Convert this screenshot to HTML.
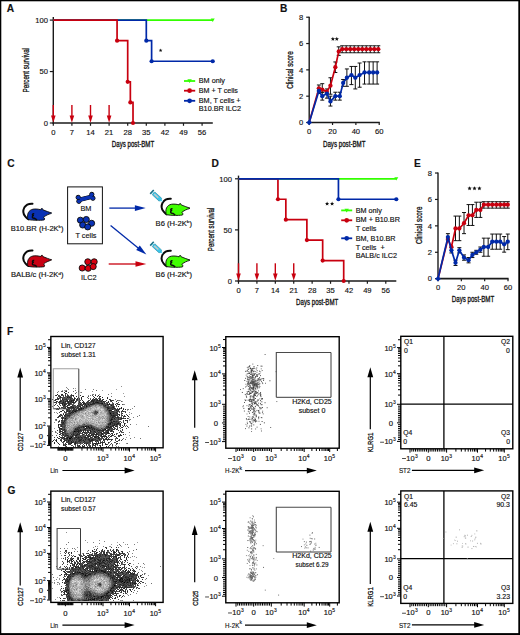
<!DOCTYPE html>
<html><head><meta charset="utf-8"><style>
html,body{margin:0;padding:0;background:#fff;}
svg{display:block;}
text{font-family:"Liberation Sans",sans-serif;fill:#111;stroke:#111;stroke-width:0.15px;}
text.c{stroke-width:0.3px;}
</style></head><body>
<svg width="520" height="635" viewBox="0 0 520 635">
<rect x="0" y="0" width="520" height="635" fill="#000"/>
<rect x="1.3" y="1.3" width="517" height="631.8" fill="#fff"/>
<text x="6.8" y="11.9" font-size="10.2" font-weight="bold" fill="#000">A</text>
<text x="279.9" y="12.1" font-size="10.2" font-weight="bold" fill="#000">B</text>
<text x="7.2" y="167.3" font-size="10.2" font-weight="bold" fill="#000">C</text>
<text x="211.4" y="167.3" font-size="10.2" font-weight="bold" fill="#000">D</text>
<text x="413.9" y="167.1" font-size="10.2" font-weight="bold" fill="#000">E</text>
<text x="7" y="334.6" font-size="10.2" font-weight="bold" fill="#000">F</text>
<text x="7.5" y="493.6" font-size="10.2" font-weight="bold" fill="#000">G</text>
<line x1="53.3" y1="16.9" x2="53.3" y2="123.8" stroke="#1a1a1a" stroke-width="1.4"/>
<line x1="52.6" y1="123" x2="212.8" y2="123" stroke="#1a1a1a" stroke-width="1.7"/>
<line x1="49.8" y1="20.1" x2="53.3" y2="20.1" stroke="#1a1a1a" stroke-width="1.2"/>
<text x="48" y="22.85" font-size="7.6" text-anchor="end">100</text>
<line x1="49.8" y1="71.55" x2="53.3" y2="71.55" stroke="#1a1a1a" stroke-width="1.2"/>
<text x="48" y="74.3" font-size="7.6" text-anchor="end">50</text>
<line x1="49.8" y1="123" x2="53.3" y2="123" stroke="#1a1a1a" stroke-width="1.2"/>
<text x="48" y="125.75" font-size="7.6" text-anchor="end">0</text>
<line x1="53.3" y1="123" x2="53.3" y2="125.8" stroke="#1a1a1a" stroke-width="1.2"/>
<text x="53.3" y="134.9" font-size="7.6" text-anchor="middle">0</text>
<line x1="71.9" y1="123" x2="71.9" y2="125.8" stroke="#1a1a1a" stroke-width="1.2"/>
<text x="71.9" y="134.9" font-size="7.6" text-anchor="middle">7</text>
<line x1="90.5" y1="123" x2="90.5" y2="125.8" stroke="#1a1a1a" stroke-width="1.2"/>
<text x="90.5" y="134.9" font-size="7.6" text-anchor="middle">14</text>
<line x1="109.1" y1="123" x2="109.1" y2="125.8" stroke="#1a1a1a" stroke-width="1.2"/>
<text x="109.1" y="134.9" font-size="7.6" text-anchor="middle">21</text>
<line x1="127.7" y1="123" x2="127.7" y2="125.8" stroke="#1a1a1a" stroke-width="1.2"/>
<text x="127.7" y="134.9" font-size="7.6" text-anchor="middle">28</text>
<line x1="146.3" y1="123" x2="146.3" y2="125.8" stroke="#1a1a1a" stroke-width="1.2"/>
<text x="146.3" y="134.9" font-size="7.6" text-anchor="middle">35</text>
<line x1="164.89" y1="123" x2="164.89" y2="125.8" stroke="#1a1a1a" stroke-width="1.2"/>
<text x="164.89" y="134.9" font-size="7.6" text-anchor="middle">42</text>
<line x1="183.49" y1="123" x2="183.49" y2="125.8" stroke="#1a1a1a" stroke-width="1.2"/>
<text x="183.49" y="134.9" font-size="7.6" text-anchor="middle">49</text>
<line x1="202.09" y1="123" x2="202.09" y2="125.8" stroke="#1a1a1a" stroke-width="1.2"/>
<text x="202.09" y="134.9" font-size="7.6" text-anchor="middle">56</text>
<text x="28.61" y="70.2" font-size="8.4" text-anchor="middle" textLength="44.4" lengthAdjust="spacingAndGlyphs" transform="rotate(-90 28.61 70.2)" class="c">Percent survival</text>
<text x="133" y="147.14" font-size="8.2" text-anchor="middle" textLength="42.3" lengthAdjust="spacingAndGlyphs" class="c">Days post-BMT</text>
<path d="M53.3 20.1 L212.72 20.1" fill="none" stroke="#33ff00" stroke-width="1.7" stroke-linejoin="miter"/>
<path d="M210.72 18.5 L214.72 18.5 L212.72 21.9 Z" fill="#33ff00"/>
<path d="M53.3 20.1 L146.3 20.1 L146.3 40.68 L151.61 40.68 L151.61 61.26 L212.72 61.26" fill="none" stroke="#0029a8" stroke-width="1.7" stroke-linejoin="miter"/>
<circle cx="146.3" cy="40.68" r="2.1" fill="#0029a8"/>
<circle cx="151.61" cy="61.26" r="2.1" fill="#0029a8"/>
<circle cx="212.72" cy="61.26" r="2.1" fill="#0029a8"/>
<path d="M53.3 20.1 L117.07 20.1 L117.07 40.68 L127.7 40.68 L127.7 81.84 L130.35 81.84 L130.35 102.42 L133.01 102.42 L133.01 123" fill="none" stroke="#c8000f" stroke-width="1.7" stroke-linejoin="miter"/>
<circle cx="117.07" cy="40.68" r="2.1" fill="#c8000f"/>
<circle cx="127.7" cy="81.84" r="2.1" fill="#c8000f"/>
<circle cx="130.35" cy="102.42" r="2.1" fill="#c8000f"/>
<circle cx="133.01" cy="123" r="2.1" fill="#c8000f"/>
<line x1="53.3" y1="105" x2="53.3" y2="116.3" stroke="#c8000f" stroke-width="1.4"/>
<path d="M51 115.6 L55.6 115.6 L53.3 122.8 Z" fill="#c8000f"/>
<line x1="71.9" y1="105" x2="71.9" y2="116.3" stroke="#c8000f" stroke-width="1.4"/>
<path d="M69.6 115.6 L74.2 115.6 L71.9 122.8 Z" fill="#c8000f"/>
<line x1="90.5" y1="105" x2="90.5" y2="116.3" stroke="#c8000f" stroke-width="1.4"/>
<path d="M88.2 115.6 L92.8 115.6 L90.5 122.8 Z" fill="#c8000f"/>
<line x1="109.1" y1="105" x2="109.1" y2="116.3" stroke="#c8000f" stroke-width="1.4"/>
<path d="M106.8 115.6 L111.4 115.6 L109.1 122.8 Z" fill="#c8000f"/>
<path d="M160.6 48.5 L161.1 49.71 L162.41 49.81 L161.41 50.66 L161.72 51.94 L160.6 51.26 L159.48 51.94 L159.79 50.66 L158.79 49.81 L160.1 49.71Z" fill="#111"/>
<line x1="184" y1="81" x2="195.2" y2="81" stroke="#33ff00" stroke-width="1.8"/>
<path d="M187.4 79.24 L191.8 79.24 L189.6 82.98 Z" fill="#33ff00"/>
<line x1="184" y1="90.7" x2="195.2" y2="90.7" stroke="#c8000f" stroke-width="1.8"/>
<circle cx="189.6" cy="90.7" r="2.35" fill="#c8000f"/>
<line x1="184" y1="100.8" x2="195.2" y2="100.8" stroke="#0029a8" stroke-width="1.8"/>
<circle cx="189.6" cy="100.8" r="2.35" fill="#0029a8"/>
<text x="198.8" y="83.4" font-size="6.7" textLength="26.14" lengthAdjust="spacingAndGlyphs">BM only</text>
<text x="198.8" y="93.1" font-size="6.7" textLength="39.1" lengthAdjust="spacingAndGlyphs">BM + T cells</text>
<text x="198.8" y="103.3" font-size="6.7" textLength="41.75" lengthAdjust="spacingAndGlyphs">BM, T cells +</text>
<text x="198.8" y="111.3" font-size="6.7" textLength="42.23" lengthAdjust="spacingAndGlyphs">B10.BR ILC2</text>
<!--PANEL_B-->
<line x1="309.2" y1="16.72" x2="309.2" y2="123.2" stroke="#1a1a1a" stroke-width="1.4"/>
<line x1="308.5" y1="122.5" x2="379.82" y2="122.5" stroke="#1a1a1a" stroke-width="1.7"/>
<line x1="306.2" y1="122.5" x2="309.2" y2="122.5" stroke="#1a1a1a" stroke-width="1.2"/>
<text x="303.3" y="125.25" font-size="7.6" text-anchor="end">0</text>
<line x1="306.2" y1="96.18" x2="309.2" y2="96.18" stroke="#1a1a1a" stroke-width="1.2"/>
<text x="303.3" y="98.93" font-size="7.6" text-anchor="end">2</text>
<line x1="306.2" y1="69.86" x2="309.2" y2="69.86" stroke="#1a1a1a" stroke-width="1.2"/>
<text x="303.3" y="72.61" font-size="7.6" text-anchor="end">4</text>
<line x1="306.2" y1="43.54" x2="309.2" y2="43.54" stroke="#1a1a1a" stroke-width="1.2"/>
<text x="303.3" y="46.29" font-size="7.6" text-anchor="end">6</text>
<line x1="306.2" y1="17.22" x2="309.2" y2="17.22" stroke="#1a1a1a" stroke-width="1.2"/>
<text x="303.3" y="19.97" font-size="7.6" text-anchor="end">8</text>
<line x1="309.2" y1="122.5" x2="309.2" y2="125" stroke="#1a1a1a" stroke-width="1.2"/>
<text x="309.2" y="134.3" font-size="7.6" text-anchor="middle">0</text>
<line x1="332.54" y1="122.5" x2="332.54" y2="125" stroke="#1a1a1a" stroke-width="1.2"/>
<text x="332.54" y="134.3" font-size="7.6" text-anchor="middle">20</text>
<line x1="355.88" y1="122.5" x2="355.88" y2="125" stroke="#1a1a1a" stroke-width="1.2"/>
<text x="355.88" y="134.3" font-size="7.6" text-anchor="middle">40</text>
<line x1="379.22" y1="122.5" x2="379.22" y2="125" stroke="#1a1a1a" stroke-width="1.2"/>
<text x="379.22" y="134.3" font-size="7.6" text-anchor="middle">60</text>
<text x="293.21" y="70.1" font-size="8.4" text-anchor="middle" textLength="37.5" lengthAdjust="spacingAndGlyphs" transform="rotate(-90 293.21 70.1)" class="c">Clinical score</text>
<text x="344.21" y="146.64" font-size="8.2" text-anchor="middle" textLength="42.5" lengthAdjust="spacingAndGlyphs" class="c">Days post-BMT</text>
<path d="M332.9 36.75 L333.5 38.18 L335.04 38.3 L333.86 39.31 L334.22 40.82 L332.9 40.01 L331.58 40.82 L331.94 39.31 L330.76 38.3 L332.3 38.18Z" fill="#111"/>
<path d="M336.8 36.75 L337.4 38.18 L338.94 38.3 L337.76 39.31 L338.12 40.82 L336.8 40.01 L335.48 40.82 L335.84 39.31 L334.66 38.3 L336.2 38.18Z" fill="#111"/>
<path d="M318.89 90.92V84.99M316.89 90.92h4M316.89 84.99h4M322.27 92.23V83.68M320.27 92.23h4M320.27 83.68h4M330.44 94.21V77.76M328.44 94.21h4M328.44 77.76h4M335.34 72.49V61.96M333.34 72.49h4M333.34 61.96h4M338.73 55.38V46.83M336.73 55.38h4M336.73 46.83h4M342.2 52.75V45.78M340.2 52.75h4M340.2 45.78h4M346.21 52.75V45.78M344.21 52.75h4M344.21 45.78h4M350.22 52.75V45.78M348.22 52.75h4M348.22 45.78h4M354.23 52.75V45.78M352.23 52.75h4M352.23 45.78h4M358.24 52.75V45.78M356.24 52.75h4M356.24 45.78h4M362.25 52.75V45.78M360.25 52.75h4M360.25 45.78h4M366.26 52.75V45.78M364.26 52.75h4M364.26 45.78h4M370.27 52.75V45.78M368.27 52.75h4M368.27 45.78h4M374.28 52.75V45.78M372.28 52.75h4M372.28 45.78h4M378.29 52.75V45.78M376.29 52.75h4M376.29 45.78h4M318.89 93.55V88.28M316.89 93.55h4M316.89 88.28h4M322.27 100.13V92.23M320.27 100.13h4M320.27 92.23h4M326.94 98.15V88.94M324.94 98.15h4M324.94 88.94h4M330.44 106.05V96.18M328.44 106.05h4M328.44 96.18h4M335.34 100.13V92.23M333.34 100.13h4M333.34 92.23h4M339.78 100.13V92.23M337.78 100.13h4M337.78 92.23h4M343.16 86.31V79.47M341.16 86.31h4M341.16 79.47h4M346.89 86.31V68.94M344.89 86.31h4M344.89 68.94h4M351.45 84.6V66.44M349.45 84.6h4M349.45 66.44h4M355.3 88.94V66.44M353.3 88.94h4M353.3 66.44h4M359.61 87.23V63.02M357.61 87.23h4M357.61 63.02h4M364.52 84.07V61.83M362.52 84.07h4M362.52 61.83h4M369.18 84.07V61.83M367.18 84.07h4M367.18 61.83h4M373.15 84.07V61.83M371.15 84.07h4M371.15 61.83h4M377.12 84.07V61.83M375.12 84.07h4M375.12 61.83h4" stroke="#111" stroke-width="1" fill="none"/>
<path d="M309.2 122.5 L318.89 88.28 L322.27 89.6 L326.82 91.57 L330.44 85.65 L335.34 67.23 L338.73 51.44 L342.2 49.2 L346.21 49.2 L350.22 49.2 L354.23 49.2 L358.24 49.2 L362.25 49.2 L366.26 49.2 L370.27 49.2 L374.28 49.2 L378.29 49.2" fill="none" stroke="#c8000f" stroke-width="1.7" stroke-linejoin="miter"/>
<circle cx="318.89" cy="88.28" r="2.15" fill="#c8000f"/>
<circle cx="322.27" cy="89.6" r="2.15" fill="#c8000f"/>
<circle cx="326.82" cy="91.57" r="2.15" fill="#c8000f"/>
<circle cx="330.44" cy="85.65" r="2.15" fill="#c8000f"/>
<circle cx="335.34" cy="67.23" r="2.15" fill="#c8000f"/>
<circle cx="338.73" cy="51.44" r="2.15" fill="#c8000f"/>
<circle cx="342.2" cy="49.2" r="2.15" fill="#c8000f"/>
<circle cx="346.21" cy="49.2" r="2.15" fill="#c8000f"/>
<circle cx="350.22" cy="49.2" r="2.15" fill="#c8000f"/>
<circle cx="354.23" cy="49.2" r="2.15" fill="#c8000f"/>
<circle cx="358.24" cy="49.2" r="2.15" fill="#c8000f"/>
<circle cx="362.25" cy="49.2" r="2.15" fill="#c8000f"/>
<circle cx="366.26" cy="49.2" r="2.15" fill="#c8000f"/>
<circle cx="370.27" cy="49.2" r="2.15" fill="#c8000f"/>
<circle cx="374.28" cy="49.2" r="2.15" fill="#c8000f"/>
<circle cx="378.29" cy="49.2" r="2.15" fill="#c8000f"/>
<path d="M309.2 122.5 L318.89 90.92 L322.27 96.18 L326.94 93.55 L330.44 101.44 L335.34 96.18 L339.78 96.18 L343.16 83.02 L346.89 77.76 L351.45 75.12 L355.3 77.76 L359.61 75.12 L364.52 72.49 L369.18 72.49 L373.15 72.49 L377.12 72.49" fill="none" stroke="#0029a8" stroke-width="1.7" stroke-linejoin="miter"/>
<circle cx="318.89" cy="90.92" r="2.15" fill="#0029a8"/>
<circle cx="322.27" cy="96.18" r="2.15" fill="#0029a8"/>
<circle cx="326.94" cy="93.55" r="2.15" fill="#0029a8"/>
<circle cx="330.44" cy="101.44" r="2.15" fill="#0029a8"/>
<circle cx="335.34" cy="96.18" r="2.15" fill="#0029a8"/>
<circle cx="339.78" cy="96.18" r="2.15" fill="#0029a8"/>
<circle cx="343.16" cy="83.02" r="2.15" fill="#0029a8"/>
<circle cx="346.89" cy="77.76" r="2.15" fill="#0029a8"/>
<circle cx="351.45" cy="75.12" r="2.15" fill="#0029a8"/>
<circle cx="355.3" cy="77.76" r="2.15" fill="#0029a8"/>
<circle cx="359.61" cy="75.12" r="2.15" fill="#0029a8"/>
<circle cx="364.52" cy="72.49" r="2.15" fill="#0029a8"/>
<circle cx="369.18" cy="72.49" r="2.15" fill="#0029a8"/>
<circle cx="373.15" cy="72.49" r="2.15" fill="#0029a8"/>
<circle cx="377.12" cy="72.49" r="2.15" fill="#0029a8"/>
<path d="M309.2 119.7l2.8 2.8l-2.8 2.8l-2.8 -2.8z" fill="#0029a8"/>
<line x1="438" y1="172.52" x2="438" y2="279.4" stroke="#1a1a1a" stroke-width="1.4"/>
<line x1="437.3" y1="278.7" x2="508.6" y2="278.7" stroke="#1a1a1a" stroke-width="1.7"/>
<line x1="435" y1="278.7" x2="438" y2="278.7" stroke="#1a1a1a" stroke-width="1.2"/>
<text x="432.1" y="281.45" font-size="7.6" text-anchor="end">0</text>
<line x1="435" y1="252.28" x2="438" y2="252.28" stroke="#1a1a1a" stroke-width="1.2"/>
<text x="432.1" y="255.03" font-size="7.6" text-anchor="end">2</text>
<line x1="435" y1="225.86" x2="438" y2="225.86" stroke="#1a1a1a" stroke-width="1.2"/>
<text x="432.1" y="228.61" font-size="7.6" text-anchor="end">4</text>
<line x1="435" y1="199.44" x2="438" y2="199.44" stroke="#1a1a1a" stroke-width="1.2"/>
<text x="432.1" y="202.19" font-size="7.6" text-anchor="end">6</text>
<line x1="435" y1="173.02" x2="438" y2="173.02" stroke="#1a1a1a" stroke-width="1.2"/>
<text x="432.1" y="175.77" font-size="7.6" text-anchor="end">8</text>
<line x1="438" y1="278.7" x2="438" y2="281.2" stroke="#1a1a1a" stroke-width="1.2"/>
<text x="438" y="289.9" font-size="7.6" text-anchor="middle">0</text>
<line x1="461.33" y1="278.7" x2="461.33" y2="281.2" stroke="#1a1a1a" stroke-width="1.2"/>
<text x="461.33" y="289.9" font-size="7.6" text-anchor="middle">20</text>
<line x1="484.67" y1="278.7" x2="484.67" y2="281.2" stroke="#1a1a1a" stroke-width="1.2"/>
<text x="484.67" y="289.9" font-size="7.6" text-anchor="middle">40</text>
<line x1="508" y1="278.7" x2="508" y2="281.2" stroke="#1a1a1a" stroke-width="1.2"/>
<text x="508" y="289.9" font-size="7.6" text-anchor="middle">60</text>
<text x="421.91" y="225.3" font-size="8.4" text-anchor="middle" textLength="37.5" lengthAdjust="spacingAndGlyphs" transform="rotate(-90 421.91 225.3)" class="c">Clinical score</text>
<text x="473" y="302.14" font-size="8.2" text-anchor="middle" textLength="42.5" lengthAdjust="spacingAndGlyphs" class="c">Days post-BMT</text>
<path d="M469.6 186.15 L470.2 187.58 L471.74 187.7 L470.56 188.71 L470.92 190.22 L469.6 189.41 L468.28 190.22 L468.64 188.71 L467.46 187.7 L469 187.58Z" fill="#111"/>
<path d="M474.5 186.15 L475.1 187.58 L476.64 187.7 L475.46 188.71 L475.82 190.22 L474.5 189.41 L473.18 190.22 L473.54 188.71 L472.36 187.7 L473.9 187.58Z" fill="#111"/>
<path d="M479.4 186.15 L480 187.58 L481.54 187.7 L480.36 188.71 L480.72 190.22 L479.4 189.41 L478.08 190.22 L478.44 188.71 L477.26 187.7 L478.8 187.58Z" fill="#111"/>
<path d="M455.5 240.66V216.08M453.5 240.66h4M453.5 216.08h4M459.35 240.66V216.08M457.35 240.66h4M457.35 216.08h4M464.02 233.65V212.52M462.02 233.65h4M462.02 212.52h4M468.57 225.46V204.59M466.57 225.46h4M466.57 204.59h4M472.42 225.46V204.59M470.42 225.46h4M470.42 204.59h4M476.27 217.41V202.21M474.27 217.41h4M474.27 202.21h4M480.35 217.41V202.21M478.35 217.41h4M478.35 202.21h4M483.85 208.16V201.69M481.85 208.16h4M481.85 201.69h4M488.17 208.16V201.69M486.17 208.16h4M486.17 201.69h4M492.25 208.16V201.69M490.25 208.16h4M490.25 201.69h4M496.33 208.16V201.69M494.33 208.16h4M494.33 201.69h4M500.19 208.16V201.69M498.19 208.16h4M498.19 201.69h4M504.15 208.16V201.69M502.15 208.16h4M502.15 201.69h4M507.77 208.16V201.69M505.77 208.16h4M505.77 201.69h4M447.92 239.86V233.65M445.92 239.86h4M445.92 233.65h4M451.42 252.94V247.66M449.42 252.94h4M449.42 247.66h4M455.5 265.49V260.21M453.5 265.49h4M453.5 260.21h4M459.35 252.94V247.66M457.35 252.94h4M457.35 247.66h4M464.02 260.21V254.92M462.02 260.21h4M462.02 254.92h4M468.57 262.85V257.56M466.57 262.85h4M466.57 257.56h4M472.42 257.56V252.28M470.42 257.56h4M470.42 252.28h4M476.27 254.26V250.3M474.27 254.26h4M474.27 250.3h4M480.35 252.28V247M478.35 252.28h4M478.35 247h4M483.85 256.24V238.15M481.85 256.24h4M481.85 238.15h4M488.17 256.24V238.15M486.17 256.24h4M486.17 238.15h4M492.25 249.24V234.05M490.25 249.24h4M490.25 234.05h4M496.33 249.24V234.05M494.33 249.24h4M494.33 234.05h4M500.19 249.24V234.05M498.19 249.24h4M498.19 234.05h4M504.15 252.15V236.56M502.15 252.15h4M502.15 236.56h4M507.77 249.64V234.05M505.77 249.64h4M505.77 234.05h4" stroke="#111" stroke-width="1" fill="none"/>
<path d="M438 278.7 L447.92 239.07 L451.42 247 L455.5 228.5 L459.35 228.5 L464.02 223.22 L468.57 215.29 L472.42 215.29 L476.27 210.01 L480.35 210.01 L483.85 204.72 L488.17 204.72 L492.25 204.72 L496.33 204.72 L500.19 204.72 L504.15 204.72 L507.77 204.72" fill="none" stroke="#c8000f" stroke-width="1.7" stroke-linejoin="miter"/>
<circle cx="447.92" cy="239.07" r="2.15" fill="#c8000f"/>
<circle cx="451.42" cy="247" r="2.15" fill="#c8000f"/>
<circle cx="455.5" cy="228.5" r="2.15" fill="#c8000f"/>
<circle cx="459.35" cy="228.5" r="2.15" fill="#c8000f"/>
<circle cx="464.02" cy="223.22" r="2.15" fill="#c8000f"/>
<circle cx="468.57" cy="215.29" r="2.15" fill="#c8000f"/>
<circle cx="472.42" cy="215.29" r="2.15" fill="#c8000f"/>
<circle cx="476.27" cy="210.01" r="2.15" fill="#c8000f"/>
<circle cx="480.35" cy="210.01" r="2.15" fill="#c8000f"/>
<circle cx="483.85" cy="204.72" r="2.15" fill="#c8000f"/>
<circle cx="488.17" cy="204.72" r="2.15" fill="#c8000f"/>
<circle cx="492.25" cy="204.72" r="2.15" fill="#c8000f"/>
<circle cx="496.33" cy="204.72" r="2.15" fill="#c8000f"/>
<circle cx="500.19" cy="204.72" r="2.15" fill="#c8000f"/>
<circle cx="504.15" cy="204.72" r="2.15" fill="#c8000f"/>
<circle cx="507.77" cy="204.72" r="2.15" fill="#c8000f"/>
<path d="M438 278.7 L447.92 237.09 L451.42 250.3 L455.5 262.85 L459.35 250.3 L464.02 257.56 L468.57 260.21 L472.42 254.92 L476.27 252.28 L480.35 249.64 L483.85 247 L488.17 247 L492.25 241.71 L496.33 241.71 L500.19 241.71 L504.15 244.35 L507.77 241.71" fill="none" stroke="#0029a8" stroke-width="1.7" stroke-linejoin="miter"/>
<circle cx="447.92" cy="237.09" r="2.15" fill="#0029a8"/>
<circle cx="451.42" cy="250.3" r="2.15" fill="#0029a8"/>
<circle cx="455.5" cy="262.85" r="2.15" fill="#0029a8"/>
<circle cx="459.35" cy="250.3" r="2.15" fill="#0029a8"/>
<circle cx="464.02" cy="257.56" r="2.15" fill="#0029a8"/>
<circle cx="468.57" cy="260.21" r="2.15" fill="#0029a8"/>
<circle cx="472.42" cy="254.92" r="2.15" fill="#0029a8"/>
<circle cx="476.27" cy="252.28" r="2.15" fill="#0029a8"/>
<circle cx="480.35" cy="249.64" r="2.15" fill="#0029a8"/>
<circle cx="483.85" cy="247" r="2.15" fill="#0029a8"/>
<circle cx="488.17" cy="247" r="2.15" fill="#0029a8"/>
<circle cx="492.25" cy="241.71" r="2.15" fill="#0029a8"/>
<circle cx="496.33" cy="241.71" r="2.15" fill="#0029a8"/>
<circle cx="500.19" cy="241.71" r="2.15" fill="#0029a8"/>
<circle cx="504.15" cy="244.35" r="2.15" fill="#0029a8"/>
<circle cx="507.77" cy="241.71" r="2.15" fill="#0029a8"/>
<path d="M438 275.9l2.8 2.8l-2.8 2.8l-2.8 -2.8z" fill="#0029a8"/>
<!--PANEL_C-->
<g transform="translate(0 0)">
<path d="M32.5 203.7 C29.6 203.5 26.0 204.8 24.3 207.6 C22.8 210.4 23.3 214.2 25.4 216.6 C26.3 217.6 27.2 218.5 28.3 219.2" fill="none" stroke="#0a0a0a" stroke-width="2.0" stroke-linecap="round"/>
<path d="M28.0 219.6 C27.3 217.5 27.4 214.5 28.3 212.7 C29.2 210.9 30.8 209.6 33.0 209.2 C35.0 208.8 38.5 209.0 40.8 209.8 L41.2 208.7 L42.3 208.5 L42.9 209.8 C44.5 210.4 46.0 211.0 47.5 211.6 C49.0 212.2 50.5 212.6 51.7 213.0 C51.0 213.6 50.0 213.9 49.1 214.1 C47.6 214.7 46.5 215.2 45.6 215.8 C44.8 216.3 44.0 216.8 43.5 217.2 C44.2 217.8 44.7 218.4 44.6 219.0 L44.2 219.9 C41.5 220.3 39.0 220.3 37.3 220.3 C34 220.3 31 220.1 28.0 219.6 Z" fill="#0a32b4" stroke="#0a0a0a" stroke-width="0.9" stroke-linejoin="round"/>
<path d="M34.2 213.7 C32.3 213.5 31.8 215.2 33.4 215.6 C31.7 216.2 31.9 218.4 34.6 218.3 L37.0 219.9" fill="none" stroke="#0a0a0a" stroke-width="1.4" stroke-linejoin="round"/>
</g>
<g transform="translate(0 46.8)">
<path d="M32.5 203.7 C29.6 203.5 26.0 204.8 24.3 207.6 C22.8 210.4 23.3 214.2 25.4 216.6 C26.3 217.6 27.2 218.5 28.3 219.2" fill="none" stroke="#0a0a0a" stroke-width="2.0" stroke-linecap="round"/>
<path d="M28.0 219.6 C27.3 217.5 27.4 214.5 28.3 212.7 C29.2 210.9 30.8 209.6 33.0 209.2 C35.0 208.8 38.5 209.0 40.8 209.8 L41.2 208.7 L42.3 208.5 L42.9 209.8 C44.5 210.4 46.0 211.0 47.5 211.6 C49.0 212.2 50.5 212.6 51.7 213.0 C51.0 213.6 50.0 213.9 49.1 214.1 C47.6 214.7 46.5 215.2 45.6 215.8 C44.8 216.3 44.0 216.8 43.5 217.2 C44.2 217.8 44.7 218.4 44.6 219.0 L44.2 219.9 C41.5 220.3 39.0 220.3 37.3 220.3 C34 220.3 31 220.1 28.0 219.6 Z" fill="#c80012" stroke="#0a0a0a" stroke-width="0.9" stroke-linejoin="round"/>
<path d="M34.2 213.7 C32.3 213.5 31.8 215.2 33.4 215.6 C31.7 216.2 31.9 218.4 34.6 218.3 L37.0 219.9" fill="none" stroke="#0a0a0a" stroke-width="1.4" stroke-linejoin="round"/>
</g>
<g transform="translate(138.3 -4.9)">
<path d="M32.5 203.7 C29.6 203.5 26.0 204.8 24.3 207.6 C22.8 210.4 23.3 214.2 25.4 216.6 C26.3 217.6 27.2 218.5 28.3 219.2" fill="none" stroke="#0a0a0a" stroke-width="2.0" stroke-linecap="round"/>
<path d="M28.0 219.6 C27.3 217.5 27.4 214.5 28.3 212.7 C29.2 210.9 30.8 209.6 33.0 209.2 C35.0 208.8 38.5 209.0 40.8 209.8 L41.2 208.7 L42.3 208.5 L42.9 209.8 C44.5 210.4 46.0 211.0 47.5 211.6 C49.0 212.2 50.5 212.6 51.7 213.0 C51.0 213.6 50.0 213.9 49.1 214.1 C47.6 214.7 46.5 215.2 45.6 215.8 C44.8 216.3 44.0 216.8 43.5 217.2 C44.2 217.8 44.7 218.4 44.6 219.0 L44.2 219.9 C41.5 220.3 39.0 220.3 37.3 220.3 C34 220.3 31 220.1 28.0 219.6 Z" fill="#40ff00" stroke="#0a0a0a" stroke-width="0.9" stroke-linejoin="round"/>
<path d="M34.2 213.7 C32.3 213.5 31.8 215.2 33.4 215.6 C31.7 216.2 31.9 218.4 34.6 218.3 L37.0 219.9" fill="none" stroke="#0a0a0a" stroke-width="1.4" stroke-linejoin="round"/>
</g>
<g transform="translate(138.3 47)">
<path d="M32.5 203.7 C29.6 203.5 26.0 204.8 24.3 207.6 C22.8 210.4 23.3 214.2 25.4 216.6 C26.3 217.6 27.2 218.5 28.3 219.2" fill="none" stroke="#0a0a0a" stroke-width="2.0" stroke-linecap="round"/>
<path d="M28.0 219.6 C27.3 217.5 27.4 214.5 28.3 212.7 C29.2 210.9 30.8 209.6 33.0 209.2 C35.0 208.8 38.5 209.0 40.8 209.8 L41.2 208.7 L42.3 208.5 L42.9 209.8 C44.5 210.4 46.0 211.0 47.5 211.6 C49.0 212.2 50.5 212.6 51.7 213.0 C51.0 213.6 50.0 213.9 49.1 214.1 C47.6 214.7 46.5 215.2 45.6 215.8 C44.8 216.3 44.0 216.8 43.5 217.2 C44.2 217.8 44.7 218.4 44.6 219.0 L44.2 219.9 C41.5 220.3 39.0 220.3 37.3 220.3 C34 220.3 31 220.1 28.0 219.6 Z" fill="#40ff00" stroke="#0a0a0a" stroke-width="0.9" stroke-linejoin="round"/>
<path d="M34.2 213.7 C32.3 213.5 31.8 215.2 33.4 215.6 C31.7 216.2 31.9 218.4 34.6 218.3 L37.0 219.9" fill="none" stroke="#0a0a0a" stroke-width="1.4" stroke-linejoin="round"/>
</g>
<g transform="translate(151.6 191.6) rotate(42.6)">
<rect x="-0.3" y="-2.6" width="1.6" height="5.2" fill="#1a6f86"/>
<rect x="1.3" y="-0.6" width="1.4" height="1.2" fill="#3cc6ea"/>
<rect x="2.6" y="-1.9" width="9.43" height="3.8" fill="#3cc6ea" stroke="#1a7a95" stroke-width="0.5"/>
<rect x="3.6" y="-0.75" width="5.48" height="1.5" fill="#c8c8c8"/>
<path d="M12.03 -1.9 L13.63 -0.5 L13.63 0.5 L12.03 1.9 Z" fill="#3cc6ea"/>
<line x1="13.53" y1="0" x2="15.22" y2="0" stroke="#3cc6ea" stroke-width="0.8"/>
</g>
<g transform="translate(151.6 243.4) rotate(42.6)">
<rect x="-0.3" y="-2.6" width="1.6" height="5.2" fill="#1a6f86"/>
<rect x="1.3" y="-0.6" width="1.4" height="1.2" fill="#3cc6ea"/>
<rect x="2.6" y="-1.9" width="9.43" height="3.8" fill="#3cc6ea" stroke="#1a7a95" stroke-width="0.5"/>
<rect x="3.6" y="-0.75" width="5.48" height="1.5" fill="#c8c8c8"/>
<path d="M12.03 -1.9 L13.63 -0.5 L13.63 0.5 L12.03 1.9 Z" fill="#3cc6ea"/>
<line x1="13.53" y1="0" x2="15.22" y2="0" stroke="#3cc6ea" stroke-width="0.8"/>
</g>
<rect x="67.6" y="186.9" width="34.8" height="56.9" fill="none" stroke="#111" stroke-width="1.0"/>
<g fill="#0a32b4" stroke="#0a0a0a" stroke-width="1.0">
<path d="M79.2 198.0 L91.6 195.0 L92.6 198.3 L80.2 201.4 Z"/>
<circle cx="78.2" cy="197.4" r="2.15"/>
<circle cx="78.9" cy="201.3" r="2.15"/>
<circle cx="91.8" cy="194.4" r="2.15"/>
<circle cx="92.9" cy="198.2" r="2.15"/>
</g>
<g fill="#0a32b4">
<path d="M79.2 198.0 L91.6 195.0 L92.6 198.3 L80.2 201.4 Z"/>
<circle cx="78.2" cy="197.4" r="1.65"/>
<circle cx="78.9" cy="201.3" r="1.65"/>
<circle cx="91.8" cy="194.4" r="1.65"/>
<circle cx="92.9" cy="198.2" r="1.65"/>
</g>
<g fill="#0a32b4" stroke="#0a0a0a" stroke-width="0.9">
<circle cx="80.4" cy="220.2" r="3.05"/>
<circle cx="86.3" cy="219.5" r="3.05"/>
<circle cx="91.6" cy="223.3" r="3.05"/>
<circle cx="82.7" cy="225" r="3.05"/>
<circle cx="87.7" cy="226.9" r="3.05"/>
</g>
<g fill="#d8000f" stroke="#0a0a0a" stroke-width="0.9">
<circle cx="87.8" cy="261.8" r="3.05"/>
<circle cx="94.2" cy="261.8" r="3.05"/>
<circle cx="82.2" cy="268" r="3.05"/>
<circle cx="88.2" cy="268.3" r="3.05"/>
<circle cx="93.2" cy="266.6" r="3.05"/>
</g>
<text x="10.8" y="230.5" font-size="6.6" textLength="52.7" lengthAdjust="spacingAndGlyphs">B10.BR (H-2K<tspan font-size="4.09" dy="-2.6">k</tspan><tspan dy="2.6">)</tspan></text>
<text x="11" y="277.1" font-size="6.6" textLength="52.5" lengthAdjust="spacingAndGlyphs">BALB/c (H-2K<tspan font-size="4.09" dy="-2.6">d</tspan><tspan dy="2.6">)</tspan></text>
<text x="155.6" y="225.5" font-size="6.6" textLength="36.4" lengthAdjust="spacingAndGlyphs">B6 (H-2K<tspan font-size="4.09" dy="-2.6">b</tspan><tspan dy="2.6">)</tspan></text>
<text x="155.6" y="276.6" font-size="6.6" textLength="36.4" lengthAdjust="spacingAndGlyphs">B6 (H-2K<tspan font-size="4.09" dy="-2.6">b</tspan><tspan dy="2.6">)</tspan></text>
<text x="85.9" y="210.9" font-size="7.3" text-anchor="middle">BM</text>
<text x="86" y="238.1" font-size="7.3" text-anchor="middle">T cells</text>
<text x="88.8" y="280" font-size="7.3" text-anchor="middle">ILC2</text>
<line x1="109.3" y1="208.1" x2="135.9" y2="208.1" stroke="#0029a8" stroke-width="1.3"/>
<path d="M145.7 208.1 L134.9 210.95 L134.9 205.25 Z" fill="#0029a8"/>
<line x1="110.6" y1="225.6" x2="138.78" y2="248.43" stroke="#0029a8" stroke-width="1.3"/>
<path d="M146.4 254.6 L136.21 250.02 L139.8 245.59 Z" fill="#0029a8"/>
<line x1="108.7" y1="264" x2="136.5" y2="264" stroke="#c8000f" stroke-width="1.3"/>
<path d="M146.3 264 L135.5 266.85 L135.5 261.15 Z" fill="#c8000f"/>
<!--PANEL_D-->
<line x1="238.5" y1="175.6" x2="238.5" y2="281.8" stroke="#1a1a1a" stroke-width="1.4"/>
<line x1="237.8" y1="281" x2="396.3" y2="281" stroke="#1a1a1a" stroke-width="1.7"/>
<line x1="235" y1="178.8" x2="238.5" y2="178.8" stroke="#1a1a1a" stroke-width="1.2"/>
<text x="232" y="181.55" font-size="7.6" text-anchor="end">100</text>
<line x1="235" y1="229.9" x2="238.5" y2="229.9" stroke="#1a1a1a" stroke-width="1.2"/>
<text x="232" y="232.65" font-size="7.6" text-anchor="end">50</text>
<line x1="235" y1="281" x2="238.5" y2="281" stroke="#1a1a1a" stroke-width="1.2"/>
<text x="232" y="283.75" font-size="7.6" text-anchor="end">0</text>
<line x1="238.5" y1="281" x2="238.5" y2="283.8" stroke="#1a1a1a" stroke-width="1.2"/>
<text x="238.5" y="292.9" font-size="7.6" text-anchor="middle">0</text>
<line x1="256.91" y1="281" x2="256.91" y2="283.8" stroke="#1a1a1a" stroke-width="1.2"/>
<text x="256.91" y="292.9" font-size="7.6" text-anchor="middle">7</text>
<line x1="275.32" y1="281" x2="275.32" y2="283.8" stroke="#1a1a1a" stroke-width="1.2"/>
<text x="275.32" y="292.9" font-size="7.6" text-anchor="middle">14</text>
<line x1="293.73" y1="281" x2="293.73" y2="283.8" stroke="#1a1a1a" stroke-width="1.2"/>
<text x="293.73" y="292.9" font-size="7.6" text-anchor="middle">21</text>
<line x1="312.14" y1="281" x2="312.14" y2="283.8" stroke="#1a1a1a" stroke-width="1.2"/>
<text x="312.14" y="292.9" font-size="7.6" text-anchor="middle">28</text>
<line x1="330.55" y1="281" x2="330.55" y2="283.8" stroke="#1a1a1a" stroke-width="1.2"/>
<text x="330.55" y="292.9" font-size="7.6" text-anchor="middle">35</text>
<line x1="348.96" y1="281" x2="348.96" y2="283.8" stroke="#1a1a1a" stroke-width="1.2"/>
<text x="348.96" y="292.9" font-size="7.6" text-anchor="middle">42</text>
<line x1="367.37" y1="281" x2="367.37" y2="283.8" stroke="#1a1a1a" stroke-width="1.2"/>
<text x="367.37" y="292.9" font-size="7.6" text-anchor="middle">49</text>
<line x1="385.78" y1="281" x2="385.78" y2="283.8" stroke="#1a1a1a" stroke-width="1.2"/>
<text x="385.78" y="292.9" font-size="7.6" text-anchor="middle">56</text>
<text x="213.61" y="229.4" font-size="8.4" text-anchor="middle" textLength="43.6" lengthAdjust="spacingAndGlyphs" transform="rotate(-90 213.61 229.4)" class="c">Percent survival</text>
<text x="317.2" y="304.94" font-size="8.2" text-anchor="middle" textLength="42.2" lengthAdjust="spacingAndGlyphs" class="c">Days post-BMT</text>
<path d="M238.5 178.8 L396.3 178.8" fill="none" stroke="#33ff00" stroke-width="1.7" stroke-linejoin="miter"/>
<path d="M394.3 177.2 L398.3 177.2 L396.3 180.6 Z" fill="#33ff00"/>
<path d="M238.5 178.8 L277.95 178.8 L277.95 199.24 L285.84 199.24 L285.84 219.68 L306.88 219.68 L306.88 240.12 L322.66 240.12 L322.66 260.56 L343.7 260.56 L343.7 281" fill="none" stroke="#c8000f" stroke-width="1.7" stroke-linejoin="miter"/>
<circle cx="277.95" cy="199.24" r="2.1" fill="#c8000f"/>
<circle cx="285.84" cy="219.68" r="2.1" fill="#c8000f"/>
<circle cx="306.88" cy="240.12" r="2.1" fill="#c8000f"/>
<circle cx="322.66" cy="260.56" r="2.1" fill="#c8000f"/>
<circle cx="343.7" cy="281" r="2.1" fill="#c8000f"/>
<path d="M238.5 178.8 L338.44 178.8 L338.44 199.24 L396.3 199.24" fill="none" stroke="#0029a8" stroke-width="1.7" stroke-linejoin="miter"/>
<circle cx="338.44" cy="199.24" r="2.1" fill="#0029a8"/>
<circle cx="396.3" cy="199.24" r="2.1" fill="#0029a8"/>
<line x1="238.5" y1="263.3" x2="238.5" y2="274.3" stroke="#c8000f" stroke-width="1.4"/>
<path d="M236.2 273.6 L240.8 273.6 L238.5 280.8 Z" fill="#c8000f"/>
<line x1="256.91" y1="263.3" x2="256.91" y2="274.3" stroke="#c8000f" stroke-width="1.4"/>
<path d="M254.61 273.6 L259.21 273.6 L256.91 280.8 Z" fill="#c8000f"/>
<line x1="275.32" y1="263.3" x2="275.32" y2="274.3" stroke="#c8000f" stroke-width="1.4"/>
<path d="M273.02 273.6 L277.62 273.6 L275.32 280.8 Z" fill="#c8000f"/>
<line x1="293.73" y1="263.3" x2="293.73" y2="274.3" stroke="#c8000f" stroke-width="1.4"/>
<path d="M291.43 273.6 L296.03 273.6 L293.73 280.8 Z" fill="#c8000f"/>
<path d="M327.1 201.5 L327.68 202.9 L329.19 203.02 L328.04 204.01 L328.39 205.48 L327.1 204.69 L325.81 205.48 L326.16 204.01 L325.01 203.02 L326.52 202.9Z" fill="#111"/>
<path d="M332.1 201.5 L332.68 202.9 L334.19 203.02 L333.04 204.01 L333.39 205.48 L332.1 204.69 L330.81 205.48 L331.16 204.01 L330.01 203.02 L331.52 202.9Z" fill="#111"/>
<line x1="341.2" y1="210.4" x2="352.2" y2="210.4" stroke="#33ff00" stroke-width="1.8"/>
<path d="M344.5 208.64 L348.9 208.64 L346.7 212.38 Z" fill="#33ff00"/>
<line x1="341.2" y1="220.3" x2="352.2" y2="220.3" stroke="#c8000f" stroke-width="1.8"/>
<circle cx="346.7" cy="220.3" r="2.35" fill="#c8000f"/>
<line x1="341.2" y1="238.3" x2="352.2" y2="238.3" stroke="#0029a8" stroke-width="1.8"/>
<circle cx="346.7" cy="238.3" r="2.35" fill="#0029a8"/>
<text x="355.7" y="212.7" font-size="6.7" textLength="26.14" lengthAdjust="spacingAndGlyphs">BM only</text>
<text x="355.7" y="222.1" font-size="6.7" textLength="44.3" lengthAdjust="spacingAndGlyphs">BM + B10.BR</text>
<text x="355.7" y="231.2" font-size="6.7" textLength="20.77" lengthAdjust="spacingAndGlyphs">T cells</text>
<text x="355.7" y="240.7" font-size="6.7" textLength="39.81" lengthAdjust="spacingAndGlyphs">BM, B10.BR</text>
<text x="355.7" y="249.7" font-size="6.7" textLength="29.02" lengthAdjust="spacingAndGlyphs" xml:space="preserve">T cells  +</text>
<text x="355.7" y="258" font-size="6.7" textLength="41.43" lengthAdjust="spacingAndGlyphs">BALB/c ILC2</text>
<!--PANEL_FG-->
<!--DENSITY-->
<rect x="50.85" y="336.5" width="112.25" height="111.3" fill="none" stroke="#000" stroke-width="1.4"/>
<path d="M47.05 435.7h3.8M48.05 434.73h2.8M48.05 436.67h2.8M48.05 433.76h2.8M48.05 437.64h2.8M48.05 432.79h2.8M48.05 438.61h2.8M48.05 431.82h2.8M48.05 439.58h2.8M48.05 430.85h2.8M48.05 440.55h2.8M48.05 429.88h2.8M48.05 441.52h2.8M48.05 428.91h2.8M48.05 442.49h2.8M48.05 427.94h2.8M48.05 443.46h2.8M48.05 426.97h2.8M48.05 444.43h2.8M47.05 426h3.8M47.05 445.4h3.8M48.05 417.81h2.8M48.05 413.02h2.8M48.05 409.62h2.8M48.05 406.99h2.8M48.05 404.83h2.8M48.05 403.01h2.8M48.05 401.44h2.8M48.05 400.04h2.8M47.05 398.8h3.8M48.05 391h2.8M48.05 386.44h2.8M48.05 383.21h2.8M48.05 380.7h2.8M48.05 378.65h2.8M48.05 376.91h2.8M48.05 375.41h2.8M48.05 374.09h2.8M47.05 372.9h3.8M48.05 365.22h2.8M48.05 360.73h2.8M48.05 357.55h2.8M48.05 355.08h2.8M48.05 353.06h2.8M48.05 351.35h2.8M48.05 349.87h2.8M48.05 348.57h2.8M47.05 347.4h3.8M48.05 339.72h2.8M65.4 447.8v3.8M66.15 447.8v2.8M64.65 447.8v2.8M66.9 447.8v2.8M63.9 447.8v2.8M67.65 447.8v2.8M63.15 447.8v2.8M68.4 447.8v2.8M62.4 447.8v2.8M69.15 447.8v2.8M61.65 447.8v2.8M69.9 447.8v2.8M60.9 447.8v2.8M70.65 447.8v2.8M60.15 447.8v2.8M71.4 447.8v2.8M59.4 447.8v2.8M72.15 447.8v2.8M58.65 447.8v2.8M72.9 447.8v2.8M57.9 447.8v2.8M81.96 447.8v2.8M87.26 447.8v2.8M91.02 447.8v2.8M93.94 447.8v2.8M96.32 447.8v2.8M98.34 447.8v2.8M100.08 447.8v2.8M101.62 447.8v2.8M103 447.8v3.8M110.98 447.8v2.8M115.64 447.8v2.8M118.95 447.8v2.8M121.52 447.8v2.8M123.62 447.8v2.8M125.4 447.8v2.8M126.93 447.8v2.8M128.29 447.8v2.8M129.5 447.8v3.8M137.36 447.8v2.8M141.95 447.8v2.8M145.21 447.8v2.8M147.74 447.8v2.8M149.81 447.8v2.8M151.56 447.8v2.8M153.07 447.8v2.8M154.41 447.8v2.8M155.6 447.8v3.8" stroke="#000" stroke-width="1" fill="none"/>
<text x="34.4" y="350.4" font-size="7" textLength="8.3" lengthAdjust="spacingAndGlyphs">10</text>
<text x="43" y="347.4" font-size="4.9">5</text>
<text x="34.4" y="375.9" font-size="7" textLength="8.3" lengthAdjust="spacingAndGlyphs">10</text>
<text x="43" y="372.9" font-size="4.9">4</text>
<text x="34.4" y="401.8" font-size="7" textLength="8.3" lengthAdjust="spacingAndGlyphs">10</text>
<text x="43" y="398.8" font-size="4.9">3</text>
<text x="34.4" y="429" font-size="7" textLength="8.3" lengthAdjust="spacingAndGlyphs">10</text>
<text x="43" y="426" font-size="4.9">2</text>
<text x="38.7" y="438.7" font-size="7" textLength="4.3" lengthAdjust="spacingAndGlyphs">0</text>
<rect x="30.1" y="445.8" width="3.9" height="0.75" fill="#111"/>
<text x="34.4" y="448.4" font-size="7" textLength="8.3" lengthAdjust="spacingAndGlyphs">10</text>
<text x="43" y="445.4" font-size="4.9">2</text>
<text x="63.25" y="461" font-size="7" textLength="4.3" lengthAdjust="spacingAndGlyphs">0</text>
<text x="97.05" y="461" font-size="7" textLength="8.3" lengthAdjust="spacingAndGlyphs">10</text>
<text x="105.65" y="458" font-size="4.9">3</text>
<text x="123.55" y="461" font-size="7" textLength="8.3" lengthAdjust="spacingAndGlyphs">10</text>
<text x="132.15" y="458" font-size="4.9">4</text>
<text x="149.65" y="461" font-size="7" textLength="8.3" lengthAdjust="spacingAndGlyphs">10</text>
<text x="158.25" y="458" font-size="4.9">5</text>
<line x1="20.2" y1="430.8" x2="20.2" y2="375.6" stroke="#000" stroke-width="1.2"/>
<path d="M20.2 367.6 L17.3 377.6 L23.1 377.6 Z" fill="#000"/>
<text x="23.06" y="441.8" font-size="8" text-anchor="middle" textLength="18.5" lengthAdjust="spacingAndGlyphs" transform="rotate(-90 23.06 441.8)" class="c">CD127</text>
<line x1="62.4" y1="470.5" x2="126.6" y2="470.5" stroke="#000" stroke-width="1.2"/>
<path d="M134.6 470.5 L124.6 467.6 L124.6 473.4 Z" fill="#000"/>
<text x="50.2" y="473.4" font-size="8" textLength="8" lengthAdjust="spacingAndGlyphs">Lin</text>
<rect x="225.8" y="336.7" width="113.4" height="111.5" fill="none" stroke="#000" stroke-width="1.4"/>
<path d="M222 422.95h3.8M223 421.09h2.8M223 424.81h2.8M223 419.22h2.8M223 426.68h2.8M223 417.36h2.8M223 428.55h2.8M223 415.49h2.8M223 430.41h2.8M223 413.62h2.8M223 432.28h2.8M223 411.76h2.8M223 434.14h2.8M223 409.9h2.8M223 436h2.8M223 408.03h2.8M223 437.87h2.8M223 406.17h2.8M223 439.74h2.8M222 404.3h3.8M222 441.6h3.8M223 395.15h2.8M223 389.8h2.8M223 386h2.8M223 383.05h2.8M223 380.64h2.8M223 378.61h2.8M223 376.85h2.8M223 375.29h2.8M222 373.9h3.8M223 365.95h2.8M223 361.3h2.8M223 358.01h2.8M223 355.45h2.8M223 353.36h2.8M223 351.59h2.8M223 350.06h2.8M223 348.71h2.8M222 347.5h3.8M223 339.55h2.8M253.65 448.2v3.8M255.42 448.2v2.8M251.88 448.2v2.8M257.18 448.2v2.8M250.12 448.2v2.8M258.94 448.2v2.8M248.36 448.2v2.8M260.71 448.2v2.8M246.59 448.2v2.8M262.48 448.2v2.8M244.82 448.2v2.8M264.24 448.2v2.8M243.06 448.2v2.8M266 448.2v2.8M241.3 448.2v2.8M267.77 448.2v2.8M239.53 448.2v2.8M269.54 448.2v2.8M237.76 448.2v2.8M271.3 448.2v3.8M236 448.2v3.8M281.2 448.2v2.8M287 448.2v2.8M291.11 448.2v2.8M294.3 448.2v2.8M296.9 448.2v2.8M299.1 448.2v2.8M301.01 448.2v2.8M302.69 448.2v2.8M304.2 448.2v3.8M311.88 448.2v2.8M316.37 448.2v2.8M319.55 448.2v2.8M322.02 448.2v2.8M324.04 448.2v2.8M325.75 448.2v2.8M327.23 448.2v2.8M328.53 448.2v2.8M329.7 448.2v3.8M337.38 448.2v2.8" stroke="#000" stroke-width="1" fill="none"/>
<text x="209.4" y="350.5" font-size="7" textLength="8.3" lengthAdjust="spacingAndGlyphs">10</text>
<text x="218" y="347.5" font-size="4.9">5</text>
<text x="209.4" y="376.9" font-size="7" textLength="8.3" lengthAdjust="spacingAndGlyphs">10</text>
<text x="218" y="373.9" font-size="4.9">4</text>
<text x="209.4" y="407.3" font-size="7" textLength="8.3" lengthAdjust="spacingAndGlyphs">10</text>
<text x="218" y="404.3" font-size="4.9">3</text>
<text x="213.7" y="425.95" font-size="7" textLength="4.3" lengthAdjust="spacingAndGlyphs">0</text>
<rect x="205.1" y="442" width="3.9" height="0.75" fill="#111"/>
<text x="209.4" y="444.6" font-size="7" textLength="8.3" lengthAdjust="spacingAndGlyphs">10</text>
<text x="218" y="441.6" font-size="4.9">3</text>
<rect x="228.05" y="458" width="3.9" height="0.75" fill="#111"/>
<text x="232.35" y="460.6" font-size="7" textLength="8.3" lengthAdjust="spacingAndGlyphs">10</text>
<text x="240.95" y="457.6" font-size="4.9">3</text>
<text x="251.5" y="460.6" font-size="7" textLength="4.3" lengthAdjust="spacingAndGlyphs">0</text>
<text x="265.35" y="460.6" font-size="7" textLength="8.3" lengthAdjust="spacingAndGlyphs">10</text>
<text x="273.95" y="457.6" font-size="4.9">3</text>
<text x="298.25" y="460.6" font-size="7" textLength="8.3" lengthAdjust="spacingAndGlyphs">10</text>
<text x="306.85" y="457.6" font-size="4.9">4</text>
<text x="323.75" y="460.6" font-size="7" textLength="8.3" lengthAdjust="spacingAndGlyphs">10</text>
<text x="332.35" y="457.6" font-size="4.9">5</text>
<line x1="194.7" y1="427.7" x2="194.7" y2="378.3" stroke="#000" stroke-width="1.2"/>
<path d="M194.7 370.3 L191.8 380.3 L197.6 380.3 Z" fill="#000"/>
<text x="197.56" y="443.6" font-size="8" text-anchor="middle" textLength="15" lengthAdjust="spacingAndGlyphs" transform="rotate(-90 197.56 443.6)" class="c">CD25</text>
<text x="225.1" y="473.4" font-size="8" textLength="14.2" lengthAdjust="spacingAndGlyphs">H-2K</text>
<text x="239.4" y="469.6" font-size="5">k</text>
<line x1="245" y1="470.6" x2="308.8" y2="470.6" stroke="#000" stroke-width="1.2"/>
<path d="M316.8 470.6 L306.8 467.7 L306.8 473.5 Z" fill="#000"/>
<text x="0" y="473.5" font-size="8"></text>
<rect x="400.8" y="336.3" width="112" height="112.5" fill="none" stroke="#000" stroke-width="1.4"/>
<path d="M397 422.85h3.8M398 421h2.8M398 424.7h2.8M398 419.14h2.8M398 426.56h2.8M398 417.29h2.8M398 428.41h2.8M398 415.43h2.8M398 430.27h2.8M398 413.57h2.8M398 432.12h2.8M398 411.72h2.8M398 433.98h2.8M398 409.87h2.8M398 435.83h2.8M398 408.01h2.8M398 437.69h2.8M398 406.16h2.8M398 439.54h2.8M397 404.3h3.8M397 441.4h3.8M398 395.09h2.8M398 389.7h2.8M398 385.88h2.8M398 382.91h2.8M398 380.49h2.8M398 378.44h2.8M398 376.67h2.8M398 375.1h2.8M397 373.7h3.8M398 365.84h2.8M398 361.25h2.8M398 357.99h2.8M398 355.46h2.8M398 353.39h2.8M398 351.64h2.8M398 350.13h2.8M398 348.79h2.8M397 347.6h3.8M398 339.74h2.8M428.3 448.8v3.8M430.13 448.8v2.8M426.47 448.8v2.8M431.96 448.8v2.8M424.64 448.8v2.8M433.79 448.8v2.8M422.81 448.8v2.8M435.62 448.8v2.8M420.98 448.8v2.8M437.45 448.8v2.8M419.15 448.8v2.8M439.28 448.8v2.8M417.32 448.8v2.8M441.11 448.8v2.8M415.49 448.8v2.8M442.94 448.8v2.8M413.66 448.8v2.8M444.77 448.8v2.8M411.83 448.8v2.8M446.6 448.8v3.8M410 448.8v3.8M455.9 448.8v2.8M461.34 448.8v2.8M465.2 448.8v2.8M468.2 448.8v2.8M470.64 448.8v2.8M472.71 448.8v2.8M474.51 448.8v2.8M476.09 448.8v2.8M477.5 448.8v3.8M485.57 448.8v2.8M490.29 448.8v2.8M493.64 448.8v2.8M496.23 448.8v2.8M498.35 448.8v2.8M500.15 448.8v2.8M501.7 448.8v2.8M503.07 448.8v2.8M504.3 448.8v3.8" stroke="#000" stroke-width="1" fill="none"/>
<text x="384.4" y="350.6" font-size="7" textLength="8.3" lengthAdjust="spacingAndGlyphs">10</text>
<text x="393" y="347.6" font-size="4.9">5</text>
<text x="384.4" y="376.7" font-size="7" textLength="8.3" lengthAdjust="spacingAndGlyphs">10</text>
<text x="393" y="373.7" font-size="4.9">4</text>
<text x="384.4" y="407.3" font-size="7" textLength="8.3" lengthAdjust="spacingAndGlyphs">10</text>
<text x="393" y="404.3" font-size="4.9">3</text>
<text x="388.7" y="425.85" font-size="7" textLength="4.3" lengthAdjust="spacingAndGlyphs">0</text>
<rect x="380.1" y="441.8" width="3.9" height="0.75" fill="#111"/>
<text x="384.4" y="444.4" font-size="7" textLength="8.3" lengthAdjust="spacingAndGlyphs">10</text>
<text x="393" y="441.4" font-size="4.9">3</text>
<rect x="402.05" y="458.2" width="3.9" height="0.75" fill="#111"/>
<text x="406.35" y="460.8" font-size="7" textLength="8.3" lengthAdjust="spacingAndGlyphs">10</text>
<text x="414.95" y="457.8" font-size="4.9">3</text>
<text x="426.15" y="460.8" font-size="7" textLength="4.3" lengthAdjust="spacingAndGlyphs">0</text>
<text x="440.65" y="460.8" font-size="7" textLength="8.3" lengthAdjust="spacingAndGlyphs">10</text>
<text x="449.25" y="457.8" font-size="4.9">3</text>
<text x="471.55" y="460.8" font-size="7" textLength="8.3" lengthAdjust="spacingAndGlyphs">10</text>
<text x="480.15" y="457.8" font-size="4.9">4</text>
<text x="498.35" y="460.8" font-size="7" textLength="8.3" lengthAdjust="spacingAndGlyphs">10</text>
<text x="506.95" y="457.8" font-size="4.9">5</text>
<line x1="370.3" y1="429.3" x2="370.3" y2="375.2" stroke="#000" stroke-width="1.2"/>
<path d="M370.3 367.2 L367.4 377.2 L373.2 377.2 Z" fill="#000"/>
<text x="373.16" y="442.4" font-size="8" text-anchor="middle" textLength="19.5" lengthAdjust="spacingAndGlyphs" transform="rotate(-90 373.16 442.4)" class="c">KLRG1</text>
<line x1="411.9" y1="470.3" x2="476.2" y2="470.3" stroke="#000" stroke-width="1.2"/>
<path d="M484.2 470.3 L474.2 467.4 L474.2 473.2 Z" fill="#000"/>
<text x="398.9" y="473.2" font-size="8" textLength="11.6" lengthAdjust="spacingAndGlyphs">ST2</text>
<rect x="50.85" y="491.1" width="112.25" height="111.3" fill="none" stroke="#000" stroke-width="1.4"/>
<path d="M47.05 590.3h3.8M48.05 589.33h2.8M48.05 591.27h2.8M48.05 588.36h2.8M48.05 592.24h2.8M48.05 587.39h2.8M48.05 593.21h2.8M48.05 586.42h2.8M48.05 594.18h2.8M48.05 585.45h2.8M48.05 595.15h2.8M48.05 584.48h2.8M48.05 596.12h2.8M48.05 583.51h2.8M48.05 597.09h2.8M48.05 582.54h2.8M48.05 598.06h2.8M48.05 581.57h2.8M48.05 599.03h2.8M47.05 580.6h3.8M47.05 600h3.8M48.05 572.41h2.8M48.05 567.62h2.8M48.05 564.22h2.8M48.05 561.59h2.8M48.05 559.43h2.8M48.05 557.61h2.8M48.05 556.04h2.8M48.05 554.64h2.8M47.05 553.4h3.8M48.05 545.6h2.8M48.05 541.04h2.8M48.05 537.81h2.8M48.05 535.3h2.8M48.05 533.25h2.8M48.05 531.51h2.8M48.05 530.01h2.8M48.05 528.69h2.8M47.05 527.5h3.8M48.05 519.82h2.8M48.05 515.33h2.8M48.05 512.15h2.8M48.05 509.68h2.8M48.05 507.66h2.8M48.05 505.95h2.8M48.05 504.47h2.8M48.05 503.17h2.8M47.05 502h3.8M48.05 494.32h2.8M65.4 602.4v3.8M66.15 602.4v2.8M64.65 602.4v2.8M66.9 602.4v2.8M63.9 602.4v2.8M67.65 602.4v2.8M63.15 602.4v2.8M68.4 602.4v2.8M62.4 602.4v2.8M69.15 602.4v2.8M61.65 602.4v2.8M69.9 602.4v2.8M60.9 602.4v2.8M70.65 602.4v2.8M60.15 602.4v2.8M71.4 602.4v2.8M59.4 602.4v2.8M72.15 602.4v2.8M58.65 602.4v2.8M72.9 602.4v2.8M57.9 602.4v2.8M81.96 602.4v2.8M87.26 602.4v2.8M91.02 602.4v2.8M93.94 602.4v2.8M96.32 602.4v2.8M98.34 602.4v2.8M100.08 602.4v2.8M101.62 602.4v2.8M103 602.4v3.8M110.98 602.4v2.8M115.64 602.4v2.8M118.95 602.4v2.8M121.52 602.4v2.8M123.62 602.4v2.8M125.4 602.4v2.8M126.93 602.4v2.8M128.29 602.4v2.8M129.5 602.4v3.8M137.36 602.4v2.8M141.95 602.4v2.8M145.21 602.4v2.8M147.74 602.4v2.8M149.81 602.4v2.8M151.56 602.4v2.8M153.07 602.4v2.8M154.41 602.4v2.8M155.6 602.4v3.8" stroke="#000" stroke-width="1" fill="none"/>
<text x="34.4" y="505" font-size="7" textLength="8.3" lengthAdjust="spacingAndGlyphs">10</text>
<text x="43" y="502" font-size="4.9">5</text>
<text x="34.4" y="530.5" font-size="7" textLength="8.3" lengthAdjust="spacingAndGlyphs">10</text>
<text x="43" y="527.5" font-size="4.9">4</text>
<text x="34.4" y="556.4" font-size="7" textLength="8.3" lengthAdjust="spacingAndGlyphs">10</text>
<text x="43" y="553.4" font-size="4.9">3</text>
<text x="34.4" y="583.6" font-size="7" textLength="8.3" lengthAdjust="spacingAndGlyphs">10</text>
<text x="43" y="580.6" font-size="4.9">2</text>
<text x="38.7" y="593.3" font-size="7" textLength="4.3" lengthAdjust="spacingAndGlyphs">0</text>
<rect x="30.1" y="600.4" width="3.9" height="0.75" fill="#111"/>
<text x="34.4" y="603" font-size="7" textLength="8.3" lengthAdjust="spacingAndGlyphs">10</text>
<text x="43" y="600" font-size="4.9">2</text>
<text x="63.25" y="615.6" font-size="7" textLength="4.3" lengthAdjust="spacingAndGlyphs">0</text>
<text x="97.05" y="615.6" font-size="7" textLength="8.3" lengthAdjust="spacingAndGlyphs">10</text>
<text x="105.65" y="612.6" font-size="4.9">3</text>
<text x="123.55" y="615.6" font-size="7" textLength="8.3" lengthAdjust="spacingAndGlyphs">10</text>
<text x="132.15" y="612.6" font-size="4.9">4</text>
<text x="149.65" y="615.6" font-size="7" textLength="8.3" lengthAdjust="spacingAndGlyphs">10</text>
<text x="158.25" y="612.6" font-size="4.9">5</text>
<line x1="20.2" y1="585.4" x2="20.2" y2="530.2" stroke="#000" stroke-width="1.2"/>
<path d="M20.2 522.2 L17.3 532.2 L23.1 532.2 Z" fill="#000"/>
<text x="23.06" y="596.4" font-size="8" text-anchor="middle" textLength="18.5" lengthAdjust="spacingAndGlyphs" transform="rotate(-90 23.06 596.4)" class="c">CD127</text>
<line x1="62.4" y1="625.1" x2="126.6" y2="625.1" stroke="#000" stroke-width="1.2"/>
<path d="M134.6 625.1 L124.6 622.2 L124.6 628 Z" fill="#000"/>
<text x="50.2" y="628" font-size="8" textLength="8" lengthAdjust="spacingAndGlyphs">Lin</text>
<rect x="225.8" y="491.3" width="113.4" height="111.5" fill="none" stroke="#000" stroke-width="1.4"/>
<path d="M222 577.55h3.8M223 575.69h2.8M223 579.41h2.8M223 573.82h2.8M223 581.28h2.8M223 571.96h2.8M223 583.14h2.8M223 570.09h2.8M223 585.01h2.8M223 568.23h2.8M223 586.88h2.8M223 566.36h2.8M223 588.74h2.8M223 564.5h2.8M223 590.61h2.8M223 562.63h2.8M223 592.47h2.8M223 560.76h2.8M223 594.34h2.8M222 558.9h3.8M222 596.2h3.8M223 549.75h2.8M223 544.4h2.8M223 540.6h2.8M223 537.65h2.8M223 535.24h2.8M223 533.21h2.8M223 531.45h2.8M223 529.89h2.8M222 528.5h3.8M223 520.55h2.8M223 515.9h2.8M223 512.61h2.8M223 510.05h2.8M223 507.96h2.8M223 506.19h2.8M223 504.66h2.8M223 503.31h2.8M222 502.1h3.8M223 494.15h2.8M253.65 602.8v3.8M255.42 602.8v2.8M251.88 602.8v2.8M257.18 602.8v2.8M250.12 602.8v2.8M258.94 602.8v2.8M248.36 602.8v2.8M260.71 602.8v2.8M246.59 602.8v2.8M262.48 602.8v2.8M244.82 602.8v2.8M264.24 602.8v2.8M243.06 602.8v2.8M266 602.8v2.8M241.3 602.8v2.8M267.77 602.8v2.8M239.53 602.8v2.8M269.54 602.8v2.8M237.76 602.8v2.8M271.3 602.8v3.8M236 602.8v3.8M281.2 602.8v2.8M287 602.8v2.8M291.11 602.8v2.8M294.3 602.8v2.8M296.9 602.8v2.8M299.1 602.8v2.8M301.01 602.8v2.8M302.69 602.8v2.8M304.2 602.8v3.8M311.88 602.8v2.8M316.37 602.8v2.8M319.55 602.8v2.8M322.02 602.8v2.8M324.04 602.8v2.8M325.75 602.8v2.8M327.23 602.8v2.8M328.53 602.8v2.8M329.7 602.8v3.8M337.38 602.8v2.8" stroke="#000" stroke-width="1" fill="none"/>
<text x="209.4" y="505.1" font-size="7" textLength="8.3" lengthAdjust="spacingAndGlyphs">10</text>
<text x="218" y="502.1" font-size="4.9">5</text>
<text x="209.4" y="531.5" font-size="7" textLength="8.3" lengthAdjust="spacingAndGlyphs">10</text>
<text x="218" y="528.5" font-size="4.9">4</text>
<text x="209.4" y="561.9" font-size="7" textLength="8.3" lengthAdjust="spacingAndGlyphs">10</text>
<text x="218" y="558.9" font-size="4.9">3</text>
<text x="213.7" y="580.55" font-size="7" textLength="4.3" lengthAdjust="spacingAndGlyphs">0</text>
<rect x="205.1" y="596.6" width="3.9" height="0.75" fill="#111"/>
<text x="209.4" y="599.2" font-size="7" textLength="8.3" lengthAdjust="spacingAndGlyphs">10</text>
<text x="218" y="596.2" font-size="4.9">3</text>
<rect x="228.05" y="612.6" width="3.9" height="0.75" fill="#111"/>
<text x="232.35" y="615.2" font-size="7" textLength="8.3" lengthAdjust="spacingAndGlyphs">10</text>
<text x="240.95" y="612.2" font-size="4.9">3</text>
<text x="251.5" y="615.2" font-size="7" textLength="4.3" lengthAdjust="spacingAndGlyphs">0</text>
<text x="265.35" y="615.2" font-size="7" textLength="8.3" lengthAdjust="spacingAndGlyphs">10</text>
<text x="273.95" y="612.2" font-size="4.9">3</text>
<text x="298.25" y="615.2" font-size="7" textLength="8.3" lengthAdjust="spacingAndGlyphs">10</text>
<text x="306.85" y="612.2" font-size="4.9">4</text>
<text x="323.75" y="615.2" font-size="7" textLength="8.3" lengthAdjust="spacingAndGlyphs">10</text>
<text x="332.35" y="612.2" font-size="4.9">5</text>
<line x1="194.7" y1="582.3" x2="194.7" y2="532.9" stroke="#000" stroke-width="1.2"/>
<path d="M194.7 524.9 L191.8 534.9 L197.6 534.9 Z" fill="#000"/>
<text x="197.56" y="598.2" font-size="8" text-anchor="middle" textLength="15" lengthAdjust="spacingAndGlyphs" transform="rotate(-90 197.56 598.2)" class="c">CD25</text>
<text x="225.1" y="628" font-size="8" textLength="14.2" lengthAdjust="spacingAndGlyphs">H-2K</text>
<text x="239.4" y="624.2" font-size="5">k</text>
<line x1="245" y1="625.2" x2="308.8" y2="625.2" stroke="#000" stroke-width="1.2"/>
<path d="M316.8 625.2 L306.8 622.3 L306.8 628.1 Z" fill="#000"/>
<text x="0" y="628.1" font-size="8"></text>
<rect x="400.8" y="490.9" width="112" height="112.5" fill="none" stroke="#000" stroke-width="1.4"/>
<path d="M397 577.45h3.8M398 575.6h2.8M398 579.3h2.8M398 573.74h2.8M398 581.16h2.8M398 571.88h2.8M398 583.01h2.8M398 570.03h2.8M398 584.87h2.8M398 568.17h2.8M398 586.73h2.8M398 566.32h2.8M398 588.58h2.8M398 564.47h2.8M398 590.43h2.8M398 562.61h2.8M398 592.29h2.8M398 560.75h2.8M398 594.14h2.8M397 558.9h3.8M397 596h3.8M398 549.69h2.8M398 544.3h2.8M398 540.48h2.8M398 537.51h2.8M398 535.09h2.8M398 533.04h2.8M398 531.27h2.8M398 529.7h2.8M397 528.3h3.8M398 520.44h2.8M398 515.85h2.8M398 512.59h2.8M398 510.06h2.8M398 507.99h2.8M398 506.24h2.8M398 504.73h2.8M398 503.39h2.8M397 502.2h3.8M398 494.34h2.8M428.3 603.4v3.8M430.13 603.4v2.8M426.47 603.4v2.8M431.96 603.4v2.8M424.64 603.4v2.8M433.79 603.4v2.8M422.81 603.4v2.8M435.62 603.4v2.8M420.98 603.4v2.8M437.45 603.4v2.8M419.15 603.4v2.8M439.28 603.4v2.8M417.32 603.4v2.8M441.11 603.4v2.8M415.49 603.4v2.8M442.94 603.4v2.8M413.66 603.4v2.8M444.77 603.4v2.8M411.83 603.4v2.8M446.6 603.4v3.8M410 603.4v3.8M455.9 603.4v2.8M461.34 603.4v2.8M465.2 603.4v2.8M468.2 603.4v2.8M470.64 603.4v2.8M472.71 603.4v2.8M474.51 603.4v2.8M476.09 603.4v2.8M477.5 603.4v3.8M485.57 603.4v2.8M490.29 603.4v2.8M493.64 603.4v2.8M496.23 603.4v2.8M498.35 603.4v2.8M500.15 603.4v2.8M501.7 603.4v2.8M503.07 603.4v2.8M504.3 603.4v3.8" stroke="#000" stroke-width="1" fill="none"/>
<text x="384.4" y="505.2" font-size="7" textLength="8.3" lengthAdjust="spacingAndGlyphs">10</text>
<text x="393" y="502.2" font-size="4.9">5</text>
<text x="384.4" y="531.3" font-size="7" textLength="8.3" lengthAdjust="spacingAndGlyphs">10</text>
<text x="393" y="528.3" font-size="4.9">4</text>
<text x="384.4" y="561.9" font-size="7" textLength="8.3" lengthAdjust="spacingAndGlyphs">10</text>
<text x="393" y="558.9" font-size="4.9">3</text>
<text x="388.7" y="580.45" font-size="7" textLength="4.3" lengthAdjust="spacingAndGlyphs">0</text>
<rect x="380.1" y="596.4" width="3.9" height="0.75" fill="#111"/>
<text x="384.4" y="599" font-size="7" textLength="8.3" lengthAdjust="spacingAndGlyphs">10</text>
<text x="393" y="596" font-size="4.9">3</text>
<rect x="402.05" y="612.8" width="3.9" height="0.75" fill="#111"/>
<text x="406.35" y="615.4" font-size="7" textLength="8.3" lengthAdjust="spacingAndGlyphs">10</text>
<text x="414.95" y="612.4" font-size="4.9">3</text>
<text x="426.15" y="615.4" font-size="7" textLength="4.3" lengthAdjust="spacingAndGlyphs">0</text>
<text x="440.65" y="615.4" font-size="7" textLength="8.3" lengthAdjust="spacingAndGlyphs">10</text>
<text x="449.25" y="612.4" font-size="4.9">3</text>
<text x="471.55" y="615.4" font-size="7" textLength="8.3" lengthAdjust="spacingAndGlyphs">10</text>
<text x="480.15" y="612.4" font-size="4.9">4</text>
<text x="498.35" y="615.4" font-size="7" textLength="8.3" lengthAdjust="spacingAndGlyphs">10</text>
<text x="506.95" y="612.4" font-size="4.9">5</text>
<line x1="370.3" y1="583.9" x2="370.3" y2="529.8" stroke="#000" stroke-width="1.2"/>
<path d="M370.3 521.8 L367.4 531.8 L373.2 531.8 Z" fill="#000"/>
<text x="373.16" y="597" font-size="8" text-anchor="middle" textLength="19.5" lengthAdjust="spacingAndGlyphs" transform="rotate(-90 373.16 597)" class="c">KLRG1</text>
<line x1="411.9" y1="624.9" x2="476.2" y2="624.9" stroke="#000" stroke-width="1.2"/>
<path d="M484.2 624.9 L474.2 622 L474.2 627.8 Z" fill="#000"/>
<text x="398.9" y="627.8" font-size="8" textLength="11.6" lengthAdjust="spacingAndGlyphs">ST2</text>
<text x="61.1" y="347.7" font-size="6.3" textLength="34.6" lengthAdjust="spacingAndGlyphs">Lin, CD127</text>
<text x="61.1" y="356.6" font-size="6.3" textLength="34.6" lengthAdjust="spacingAndGlyphs">subset 1.31</text>
<text x="292.3" y="403.8" font-size="6.3" textLength="39.4" lengthAdjust="spacingAndGlyphs">H2Kd, CD25</text>
<text x="298.65" y="412.8" font-size="6.3" textLength="26.7" lengthAdjust="spacingAndGlyphs">subset 0</text>
<line x1="443.9" y1="336.3" x2="443.9" y2="448.8" stroke="#000" stroke-width="1.3"/>
<line x1="400.8" y1="404.1" x2="512.8" y2="404.1" stroke="#000" stroke-width="1.3"/>
<text x="403.9" y="344.1" font-size="6.3" textLength="9" lengthAdjust="spacingAndGlyphs">Q1</text>
<text x="403.9" y="352.5" font-size="6.3" textLength="3.85" lengthAdjust="spacingAndGlyphs">0</text>
<text x="500.9" y="344.1" font-size="6.3" textLength="9" lengthAdjust="spacingAndGlyphs">Q2</text>
<text x="506.05" y="352.5" font-size="6.3" textLength="3.85" lengthAdjust="spacingAndGlyphs">0</text>
<text x="403.2" y="435.4" font-size="6.3" textLength="9" lengthAdjust="spacingAndGlyphs">Q4</text>
<text x="403.2" y="444.2" font-size="6.3" textLength="3.85" lengthAdjust="spacingAndGlyphs">0</text>
<text x="501" y="435.4" font-size="6.3" textLength="9" lengthAdjust="spacingAndGlyphs">Q3</text>
<text x="506.15" y="444.2" font-size="6.3" textLength="3.85" lengthAdjust="spacingAndGlyphs">0</text>
<text x="61.1" y="502.3" font-size="6.3" textLength="34.6" lengthAdjust="spacingAndGlyphs">Lin, CD127</text>
<text x="61.1" y="511.2" font-size="6.3" textLength="34.6" lengthAdjust="spacingAndGlyphs">subset 0.57</text>
<text x="292.3" y="558.4" font-size="6.3" textLength="39.4" lengthAdjust="spacingAndGlyphs">H2Kd, CD25</text>
<text x="295.5" y="567.4" font-size="6.3" textLength="33" lengthAdjust="spacingAndGlyphs">subset 6.29</text>
<line x1="443.9" y1="490.9" x2="443.9" y2="603.4" stroke="#000" stroke-width="1.3"/>
<line x1="400.8" y1="558.7" x2="512.8" y2="558.7" stroke="#000" stroke-width="1.3"/>
<text x="403.9" y="498.7" font-size="6.3" textLength="9" lengthAdjust="spacingAndGlyphs">Q1</text>
<text x="403.9" y="507.1" font-size="6.3" textLength="13.49" lengthAdjust="spacingAndGlyphs">6.45</text>
<text x="500.9" y="498.7" font-size="6.3" textLength="9" lengthAdjust="spacingAndGlyphs">Q2</text>
<text x="496.41" y="507.1" font-size="6.3" textLength="13.49" lengthAdjust="spacingAndGlyphs">90.3</text>
<text x="403.2" y="590" font-size="6.3" textLength="9" lengthAdjust="spacingAndGlyphs">Q4</text>
<text x="403.2" y="598.8" font-size="6.3" textLength="3.85" lengthAdjust="spacingAndGlyphs">0</text>
<text x="501" y="590" font-size="6.3" textLength="9" lengthAdjust="spacingAndGlyphs">Q3</text>
<text x="496.51" y="598.8" font-size="6.3" textLength="13.49" lengthAdjust="spacingAndGlyphs">3.23</text>
<path d="M110 413.5h1M85 426.5h1M105 429.5h1M74 431.5h1M71 437.5h1M69 438.5h2" stroke="#000000" stroke-width="1" fill="none" shape-rendering="crispEdges"/>
<path d="M97 402.5h1M102 403.5h1M86 406.5h1M81 408.5h1M109 410.5h1M75 411.5h1M65 418.5h1M111 419.5h1M110 423.5h1M88 426.5h1M91 427.5h1" stroke="#101010" stroke-width="1" fill="none" shape-rendering="crispEdges"/>
<path d="M66 391.5h1M64 392.5h1M65 393.5h1M57 394.5h1M62 394.5h1M56 395.5h1M73 395.5h1M95 395.5h1M76 396.5h1M53 397.5h1M60 397.5h1M67 397.5h1M69 397.5h1M81 397.5h1M94 397.5h1M102 397.5h1M74 398.5h1M81 398.5h1M107 398.5h1M62 399.5h1M94 399.5h1M100 399.5h1M67 400.5h1M71 400.5h1M73 400.5h1M92 400.5h1M97 400.5h1M99 400.5h1M102 400.5h1M110 400.5h1M60 401.5h1M65 401.5h1M67 401.5h1M71 401.5h1M83 401.5h1M91 401.5h1M93 401.5h1M101 401.5h1M103 401.5h1M53 402.5h1M63 402.5h1M68 402.5h1M72 402.5h2M82 402.5h1M93 402.5h1M95 402.5h2M98 402.5h1M62 403.5h1M83 403.5h2M93 403.5h2M101 403.5h1M62 404.5h1M64 404.5h1M80 404.5h1M85 404.5h1M88 404.5h1M90 404.5h2M107 404.5h1M109 404.5h1M119 404.5h1M64 405.5h1M67 405.5h1M82 405.5h1M86 405.5h1M105 405.5h1M111 405.5h1M71 406.5h1M80 406.5h1M118 406.5h1M67 407.5h2M73 407.5h1M107 407.5h1M113 407.5h1M121 407.5h1M74 408.5h1M83 408.5h1M108 408.5h1M114 408.5h1M121 408.5h1M78 409.5h2M112 409.5h1M123 409.5h1M125 409.5h1M73 410.5h1M76 410.5h1M110 410.5h1M116 410.5h1M61 411.5h1M69 411.5h1M72 411.5h1M74 411.5h1M112 411.5h1M71 412.5h1M73 412.5h1M70 413.5h1M113 413.5h1M117 413.5h1M65 414.5h1M64 415.5h1M111 415.5h1M113 415.5h1M127 415.5h1M114 416.5h1M128 416.5h1M112 417.5h1M62 418.5h1M114 418.5h1M121 418.5h1M125 418.5h1M112 419.5h1M110 420.5h1M125 420.5h1M113 421.5h2M63 422.5h1M111 422.5h1M117 423.5h2M124 423.5h1M58 424.5h1M108 424.5h1M110 424.5h1M114 424.5h1M116 424.5h1M58 425.5h1M113 425.5h1M61 426.5h1M83 426.5h1M86 426.5h1M108 426.5h1M110 426.5h1M115 426.5h1M83 427.5h1M86 427.5h1M88 427.5h2M108 427.5h2M122 427.5h1M60 428.5h2M85 428.5h1M89 428.5h1M61 429.5h1M64 429.5h1M75 429.5h1M77 429.5h1M84 429.5h1M92 429.5h1M94 429.5h1M108 429.5h1M78 430.5h1M80 430.5h1M87 430.5h1M90 430.5h1M98 430.5h1M103 430.5h1M107 430.5h1M111 430.5h1M60 431.5h1M75 431.5h1M77 431.5h2M83 431.5h1M90 431.5h1M94 431.5h1M63 432.5h1M78 432.5h1M84 432.5h1M88 432.5h1M95 432.5h1M107 432.5h2M96 433.5h1M101 433.5h2M108 433.5h1M59 434.5h1M73 434.5h1M77 434.5h1M83 434.5h1M86 434.5h1M88 434.5h1M96 434.5h1M114 434.5h1M67 435.5h1M75 435.5h2M93 435.5h1M101 435.5h1M112 435.5h1M121 435.5h1M59 436.5h1M72 436.5h1M88 436.5h1M94 436.5h1M97 436.5h1M102 436.5h2M105 436.5h2M110 436.5h1M57 437.5h1M63 437.5h1M67 437.5h1M76 437.5h1M78 437.5h1M81 437.5h1M85 437.5h1M94 437.5h2M98 437.5h1M64 438.5h1M66 438.5h2M98 438.5h1M106 438.5h1M117 438.5h1M81 439.5h1M85 439.5h1M88 439.5h2M92 439.5h1M99 439.5h1M103 439.5h1M109 439.5h1M56 440.5h1M68 440.5h1M79 440.5h2M83 440.5h1M89 440.5h1M91 440.5h2M97 440.5h1M56 441.5h1M68 441.5h1M71 441.5h1M84 441.5h1M90 441.5h1M95 441.5h1M71 442.5h2M75 442.5h1M98 442.5h1M58 443.5h1M71 443.5h1M75 443.5h1M84 443.5h1M94 443.5h2M98 443.5h1M117 443.5h1M86 444.5h1M93 444.5h1M95 444.5h1M105 444.5h2M65 445.5h1M79 445.5h1M106 446.5h1" stroke="#202020" stroke-width="1" fill="none" shape-rendering="crispEdges"/>
<path d="M61 394.5h1M65 395.5h1M71 395.5h1M80 395.5h1M98 395.5h1M60 396.5h1M68 396.5h1M82 396.5h2M99 396.5h2M70 397.5h1M107 397.5h1M57 398.5h2M77 398.5h1M56 399.5h1M58 399.5h1M66 399.5h1M70 399.5h1M74 399.5h1M76 399.5h2M92 399.5h1M97 399.5h1M99 399.5h1M103 399.5h1M109 399.5h1M55 400.5h1M63 400.5h1M72 400.5h1M82 400.5h1M91 400.5h1M93 400.5h2M96 400.5h1M112 400.5h1M56 401.5h1M59 401.5h1M63 401.5h1M68 401.5h3M73 401.5h1M75 401.5h1M79 401.5h1M92 401.5h1M96 401.5h1M100 401.5h1M108 401.5h1M111 401.5h1M116 401.5h1M55 402.5h1M59 402.5h1M70 402.5h1M79 402.5h1M89 402.5h1M104 402.5h1M108 402.5h1M61 403.5h1M64 403.5h2M68 403.5h3M85 403.5h1M92 403.5h1M98 403.5h3M104 403.5h1M107 403.5h1M109 403.5h1M65 404.5h1M68 404.5h2M83 404.5h1M92 404.5h1M108 404.5h1M115 404.5h1M72 405.5h1M77 405.5h1M84 405.5h1M89 405.5h1M63 406.5h1M79 406.5h1M113 406.5h1M65 407.5h1M69 407.5h4M75 407.5h1M77 407.5h1M80 407.5h1M108 407.5h1M112 407.5h1M64 408.5h1M79 408.5h2M107 408.5h1M109 408.5h1M119 408.5h1M67 409.5h1M73 409.5h2M80 409.5h2M107 409.5h1M118 409.5h1M62 410.5h1M67 410.5h1M74 410.5h2M77 410.5h1M111 410.5h1M118 410.5h1M122 410.5h1M64 411.5h1M66 411.5h2M109 411.5h1M113 411.5h1M117 411.5h1M121 411.5h1M123 411.5h1M72 412.5h1M97 412.5h1M109 412.5h2M116 412.5h1M69 413.5h1M122 413.5h1M60 414.5h1M63 414.5h1M110 414.5h2M119 414.5h1M59 415.5h1M61 415.5h1M67 415.5h3M112 415.5h1M114 415.5h4M119 415.5h1M122 415.5h1M59 416.5h1M65 416.5h1M112 416.5h2M124 416.5h1M63 417.5h1M113 417.5h1M115 417.5h1M117 417.5h2M111 418.5h1M118 418.5h1M122 418.5h2M127 418.5h1M118 419.5h1M120 419.5h1M61 420.5h2M64 420.5h1M111 420.5h1M127 420.5h1M59 421.5h1M64 421.5h1M111 421.5h1M116 421.5h1M61 422.5h2M110 422.5h1M112 422.5h1M118 422.5h1M62 423.5h2M109 423.5h1M112 423.5h1M114 423.5h1M120 423.5h1M62 424.5h1M109 424.5h1M117 424.5h1M120 424.5h1M124 424.5h1M61 425.5h1M112 425.5h1M114 425.5h1M124 425.5h1M82 426.5h1M87 426.5h1M91 426.5h1M106 426.5h2M111 426.5h1M116 426.5h1M120 426.5h1M127 426.5h1M59 427.5h1M78 427.5h2M81 427.5h1M107 427.5h1M110 427.5h2M113 427.5h1M59 428.5h1M75 428.5h1M77 428.5h1M79 428.5h1M86 428.5h2M90 428.5h1M92 428.5h3M106 428.5h1M109 428.5h1M112 428.5h1M59 429.5h1M76 429.5h1M78 429.5h1M80 429.5h1M85 429.5h1M96 429.5h1M104 429.5h1M109 429.5h1M113 429.5h1M116 429.5h1M122 429.5h1M76 430.5h1M79 430.5h1M81 430.5h1M83 430.5h1M85 430.5h1M99 430.5h4M106 430.5h1M108 430.5h1M61 431.5h1M64 431.5h2M76 431.5h1M79 431.5h1M81 431.5h1M87 431.5h1M97 431.5h1M102 431.5h2M108 431.5h1M110 431.5h2M113 431.5h1M59 432.5h1M62 432.5h1M73 432.5h1M82 432.5h1M86 432.5h1M90 432.5h1M98 432.5h1M100 432.5h2M104 432.5h1M106 432.5h1M119 432.5h1M62 433.5h1M65 433.5h1M73 433.5h1M77 433.5h1M79 433.5h1M85 433.5h1M89 433.5h2M93 433.5h1M107 433.5h1M109 433.5h1M111 433.5h2M62 434.5h2M71 434.5h1M76 434.5h1M78 434.5h2M91 434.5h5M97 434.5h1M101 434.5h2M106 434.5h1M120 434.5h1M123 434.5h1M65 435.5h2M72 435.5h1M87 435.5h1M91 435.5h1M98 435.5h1M118 435.5h1M120 435.5h1M64 436.5h1M68 436.5h1M70 436.5h2M80 436.5h1M89 436.5h1M95 436.5h2M98 436.5h1M101 436.5h1M104 436.5h1M111 436.5h1M119 436.5h1M60 437.5h2M68 437.5h3M75 437.5h1M79 437.5h1M84 437.5h1M86 437.5h1M90 437.5h2M96 437.5h1M99 437.5h1M116 437.5h1M58 438.5h2M62 438.5h1M72 438.5h1M74 438.5h1M77 438.5h2M82 438.5h1M86 438.5h1M56 439.5h1M64 439.5h1M67 439.5h1M69 439.5h2M76 439.5h1M79 439.5h2M91 439.5h1M95 439.5h1M106 439.5h3M111 439.5h1M119 439.5h1M53 440.5h1M60 440.5h2M64 440.5h3M69 440.5h2M72 440.5h1M90 440.5h1M93 440.5h1M96 440.5h1M52 441.5h1M63 441.5h2M73 441.5h1M75 441.5h1M78 441.5h2M89 441.5h1M117 441.5h1M54 442.5h1M80 442.5h1M83 442.5h1M92 442.5h1M100 442.5h1M102 442.5h1M104 442.5h1M108 442.5h1M54 443.5h1M65 443.5h1M68 443.5h3M74 443.5h1M86 443.5h2M96 443.5h2M102 443.5h1M59 444.5h1M63 444.5h1M66 444.5h1M75 444.5h1M97 444.5h1M102 444.5h1M63 445.5h1M77 445.5h1M84 445.5h1M100 445.5h1M102 445.5h1M78 446.5h1M82 446.5h2M90 446.5h1M92 446.5h1M95 446.5h1M100 446.5h1" stroke="#303030" stroke-width="1" fill="none" shape-rendering="crispEdges"/>
<path d="M68 392.5h1M55 395.5h1M58 395.5h1M61 395.5h1M67 395.5h1M72 395.5h1M59 396.5h1M63 396.5h1M67 396.5h1M71 396.5h1M93 396.5h1M97 396.5h1M61 397.5h1M64 397.5h1M68 397.5h1M71 397.5h1M99 397.5h1M62 398.5h1M66 398.5h1M70 398.5h3M93 398.5h1M96 398.5h1M55 399.5h1M64 399.5h2M73 399.5h1M79 399.5h1M81 399.5h1M95 399.5h2M60 400.5h2M66 400.5h1M69 400.5h2M74 400.5h1M76 400.5h1M89 400.5h1M98 400.5h1M106 400.5h1M111 400.5h1M53 401.5h1M57 401.5h1M61 401.5h1M66 401.5h1M87 401.5h2M94 401.5h2M97 401.5h3M105 401.5h1M54 402.5h1M56 402.5h1M58 402.5h1M62 402.5h1M64 402.5h2M71 402.5h1M74 402.5h2M80 402.5h1M83 402.5h1M86 402.5h2M90 402.5h1M99 402.5h1M101 402.5h2M59 403.5h1M63 403.5h1M66 403.5h1M81 403.5h1M87 403.5h2M90 403.5h1M95 403.5h3M117 403.5h1M55 404.5h1M59 404.5h1M87 404.5h1M93 404.5h1M102 404.5h2M112 404.5h2M118 404.5h1M54 405.5h1M57 405.5h1M60 405.5h1M63 405.5h1M68 405.5h1M74 405.5h1M79 405.5h1M81 405.5h1M103 405.5h2M113 405.5h1M116 405.5h1M58 406.5h1M64 406.5h1M66 406.5h1M72 406.5h2M83 406.5h2M87 406.5h1M104 406.5h2M108 406.5h1M112 406.5h1M59 407.5h1M61 407.5h2M78 407.5h1M84 407.5h1M86 407.5h1M106 407.5h1M109 407.5h1M111 407.5h1M57 408.5h1M59 408.5h1M68 408.5h2M71 408.5h1M73 408.5h1M82 408.5h1M110 408.5h4M115 408.5h1M117 408.5h1M123 408.5h1M58 409.5h1M66 409.5h1M69 409.5h1M76 409.5h1M115 409.5h3M119 409.5h1M63 410.5h1M68 410.5h3M72 410.5h1M78 410.5h2M108 410.5h1M60 411.5h1M68 411.5h1M70 411.5h1M73 411.5h1M76 411.5h1M95 411.5h1M111 411.5h1M59 412.5h1M65 412.5h1M69 412.5h2M95 412.5h1M111 412.5h1M113 412.5h3M125 412.5h1M68 413.5h1M72 413.5h1M96 413.5h1M109 413.5h1M111 413.5h2M114 413.5h1M116 413.5h1M66 414.5h1M69 414.5h1M113 414.5h3M117 414.5h2M65 415.5h2M110 415.5h1M124 415.5h1M58 416.5h1M64 416.5h1M67 416.5h1M69 416.5h1M110 416.5h1M117 416.5h1M123 416.5h1M125 416.5h1M57 417.5h2M62 417.5h1M66 417.5h1M111 417.5h1M116 417.5h1M121 417.5h1M64 418.5h1M112 418.5h1M120 418.5h1M62 419.5h1M110 419.5h1M114 419.5h2M119 419.5h1M65 420.5h1M123 420.5h1M62 421.5h1M115 421.5h1M117 421.5h1M115 422.5h2M123 422.5h1M127 422.5h1M64 423.5h1M108 423.5h1M113 423.5h1M115 423.5h2M119 423.5h1M60 424.5h2M63 424.5h2M84 424.5h1M112 424.5h1M115 424.5h1M86 425.5h1M90 425.5h2M108 425.5h2M116 425.5h1M120 425.5h1M58 426.5h1M62 426.5h1M64 426.5h1M81 426.5h1M84 426.5h1M112 426.5h2M117 426.5h1M123 426.5h1M58 427.5h1M64 427.5h1M77 427.5h1M80 427.5h1M84 427.5h1M87 427.5h1M90 427.5h1M92 427.5h2M106 427.5h1M121 427.5h1M76 428.5h1M78 428.5h1M91 428.5h1M101 428.5h1M104 428.5h1M107 428.5h1M110 428.5h2M114 428.5h1M117 428.5h1M62 429.5h2M83 429.5h1M91 429.5h1M97 429.5h1M102 429.5h2M114 429.5h1M57 430.5h1M60 430.5h1M63 430.5h3M74 430.5h2M77 430.5h1M88 430.5h2M92 430.5h2M96 430.5h2M118 430.5h1M73 431.5h1M88 431.5h1M91 431.5h1M93 431.5h1M95 431.5h1M99 431.5h1M106 431.5h2M121 431.5h1M64 432.5h1M75 432.5h2M83 432.5h1M93 432.5h1M99 432.5h1M103 432.5h1M105 432.5h1M113 432.5h1M67 433.5h1M75 433.5h1M82 433.5h1M86 433.5h1M94 433.5h1M97 433.5h2M104 433.5h3M60 434.5h1M65 434.5h2M74 434.5h1M82 434.5h1M98 434.5h1M63 435.5h1M68 435.5h1M73 435.5h1M77 435.5h1M82 435.5h1M85 435.5h2M89 435.5h2M96 435.5h1M100 435.5h1M105 435.5h1M111 435.5h1M119 435.5h1M65 436.5h1M75 436.5h2M78 436.5h1M83 436.5h3M87 436.5h1M90 436.5h1M108 436.5h1M118 436.5h1M54 437.5h1M62 437.5h1M77 437.5h1M80 437.5h1M82 437.5h1M87 437.5h2M102 437.5h1M106 437.5h2M109 437.5h1M65 438.5h1M71 438.5h1M75 438.5h1M79 438.5h1M81 438.5h1M84 438.5h2M88 438.5h3M93 438.5h1M97 438.5h1M99 438.5h1M108 438.5h1M61 439.5h1M66 439.5h1M71 439.5h2M74 439.5h1M78 439.5h1M83 439.5h1M87 439.5h1M93 439.5h2M101 439.5h1M104 439.5h2M112 439.5h1M76 440.5h1M78 440.5h1M81 440.5h2M85 440.5h1M88 440.5h1M99 440.5h2M103 440.5h1M111 440.5h1M119 440.5h1M121 440.5h1M61 441.5h1M69 441.5h1M76 441.5h1M81 441.5h1M97 441.5h2M104 441.5h1M116 441.5h1M66 442.5h4M73 442.5h1M76 442.5h2M85 442.5h5M96 442.5h1M101 442.5h1M103 442.5h1M114 442.5h1M92 443.5h1M100 443.5h1M105 443.5h1M111 443.5h1M116 443.5h1M70 444.5h1M74 444.5h1M92 444.5h1M107 444.5h1M82 445.5h1M89 445.5h1M92 445.5h1M94 445.5h2M99 445.5h1M112 445.5h1M66 446.5h1M79 446.5h1M84 446.5h1M89 446.5h1M108 446.5h1" stroke="#404040" stroke-width="1" fill="none" shape-rendering="crispEdges"/>
<path d="M62 391.5h1M65 391.5h1M66 393.5h1M75 393.5h1M65 394.5h1M67 394.5h1M71 394.5h1M59 395.5h1M62 395.5h2M68 395.5h1M92 395.5h1M58 396.5h1M65 396.5h1M69 396.5h1M73 396.5h1M88 396.5h1M57 397.5h1M63 397.5h1M65 397.5h1M74 397.5h1M78 397.5h1M59 398.5h1M63 398.5h3M68 398.5h1M75 398.5h1M79 398.5h1M88 398.5h1M95 398.5h1M98 398.5h3M52 399.5h1M57 399.5h1M63 399.5h1M67 399.5h1M71 399.5h1M90 399.5h1M93 399.5h1M110 399.5h1M54 400.5h1M62 400.5h1M77 400.5h1M80 400.5h1M88 400.5h1M95 400.5h1M100 400.5h2M113 400.5h1M117 400.5h1M62 401.5h1M64 401.5h1M72 401.5h1M76 401.5h1M104 401.5h1M60 402.5h1M67 402.5h1M69 402.5h1M84 402.5h1M88 402.5h1M91 402.5h2M94 402.5h1M100 402.5h1M106 402.5h2M112 402.5h1M118 402.5h1M56 403.5h1M60 403.5h1M67 403.5h1M71 403.5h1M73 403.5h1M78 403.5h1M80 403.5h1M86 403.5h1M89 403.5h1M113 403.5h1M116 403.5h1M63 404.5h1M66 404.5h1M70 404.5h1M73 404.5h1M79 404.5h1M81 404.5h1M84 404.5h1M86 404.5h1M89 404.5h1M94 404.5h1M101 404.5h1M104 404.5h3M110 404.5h2M117 404.5h1M122 404.5h1M65 405.5h1M69 405.5h1M73 405.5h1M80 405.5h1M85 405.5h1M87 405.5h2M106 405.5h3M112 405.5h1M65 406.5h1M67 406.5h1M70 406.5h1M74 406.5h5M89 406.5h1M107 406.5h1M109 406.5h1M114 406.5h1M63 407.5h2M74 407.5h1M81 407.5h3M85 407.5h1M105 407.5h1M110 407.5h1M114 407.5h1M63 408.5h1M65 408.5h1M70 408.5h1M77 408.5h2M68 409.5h1M71 409.5h1M75 409.5h1M82 409.5h1M108 409.5h4M113 409.5h1M66 410.5h1M80 410.5h1M114 410.5h2M117 410.5h1M96 411.5h1M108 411.5h1M110 411.5h1M114 411.5h1M116 411.5h1M118 411.5h2M122 411.5h1M125 411.5h1M64 412.5h1M66 412.5h1M75 412.5h1M96 412.5h1M112 412.5h1M117 412.5h1M119 412.5h1M121 412.5h1M63 413.5h1M71 413.5h1M94 413.5h2M115 413.5h1M121 413.5h1M67 414.5h2M70 414.5h2M109 414.5h1M112 414.5h1M116 414.5h1M121 414.5h1M126 414.5h1M60 415.5h1M70 415.5h1M121 415.5h1M60 416.5h1M62 416.5h1M66 416.5h1M68 416.5h1M111 416.5h1M115 416.5h1M61 417.5h1M65 417.5h1M110 417.5h1M114 417.5h1M119 417.5h2M61 418.5h1M63 418.5h1M66 418.5h2M109 418.5h2M113 418.5h1M116 418.5h2M124 418.5h1M56 419.5h1M64 419.5h3M109 419.5h1M113 419.5h1M117 419.5h1M121 419.5h1M109 420.5h1M113 420.5h1M116 420.5h2M126 420.5h1M58 421.5h1M61 421.5h1M63 421.5h1M110 421.5h1M118 421.5h1M120 421.5h1M123 421.5h1M127 421.5h1M64 422.5h2M109 422.5h1M113 422.5h2M117 422.5h1M121 422.5h1M111 423.5h1M59 424.5h1M111 424.5h1M113 424.5h1M118 424.5h2M62 425.5h1M64 425.5h2M79 425.5h1M87 425.5h3M110 425.5h2M117 425.5h1M119 425.5h1M122 425.5h1M60 426.5h1M63 426.5h1M78 426.5h1M80 426.5h1M89 426.5h2M92 426.5h1M62 427.5h2M82 427.5h1M105 427.5h1M117 427.5h1M119 427.5h1M62 428.5h1M64 428.5h1M83 428.5h2M88 428.5h1M95 428.5h1M97 428.5h1M105 428.5h1M115 428.5h1M126 428.5h1M60 429.5h1M74 429.5h1M79 429.5h1M81 429.5h2M88 429.5h3M93 429.5h1M95 429.5h1M98 429.5h3M110 429.5h3M117 429.5h1M59 430.5h1M62 430.5h1M82 430.5h1M94 430.5h2M104 430.5h1M109 430.5h2M112 430.5h1M120 430.5h1M122 430.5h1M59 431.5h1M62 431.5h1M80 431.5h1M85 431.5h1M92 431.5h1M100 431.5h2M105 431.5h1M120 431.5h1M65 432.5h1M74 432.5h1M79 432.5h2M85 432.5h1M87 432.5h1M91 432.5h2M94 432.5h1M96 432.5h1M121 432.5h3M57 433.5h1M60 433.5h2M64 433.5h1M66 433.5h1M70 433.5h1M72 433.5h1M74 433.5h1M76 433.5h1M78 433.5h1M80 433.5h2M91 433.5h2M99 433.5h1M103 433.5h1M116 433.5h1M72 434.5h1M75 434.5h1M89 434.5h1M99 434.5h2M103 434.5h1M105 434.5h1M110 434.5h1M112 434.5h1M116 434.5h1M56 435.5h1M61 435.5h1M64 435.5h1M70 435.5h1M74 435.5h1M78 435.5h2M88 435.5h1M92 435.5h1M99 435.5h1M103 435.5h2M109 435.5h1M62 436.5h1M67 436.5h1M69 436.5h1M77 436.5h1M79 436.5h1M82 436.5h1M92 436.5h2M114 436.5h2M64 437.5h1M66 437.5h1M74 437.5h1M83 437.5h1M92 437.5h1M101 437.5h1M61 438.5h1M63 438.5h1M73 438.5h1M80 438.5h1M87 438.5h1M91 438.5h2M95 438.5h2M100 438.5h4M105 438.5h1M68 439.5h1M73 439.5h1M75 439.5h1M77 439.5h1M84 439.5h1M86 439.5h1M90 439.5h1M98 439.5h1M100 439.5h1M115 439.5h1M122 439.5h1M55 440.5h1M67 440.5h1M73 440.5h2M84 440.5h1M86 440.5h2M94 440.5h2M104 440.5h1M107 440.5h1M115 440.5h1M118 440.5h1M66 441.5h2M70 441.5h1M72 441.5h1M77 441.5h1M80 441.5h1M83 441.5h1M85 441.5h4M91 441.5h2M100 441.5h1M102 441.5h1M57 442.5h1M62 442.5h2M70 442.5h1M74 442.5h1M79 442.5h1M84 442.5h1M115 442.5h1M63 443.5h1M76 443.5h2M79 443.5h2M82 443.5h1M85 443.5h1M88 443.5h3M93 443.5h1M99 443.5h1M65 444.5h1M68 444.5h2M83 444.5h1M88 444.5h2M110 444.5h1M112 444.5h1M116 444.5h1M64 445.5h1M71 445.5h1M75 445.5h1M86 445.5h1M90 445.5h1M93 445.5h1M97 445.5h1M109 445.5h1M73 446.5h1M75 446.5h1M87 446.5h1" stroke="#505050" stroke-width="1" fill="none" shape-rendering="crispEdges"/>
<path d="M96 390.5h1M61 391.5h1M70 395.5h1M66 396.5h1M70 396.5h1M59 397.5h1M62 397.5h1M66 397.5h1M87 397.5h1M60 398.5h1M67 398.5h1M69 398.5h1M90 398.5h1M60 399.5h1M68 399.5h2M72 399.5h1M102 399.5h1M64 400.5h2M79 400.5h1M90 401.5h1M102 401.5h1M110 401.5h1M121 401.5h1M61 402.5h1M103 402.5h1M74 403.5h1M79 403.5h1M91 403.5h1M103 403.5h1M105 403.5h2M112 403.5h1M71 404.5h2M78 404.5h1M82 404.5h1M99 404.5h1M62 405.5h1M75 405.5h1M78 405.5h1M90 405.5h2M110 405.5h1M82 406.5h1M85 406.5h1M88 406.5h1M90 406.5h1M103 406.5h1M106 406.5h1M110 406.5h2M116 406.5h1M76 407.5h1M72 408.5h1M76 408.5h1M85 408.5h1M120 408.5h1M56 409.5h1M83 409.5h1M114 409.5h1M71 410.5h1M81 410.5h1M106 410.5h2M71 411.5h1M77 411.5h1M115 411.5h1M124 411.5h1M68 412.5h1M76 412.5h1M94 412.5h1M108 412.5h1M65 413.5h3M74 413.5h1M108 413.5h1M61 414.5h1M62 415.5h1M109 415.5h1M109 416.5h1M118 416.5h1M121 416.5h1M64 417.5h1M67 417.5h1M69 417.5h1M109 417.5h1M123 417.5h1M115 418.5h1M119 418.5h1M128 418.5h1M116 419.5h1M56 420.5h1M59 420.5h1M63 420.5h1M112 420.5h1M114 420.5h2M118 420.5h1M65 421.5h1M109 421.5h1M112 421.5h1M119 421.5h1M58 422.5h1M119 422.5h1M61 423.5h1M65 423.5h1M125 423.5h1M83 424.5h1M107 424.5h1M130 424.5h1M60 425.5h1M63 425.5h1M82 425.5h4M115 425.5h1M126 425.5h1M65 426.5h1M79 426.5h1M93 426.5h2M109 426.5h1M125 426.5h1M76 427.5h1M94 427.5h1M96 427.5h1M114 427.5h1M128 427.5h1M63 428.5h1M80 428.5h3M96 428.5h1M98 428.5h1M102 428.5h1M108 428.5h1M120 428.5h1M65 429.5h1M86 429.5h2M107 429.5h1M66 430.5h1M73 430.5h1M84 430.5h1M86 430.5h1M91 430.5h1M105 430.5h1M72 431.5h1M96 431.5h1M98 431.5h1M112 431.5h1M60 432.5h1M70 432.5h3M77 432.5h1M89 432.5h1M97 432.5h1M63 433.5h1M68 433.5h1M71 433.5h1M84 433.5h1M87 433.5h1M100 433.5h1M117 433.5h1M64 434.5h1M67 434.5h2M84 434.5h1M62 435.5h1M71 435.5h1M80 435.5h2M83 435.5h2M95 435.5h1M108 435.5h1M113 435.5h1M66 436.5h1M73 436.5h1M81 436.5h1M100 436.5h1M72 437.5h2M97 437.5h1M104 437.5h1M68 438.5h1M76 438.5h1M83 438.5h1M94 438.5h1M115 438.5h2M54 439.5h1M60 439.5h1M63 439.5h1M65 439.5h1M82 439.5h1M96 439.5h2M110 439.5h1M71 440.5h1M75 440.5h1M77 440.5h1M98 440.5h1M74 441.5h1M82 441.5h1M96 441.5h1M110 441.5h1M78 442.5h1M81 442.5h2M90 442.5h1M109 442.5h1M78 443.5h1M81 443.5h1M108 443.5h1M64 444.5h1M77 444.5h1M80 444.5h1M96 444.5h1M72 445.5h1M78 445.5h1M88 445.5h1M65 446.5h1M77 446.5h1M80 446.5h1" stroke="#606060" stroke-width="1" fill="none" shape-rendering="crispEdges"/>
<path d="M68 389.5h1M66 390.5h1M75 390.5h1M73 391.5h1M57 392.5h1M81 392.5h1M93 394.5h1M95 394.5h1M108 394.5h1M90 395.5h1M111 396.5h1M119 400.5h1M95 404.5h4M100 404.5h1M92 405.5h1M95 405.5h1M99 405.5h3M52 406.5h1M134 406.5h1M87 407.5h1M104 407.5h1M84 408.5h1M86 408.5h1M105 408.5h2M57 409.5h1M106 409.5h1M127 409.5h2M82 410.5h1M95 410.5h1M78 411.5h2M94 411.5h1M97 411.5h1M74 412.5h1M57 413.5h1M73 413.5h1M107 413.5h1M72 414.5h2M94 414.5h3M108 414.5h1M71 415.5h1M139 415.5h1M137 416.5h1M68 417.5h1M71 417.5h1M55 419.5h1M66 420.5h1M108 420.5h1M108 421.5h1M86 423.5h1M107 423.5h1M65 424.5h1M82 424.5h1M87 424.5h2M90 424.5h1M80 425.5h2M92 425.5h1M106 425.5h2M104 426.5h1M148 426.5h1M65 427.5h1M95 427.5h1M65 428.5h1M73 428.5h2M103 428.5h1M66 429.5h1M55 431.5h1M66 431.5h1M71 431.5h1M55 432.5h1M66 432.5h1M69 433.5h1M69 434.5h1M52 435.5h1M69 435.5h1M123 438.5h1M130 438.5h1M140 438.5h1M125 439.5h1M127 443.5h1" stroke="#707070" stroke-width="1" fill="none" shape-rendering="crispEdges"/>
<path d="M66 387.5h1M73 388.5h1M85 389.5h1M93 389.5h1M58 391.5h1M76 392.5h1M92 394.5h1M53 396.5h1M115 399.5h1M118 400.5h1M123 404.5h1M93 405.5h1M102 405.5h1M91 406.5h1M88 407.5h1M103 407.5h1M104 408.5h1M84 409.5h1M105 409.5h1M130 409.5h1M83 410.5h1M85 410.5h1M105 410.5h1M106 411.5h2M54 412.5h1M78 412.5h1M92 412.5h2M107 412.5h1M75 413.5h1M85 413.5h1M93 413.5h1M74 414.5h1M77 414.5h1M107 414.5h1M72 415.5h1M74 415.5h1M108 415.5h1M70 416.5h1M108 416.5h1M107 417.5h2M133 417.5h1M68 418.5h1M107 418.5h2M67 419.5h1M75 419.5h1M107 419.5h2M130 419.5h1M66 421.5h1M107 421.5h1M66 422.5h1M74 422.5h1M105 422.5h1M108 422.5h1M66 423.5h1M83 423.5h1M85 424.5h1M89 424.5h1M78 425.5h1M75 426.5h3M95 426.5h1M105 426.5h1M66 427.5h1M68 427.5h1M74 427.5h2M97 427.5h2M100 427.5h1M103 427.5h1M99 428.5h1M73 429.5h1M101 429.5h1M68 430.5h1M71 430.5h1M52 431.5h1M67 431.5h1M69 431.5h1M67 432.5h1M69 432.5h1M129 432.5h1M70 434.5h1M125 434.5h1M112 446.5h1M116 446.5h1M118 446.5h1" stroke="#808080" stroke-width="1" fill="none" shape-rendering="crispEdges"/>
<path d="M121 386.5h1M67 388.5h1M65 390.5h1M92 391.5h1M111 393.5h1M99 394.5h1M88 395.5h1M124 396.5h1M124 404.5h1M96 405.5h1M95 406.5h1M100 406.5h1M53 407.5h1M89 407.5h1M96 407.5h1M101 407.5h1M90 408.5h1M132 408.5h1M85 409.5h1M88 409.5h1M104 409.5h1M84 410.5h1M93 411.5h1M105 411.5h1M77 412.5h1M79 412.5h1M81 412.5h1M91 412.5h1M129 412.5h1M76 413.5h1M97 413.5h1M131 413.5h1M76 414.5h1M129 414.5h1M78 415.5h1M87 415.5h1M92 415.5h1M95 415.5h1M73 416.5h2M82 416.5h1M102 416.5h1M107 416.5h1M70 417.5h1M72 417.5h1M70 418.5h4M75 418.5h1M102 418.5h1M104 418.5h1M106 418.5h1M129 419.5h1M55 420.5h1M106 420.5h2M129 420.5h1M54 422.5h1M67 422.5h1M71 422.5h1M86 422.5h1M88 422.5h1M96 422.5h1M98 422.5h1M102 422.5h1M77 423.5h1M84 423.5h1M87 423.5h2M92 423.5h2M106 423.5h1M74 424.5h1M76 424.5h1M78 424.5h1M86 424.5h1M91 424.5h1M106 424.5h1M67 425.5h2M73 425.5h1M77 425.5h1M93 425.5h1M96 425.5h1M100 425.5h2M105 425.5h1M67 426.5h1M74 426.5h1M101 426.5h1M103 426.5h1M71 427.5h1M73 427.5h1M99 427.5h1M101 427.5h2M104 427.5h1M54 428.5h1M67 428.5h1M100 428.5h1M69 429.5h2M72 429.5h1M69 430.5h2M72 430.5h1M68 431.5h1M70 431.5h1M68 432.5h1M134 437.5h1M126 443.5h1M115 445.5h1M58 446.5h1" stroke="#909090" stroke-width="1" fill="none" shape-rendering="crispEdges"/>
<path d="M75 388.5h1M116 389.5h1M62 390.5h1M64 390.5h1M102 390.5h1M78 391.5h1M80 392.5h1M123 393.5h1M120 400.5h1M122 401.5h1M94 405.5h1M98 405.5h1M92 406.5h1M94 406.5h1M98 406.5h1M101 406.5h2M90 407.5h1M92 407.5h1M100 407.5h1M102 407.5h1M87 408.5h2M91 408.5h1M103 408.5h1M90 409.5h1M94 410.5h1M96 410.5h3M100 410.5h1M104 410.5h1M127 410.5h1M81 411.5h3M87 411.5h1M98 411.5h1M104 411.5h1M56 412.5h1M82 412.5h1M88 412.5h1M98 412.5h1M100 412.5h2M105 412.5h1M77 413.5h2M83 413.5h1M88 413.5h1M92 413.5h1M98 413.5h1M106 413.5h1M75 414.5h1M97 414.5h1M106 414.5h1M75 415.5h1M80 415.5h1M82 415.5h1M90 415.5h1M93 415.5h1M104 415.5h1M107 415.5h1M71 416.5h1M97 416.5h1M99 416.5h1M103 416.5h1M105 416.5h2M73 417.5h1M81 417.5h1M95 417.5h1M98 417.5h2M101 417.5h1M103 417.5h1M129 417.5h1M69 418.5h1M76 418.5h1M88 418.5h1M92 418.5h1M100 418.5h1M69 419.5h1M72 419.5h1M80 419.5h1M92 419.5h2M99 419.5h1M105 419.5h1M68 420.5h2M71 420.5h2M79 420.5h1M81 420.5h1M87 420.5h1M96 420.5h1M67 421.5h1M69 421.5h2M79 421.5h1M85 421.5h1M88 421.5h1M98 421.5h1M68 422.5h3M77 422.5h1M84 422.5h2M87 422.5h1M90 422.5h1M99 422.5h1M103 422.5h1M106 422.5h2M67 423.5h1M69 423.5h1M72 423.5h1M85 423.5h1M89 423.5h1M91 423.5h1M99 423.5h1M102 423.5h1M66 424.5h2M73 424.5h1M77 424.5h1M79 424.5h1M95 424.5h3M103 424.5h1M105 424.5h1M136 424.5h1M66 425.5h1M69 425.5h1M71 425.5h1M75 425.5h2M95 425.5h1M98 425.5h2M102 425.5h3M69 426.5h2M96 426.5h1M98 426.5h3M72 427.5h1M66 428.5h1M69 428.5h4M71 429.5h1M67 430.5h1M56 432.5h1M129 435.5h1M126 437.5h1M119 443.5h1" stroke="#a0a0a0" stroke-width="1" fill="none" shape-rendering="crispEdges"/>
<path d="M97 405.5h1M93 406.5h1M96 406.5h2M99 406.5h1M93 407.5h1M95 407.5h1M89 408.5h1M94 408.5h1M96 408.5h1M100 408.5h1M102 408.5h1M86 409.5h2M94 409.5h3M99 409.5h1M86 410.5h1M89 410.5h2M92 410.5h2M103 410.5h1M80 411.5h1M84 411.5h1M91 411.5h1M101 411.5h1M80 412.5h1M85 412.5h2M89 412.5h2M104 412.5h1M106 412.5h1M79 413.5h1M82 413.5h1M90 413.5h1M100 413.5h4M79 414.5h1M81 414.5h1M85 414.5h2M88 414.5h2M92 414.5h1M99 414.5h2M73 415.5h1M76 415.5h2M81 415.5h1M86 415.5h1M94 415.5h1M96 415.5h1M98 415.5h1M106 415.5h1M72 416.5h1M76 416.5h1M79 416.5h3M83 416.5h1M86 416.5h1M88 416.5h7M96 416.5h1M75 417.5h1M78 417.5h1M82 417.5h2M86 417.5h2M92 417.5h1M100 417.5h1M105 417.5h2M82 418.5h3M89 418.5h3M96 418.5h4M103 418.5h1M68 419.5h1M70 419.5h1M76 419.5h1M85 419.5h2M90 419.5h1M95 419.5h1M98 419.5h1M102 419.5h1M106 419.5h1M67 420.5h1M70 420.5h1M73 420.5h1M75 420.5h1M85 420.5h2M89 420.5h1M94 420.5h1M97 420.5h3M104 420.5h2M73 421.5h2M76 421.5h2M80 421.5h1M82 421.5h2M86 421.5h1M90 421.5h3M94 421.5h1M100 421.5h1M104 421.5h3M72 422.5h1M76 422.5h1M78 422.5h3M82 422.5h2M89 422.5h1M91 422.5h1M94 422.5h1M100 422.5h2M104 422.5h1M68 423.5h1M74 423.5h1M78 423.5h5M90 423.5h1M94 423.5h1M104 423.5h1M69 424.5h2M80 424.5h2M92 424.5h3M100 424.5h3M104 424.5h1M72 425.5h1M74 425.5h1M94 425.5h1M97 425.5h1M71 426.5h3M102 426.5h1M67 427.5h1M69 427.5h2" stroke="#b0b0b0" stroke-width="1" fill="none" shape-rendering="crispEdges"/>
<path d="M94 407.5h1M97 407.5h1M92 408.5h2M99 408.5h1M101 408.5h1M89 409.5h1M91 409.5h2M97 409.5h2M100 409.5h1M103 409.5h1M87 410.5h2M91 410.5h1M99 410.5h1M102 410.5h1M86 411.5h1M88 411.5h1M92 411.5h1M102 411.5h1M83 412.5h1M102 412.5h2M80 413.5h2M84 413.5h1M86 413.5h2M89 413.5h1M104 413.5h2M78 414.5h1M80 414.5h1M83 414.5h2M93 414.5h1M101 414.5h4M79 415.5h1M83 415.5h1M85 415.5h1M88 415.5h1M91 415.5h1M99 415.5h1M101 415.5h1M75 416.5h1M84 416.5h1M95 416.5h1M98 416.5h1M100 416.5h2M74 417.5h1M76 417.5h2M80 417.5h1M84 417.5h1M91 417.5h1M93 417.5h2M102 417.5h1M104 417.5h1M77 418.5h2M81 418.5h1M86 418.5h2M93 418.5h1M101 418.5h1M105 418.5h1M71 419.5h1M74 419.5h1M77 419.5h1M79 419.5h1M82 419.5h2M88 419.5h1M94 419.5h1M96 419.5h2M100 419.5h1M74 420.5h1M76 420.5h1M80 420.5h1M82 420.5h3M90 420.5h3M95 420.5h1M101 420.5h3M68 421.5h1M72 421.5h1M81 421.5h1M84 421.5h1M87 421.5h1M93 421.5h1M95 421.5h1M101 421.5h3M73 422.5h1M75 422.5h1M81 422.5h1M92 422.5h2M70 423.5h2M75 423.5h1M95 423.5h4M100 423.5h2M103 423.5h1M68 424.5h1M71 424.5h2M75 424.5h1M66 426.5h1M97 426.5h1M68 428.5h1M67 429.5h2" stroke="#c0c0c0" stroke-width="1" fill="none" shape-rendering="crispEdges"/>
<path d="M91 407.5h1M98 407.5h2M95 408.5h1M97 408.5h2M93 409.5h1M102 409.5h1M101 410.5h1M90 411.5h1M99 411.5h2M103 411.5h1M84 412.5h1M87 412.5h1M99 412.5h1M91 413.5h1M99 413.5h1M82 414.5h1M87 414.5h1M90 414.5h2M98 414.5h1M105 414.5h1M89 415.5h1M97 415.5h1M100 415.5h1M102 415.5h2M105 415.5h1M77 416.5h2M85 416.5h1M87 416.5h1M104 416.5h1M79 417.5h1M85 417.5h1M88 417.5h1M90 417.5h1M96 417.5h1M74 418.5h1M79 418.5h2M85 418.5h1M94 418.5h2M73 419.5h1M81 419.5h1M84 419.5h1M87 419.5h1M89 419.5h1M101 419.5h1M104 419.5h1M77 420.5h2M88 420.5h1M100 420.5h1M71 421.5h1M75 421.5h1M78 421.5h1M89 421.5h1M96 421.5h2M99 421.5h1M95 422.5h1M97 422.5h1M73 423.5h1M76 423.5h1M105 423.5h1M98 424.5h2M70 425.5h1M68 426.5h1" stroke="#d0d0d0" stroke-width="1" fill="none" shape-rendering="crispEdges"/>
<path d="M101 409.5h1M85 411.5h1M89 411.5h1M97 417.5h1M78 419.5h1M91 419.5h1M103 419.5h1M93 420.5h1" stroke="#e0e0e0" stroke-width="1" fill="none" shape-rendering="crispEdges"/>
<path d="M84 415.5h1M89 417.5h1" stroke="#f0f0f0" stroke-width="1" fill="none" shape-rendering="crispEdges"/>
<path d="M85 575.5h1M122 581.5h1M124 582.5h1M114 585.5h1M101 597.5h1" stroke="#000000" stroke-width="1" fill="none" shape-rendering="crispEdges"/>
<path d="M103 560.5h1M96 570.5h1M101 570.5h1M96 571.5h1M79 572.5h1M104 572.5h1M73 573.5h1M82 573.5h1M121 578.5h1M120 579.5h1M122 579.5h1M127 579.5h1M129 579.5h1M119 580.5h1M129 580.5h1M116 581.5h1M127 582.5h1M111 588.5h1M110 590.5h1M108 592.5h1M107 593.5h1M94 596.5h1M101 596.5h2M94 598.5h1M90 599.5h1M92 599.5h3" stroke="#101010" stroke-width="1" fill="none" shape-rendering="crispEdges"/>
<path d="M106 548.5h1M116 549.5h1M92 550.5h1M116 551.5h1M71 552.5h1M96 552.5h1M106 552.5h1M114 552.5h2M96 553.5h1M119 553.5h1M104 554.5h1M87 555.5h1M92 555.5h1M105 555.5h1M117 555.5h2M122 555.5h1M75 556.5h1M85 556.5h1M95 556.5h1M97 556.5h1M115 556.5h2M88 557.5h1M90 557.5h1M92 557.5h1M99 557.5h1M113 557.5h1M116 557.5h1M78 558.5h1M82 558.5h2M90 558.5h3M108 558.5h2M72 559.5h1M85 559.5h1M94 559.5h1M97 559.5h2M106 559.5h1M109 559.5h1M126 559.5h1M67 560.5h1M69 560.5h1M71 560.5h1M73 560.5h1M76 560.5h1M79 560.5h1M82 560.5h1M95 560.5h1M98 560.5h3M104 560.5h1M106 560.5h2M112 560.5h1M67 561.5h1M72 561.5h1M79 561.5h1M83 561.5h1M88 561.5h2M100 561.5h1M102 561.5h1M110 561.5h1M84 562.5h1M90 562.5h1M97 562.5h2M103 562.5h1M109 562.5h1M117 562.5h1M80 563.5h1M87 563.5h1M95 563.5h2M99 563.5h2M104 563.5h1M74 564.5h1M79 564.5h2M86 564.5h1M95 564.5h1M99 564.5h1M108 564.5h1M128 564.5h1M70 565.5h1M84 565.5h2M91 565.5h1M102 565.5h2M115 565.5h2M129 565.5h1M75 566.5h1M82 566.5h1M92 566.5h1M100 566.5h1M104 566.5h1M106 566.5h1M108 566.5h1M72 567.5h1M75 567.5h2M78 567.5h1M102 567.5h1M120 567.5h1M72 568.5h1M79 568.5h1M83 568.5h1M95 568.5h1M97 568.5h1M110 568.5h1M65 569.5h1M78 569.5h1M84 569.5h1M99 569.5h1M109 569.5h1M111 569.5h1M113 569.5h1M65 570.5h1M70 570.5h1M85 570.5h1M94 570.5h1M102 570.5h1M125 570.5h1M130 570.5h1M64 571.5h1M90 571.5h1M92 571.5h1M101 571.5h5M125 571.5h1M129 571.5h1M135 571.5h1M75 572.5h1M77 572.5h1M80 572.5h1M105 572.5h1M110 572.5h1M114 572.5h1M118 572.5h1M121 572.5h2M128 572.5h1M130 572.5h1M66 573.5h1M74 573.5h1M81 573.5h1M83 573.5h1M86 573.5h1M108 573.5h1M117 573.5h1M131 573.5h1M134 573.5h1M61 574.5h1M70 574.5h1M83 574.5h1M85 574.5h1M88 574.5h3M108 574.5h1M133 574.5h1M87 575.5h1M113 575.5h1M118 575.5h1M124 575.5h1M70 576.5h1M123 576.5h1M138 576.5h1M67 577.5h1M112 577.5h1M116 577.5h1M121 577.5h1M125 577.5h1M128 577.5h1M64 578.5h1M66 578.5h1M112 578.5h1M114 578.5h1M117 578.5h1M120 578.5h1M122 578.5h1M129 578.5h1M131 578.5h1M67 579.5h1M69 579.5h1M116 579.5h1M124 579.5h1M135 579.5h1M120 580.5h1M125 580.5h2M65 581.5h1M67 581.5h2M114 581.5h2M120 581.5h2M125 581.5h1M129 581.5h1M137 581.5h1M115 582.5h1M121 582.5h1M132 582.5h1M139 582.5h1M116 583.5h1M130 583.5h1M134 583.5h2M66 584.5h1M120 584.5h1M115 585.5h1M123 585.5h1M137 585.5h1M118 586.5h1M112 587.5h2M116 587.5h1M119 587.5h1M121 587.5h2M127 587.5h1M123 588.5h2M66 590.5h3M113 590.5h1M120 590.5h1M123 590.5h1M65 591.5h2M112 591.5h1M119 591.5h1M127 591.5h1M131 591.5h1M68 592.5h1M112 592.5h1M115 592.5h1M64 593.5h1M67 593.5h2M106 593.5h1M115 593.5h1M106 594.5h1M86 595.5h1M89 595.5h1M104 595.5h1M106 595.5h2M111 595.5h1M103 596.5h1M108 596.5h1M119 596.5h1M122 596.5h1M98 597.5h1M105 597.5h1M115 597.5h1M60 598.5h1M67 598.5h1M69 598.5h1M86 598.5h1M96 598.5h1M109 598.5h1M112 598.5h1M71 599.5h1M88 599.5h1M84 600.5h3M88 600.5h1M99 600.5h1M101 600.5h1" stroke="#202020" stroke-width="1" fill="none" shape-rendering="crispEdges"/>
<path d="M116 547.5h1M102 549.5h1M66 550.5h1M107 550.5h1M116 550.5h1M92 551.5h1M95 551.5h1M99 551.5h1M111 551.5h1M113 551.5h1M122 551.5h1M97 552.5h1M101 552.5h1M103 552.5h2M113 552.5h1M122 552.5h1M65 553.5h1M68 553.5h1M71 553.5h1M88 553.5h1M104 553.5h1M122 553.5h1M83 554.5h1M89 554.5h1M91 554.5h1M98 554.5h1M100 554.5h1M102 554.5h1M105 554.5h1M110 554.5h2M118 554.5h1M125 554.5h1M65 555.5h1M79 555.5h1M88 555.5h1M94 555.5h1M96 555.5h2M99 555.5h2M106 555.5h1M108 555.5h1M111 555.5h1M121 555.5h1M124 555.5h1M74 556.5h1M82 556.5h1M88 556.5h1M100 556.5h1M105 556.5h1M109 556.5h2M114 556.5h1M120 556.5h1M127 556.5h1M89 557.5h1M93 557.5h1M95 557.5h1M109 557.5h1M111 557.5h1M118 557.5h1M124 557.5h1M126 557.5h1M73 558.5h1M85 558.5h1M94 558.5h1M96 558.5h1M103 558.5h2M106 558.5h2M112 558.5h1M116 558.5h1M120 558.5h1M126 558.5h1M65 559.5h1M67 559.5h1M71 559.5h1M78 559.5h1M80 559.5h1M84 559.5h1M90 559.5h1M95 559.5h1M100 559.5h2M104 559.5h1M110 559.5h1M116 559.5h2M121 559.5h1M80 560.5h1M86 560.5h2M92 560.5h1M94 560.5h1M109 560.5h1M116 560.5h2M119 560.5h1M125 560.5h1M71 561.5h1M87 561.5h1M91 561.5h1M94 561.5h1M99 561.5h1M105 561.5h1M108 561.5h1M111 561.5h1M114 561.5h1M116 561.5h1M74 562.5h1M91 562.5h1M99 562.5h1M101 562.5h2M104 562.5h1M107 562.5h1M111 562.5h1M114 562.5h2M121 562.5h1M71 563.5h1M75 563.5h1M77 563.5h1M79 563.5h1M88 563.5h1M92 563.5h1M94 563.5h1M101 563.5h1M105 563.5h1M110 563.5h1M114 563.5h1M119 563.5h1M129 563.5h1M72 564.5h1M77 564.5h1M82 564.5h1M93 564.5h1M97 564.5h1M105 564.5h2M114 564.5h2M117 564.5h1M124 564.5h1M72 565.5h1M74 565.5h1M76 565.5h1M80 565.5h1M89 565.5h2M92 565.5h1M94 565.5h1M99 565.5h1M101 565.5h1M107 565.5h2M112 565.5h2M117 565.5h1M77 566.5h2M84 566.5h1M88 566.5h2M91 566.5h1M93 566.5h1M98 566.5h1M103 566.5h1M105 566.5h1M111 566.5h1M113 566.5h2M124 566.5h1M79 567.5h1M82 567.5h1M87 567.5h1M89 567.5h3M94 567.5h2M98 567.5h1M106 567.5h1M108 567.5h1M115 567.5h1M118 567.5h1M124 567.5h1M86 568.5h2M92 568.5h1M94 568.5h1M96 568.5h1M99 568.5h1M106 568.5h1M108 568.5h2M112 568.5h1M115 568.5h2M121 568.5h1M72 569.5h2M75 569.5h1M80 569.5h1M87 569.5h1M92 569.5h1M94 569.5h2M97 569.5h1M104 569.5h2M107 569.5h1M115 569.5h1M117 569.5h1M119 569.5h2M126 569.5h1M133 569.5h1M73 570.5h1M78 570.5h1M88 570.5h1M90 570.5h1M92 570.5h1M95 570.5h1M97 570.5h4M103 570.5h1M105 570.5h1M110 570.5h1M112 570.5h1M117 570.5h1M123 570.5h1M126 570.5h1M128 570.5h1M134 570.5h1M63 571.5h1M69 571.5h1M75 571.5h1M77 571.5h1M82 571.5h1M86 571.5h1M89 571.5h1M91 571.5h1M93 571.5h3M99 571.5h1M107 571.5h3M116 571.5h1M65 572.5h1M72 572.5h1M78 572.5h1M84 572.5h2M88 572.5h1M93 572.5h1M98 572.5h1M103 572.5h1M107 572.5h1M111 572.5h1M115 572.5h1M120 572.5h1M126 572.5h2M129 572.5h1M72 573.5h1M78 573.5h1M85 573.5h1M87 573.5h1M89 573.5h2M95 573.5h1M106 573.5h1M110 573.5h1M116 573.5h1M119 573.5h1M123 573.5h1M126 573.5h1M128 573.5h1M130 573.5h1M133 573.5h1M64 574.5h1M66 574.5h1M72 574.5h2M94 574.5h1M109 574.5h1M115 574.5h1M117 574.5h1M122 574.5h1M125 574.5h1M130 574.5h1M132 574.5h1M68 575.5h2M82 575.5h1M84 575.5h1M86 575.5h1M108 575.5h1M110 575.5h2M117 575.5h1M119 575.5h2M123 575.5h1M136 575.5h1M140 575.5h1M67 576.5h2M72 576.5h1M84 576.5h1M86 576.5h1M110 576.5h1M113 576.5h3M118 576.5h1M125 576.5h2M129 576.5h1M131 576.5h2M140 576.5h1M68 577.5h1M111 577.5h1M113 577.5h1M117 577.5h1M119 577.5h1M122 577.5h1M126 577.5h2M141 577.5h1M143 577.5h1M69 578.5h1M110 578.5h1M126 578.5h1M128 578.5h1M130 578.5h1M136 578.5h1M113 579.5h1M115 579.5h1M118 579.5h2M121 579.5h1M126 579.5h1M128 579.5h1M142 579.5h1M65 580.5h4M113 580.5h1M117 580.5h1M121 580.5h3M127 580.5h2M131 580.5h1M133 580.5h1M136 580.5h1M138 580.5h1M113 581.5h1M119 581.5h1M127 581.5h1M132 581.5h1M135 581.5h1M138 581.5h1M62 582.5h1M66 582.5h1M118 582.5h1M123 582.5h1M126 582.5h1M128 582.5h1M130 582.5h1M134 582.5h2M64 583.5h1M114 583.5h2M122 583.5h2M126 583.5h1M132 583.5h2M67 584.5h1M100 584.5h1M113 584.5h2M119 584.5h1M123 584.5h2M127 584.5h1M130 584.5h1M132 584.5h1M119 585.5h1M122 585.5h1M126 585.5h1M128 585.5h4M68 586.5h1M113 586.5h3M120 586.5h1M125 586.5h2M65 587.5h1M117 587.5h1M124 587.5h2M128 587.5h2M131 587.5h1M137 587.5h1M61 588.5h1M67 588.5h1M112 588.5h2M119 588.5h1M65 589.5h1M67 589.5h2M110 589.5h1M118 589.5h1M121 589.5h2M130 589.5h1M63 590.5h1M111 590.5h1M116 590.5h1M130 590.5h1M64 591.5h1M108 591.5h1M111 591.5h1M121 591.5h1M125 591.5h1M64 592.5h1M66 592.5h1M89 592.5h1M109 592.5h1M121 592.5h1M125 592.5h1M90 593.5h1M111 593.5h1M117 593.5h1M123 593.5h1M66 594.5h2M86 594.5h2M90 594.5h1M110 594.5h1M116 594.5h1M66 595.5h1M68 595.5h1M87 595.5h1M90 595.5h1M105 595.5h1M108 595.5h3M116 595.5h1M67 596.5h3M91 596.5h1M93 596.5h1M98 596.5h1M100 596.5h1M105 596.5h1M107 596.5h1M69 597.5h2M90 597.5h1M92 597.5h1M97 597.5h1M103 597.5h1M107 597.5h1M109 597.5h1M70 598.5h1M88 598.5h1M91 598.5h2M97 598.5h5M103 598.5h1M106 598.5h1M108 598.5h1M115 598.5h1M69 599.5h1M89 599.5h1M96 599.5h2M102 599.5h1M68 600.5h1M71 600.5h2M79 600.5h1M83 600.5h1M87 600.5h1M91 600.5h1M94 600.5h1M102 600.5h1M106 600.5h1" stroke="#303030" stroke-width="1" fill="none" shape-rendering="crispEdges"/>
<path d="M105 547.5h1M111 547.5h1M94 549.5h1M96 549.5h1M113 549.5h1M65 550.5h1M96 550.5h1M102 550.5h1M104 550.5h1M110 550.5h1M118 550.5h1M65 551.5h1M101 551.5h3M114 551.5h1M118 551.5h1M121 551.5h1M90 552.5h1M107 552.5h1M109 552.5h1M119 552.5h1M127 552.5h1M94 553.5h2M99 553.5h1M103 553.5h1M106 553.5h1M110 553.5h1M113 553.5h2M121 553.5h1M123 553.5h2M69 554.5h1M97 554.5h1M106 554.5h2M112 554.5h6M119 554.5h1M123 554.5h1M128 554.5h1M64 555.5h1M83 555.5h1M89 555.5h1M93 555.5h1M95 555.5h1M102 555.5h1M109 555.5h1M115 555.5h1M72 556.5h1M86 556.5h1M90 556.5h1M93 556.5h1M96 556.5h1M99 556.5h1M101 556.5h1M112 556.5h2M65 557.5h1M67 557.5h1M71 557.5h1M78 557.5h1M84 557.5h4M94 557.5h1M97 557.5h2M63 558.5h1M70 558.5h1M77 558.5h1M86 558.5h1M93 558.5h1M95 558.5h1M97 558.5h1M100 558.5h2M113 558.5h1M117 558.5h2M83 559.5h1M88 559.5h1M91 559.5h1M102 559.5h2M111 559.5h1M114 559.5h2M89 560.5h1M93 560.5h1M102 560.5h1M111 560.5h1M113 560.5h1M124 560.5h1M68 561.5h1M76 561.5h1M85 561.5h2M90 561.5h1M92 561.5h2M97 561.5h1M103 561.5h1M107 561.5h1M109 561.5h1M112 561.5h1M120 561.5h1M75 562.5h1M77 562.5h1M80 562.5h1M82 562.5h1M86 562.5h1M89 562.5h1M95 562.5h1M100 562.5h1M116 562.5h1M118 562.5h1M127 562.5h1M63 563.5h1M74 563.5h1M81 563.5h1M89 563.5h1M91 563.5h1M98 563.5h1M102 563.5h1M106 563.5h2M113 563.5h1M117 563.5h1M62 564.5h1M67 564.5h1M76 564.5h1M87 564.5h1M91 564.5h2M94 564.5h1M98 564.5h1M100 564.5h2M111 564.5h1M123 564.5h1M81 565.5h2M87 565.5h2M95 565.5h1M97 565.5h2M104 565.5h2M111 565.5h1M118 565.5h1M64 566.5h1M66 566.5h1M74 566.5h1M81 566.5h1M83 566.5h1M90 566.5h1M95 566.5h1M102 566.5h1M110 566.5h1M65 567.5h1M69 567.5h1M71 567.5h1M73 567.5h1M83 567.5h1M93 567.5h1M96 567.5h2M103 567.5h2M107 567.5h1M109 567.5h2M113 567.5h2M116 567.5h1M119 567.5h1M122 567.5h1M67 568.5h1M71 568.5h1M75 568.5h1M82 568.5h1M85 568.5h1M90 568.5h1M98 568.5h1M101 568.5h1M103 568.5h1M105 568.5h1M107 568.5h1M113 568.5h1M125 568.5h1M128 568.5h1M136 568.5h1M66 569.5h2M74 569.5h1M76 569.5h2M83 569.5h1M85 569.5h1M89 569.5h2M96 569.5h1M100 569.5h1M106 569.5h1M108 569.5h1M130 569.5h1M61 570.5h1M75 570.5h1M80 570.5h2M87 570.5h1M104 570.5h1M120 570.5h1M132 570.5h1M66 571.5h1M68 571.5h1M71 571.5h1M73 571.5h1M79 571.5h1M81 571.5h1M84 571.5h1M98 571.5h1M100 571.5h1M110 571.5h1M113 571.5h1M118 571.5h2M123 571.5h2M127 571.5h2M133 571.5h2M64 572.5h1M68 572.5h2M76 572.5h1M82 572.5h1M87 572.5h1M91 572.5h2M94 572.5h4M100 572.5h1M106 572.5h1M109 572.5h1M113 572.5h1M116 572.5h1M70 573.5h2M75 573.5h3M80 573.5h1M84 573.5h1M91 573.5h2M94 573.5h1M103 573.5h1M105 573.5h1M107 573.5h1M111 573.5h1M120 573.5h1M122 573.5h1M132 573.5h1M137 573.5h1M65 574.5h1M67 574.5h1M74 574.5h1M76 574.5h2M80 574.5h3M84 574.5h1M107 574.5h1M110 574.5h1M118 574.5h1M126 574.5h1M129 574.5h1M131 574.5h1M134 574.5h1M71 575.5h1M88 575.5h1M116 575.5h1M129 575.5h6M64 576.5h1M69 576.5h1M73 576.5h1M85 576.5h1M87 576.5h1M109 576.5h1M111 576.5h2M119 576.5h2M127 576.5h1M130 576.5h1M133 576.5h1M69 577.5h2M110 577.5h1M114 577.5h1M118 577.5h1M120 577.5h1M123 577.5h2M131 577.5h3M136 577.5h1M70 578.5h1M113 578.5h1M123 578.5h1M125 578.5h1M127 578.5h1M134 578.5h2M63 579.5h1M66 579.5h1M112 579.5h1M114 579.5h1M117 579.5h1M125 579.5h1M131 579.5h1M134 579.5h1M137 579.5h1M62 580.5h1M69 580.5h1M112 580.5h1M116 580.5h1M118 580.5h1M124 580.5h1M130 580.5h1M132 580.5h1M137 580.5h1M66 581.5h1M118 581.5h1M123 581.5h2M126 581.5h1M128 581.5h1M141 581.5h1M64 582.5h1M67 582.5h2M113 582.5h2M117 582.5h1M119 582.5h2M125 582.5h1M129 582.5h1M133 582.5h1M143 582.5h1M65 583.5h1M68 583.5h1M124 583.5h1M128 583.5h1M136 583.5h1M140 583.5h1M68 584.5h1M99 584.5h1M117 584.5h2M121 584.5h1M125 584.5h1M128 584.5h1M135 584.5h1M137 584.5h1M67 585.5h2M112 585.5h2M116 585.5h1M121 585.5h1M124 585.5h2M133 585.5h1M67 586.5h1M112 586.5h1M119 586.5h1M124 586.5h1M131 586.5h1M66 587.5h1M68 587.5h1M120 587.5h1M126 587.5h1M130 587.5h1M133 587.5h1M63 588.5h1M65 588.5h1M114 588.5h1M116 588.5h1M126 588.5h1M133 588.5h1M139 588.5h1M66 589.5h1M111 589.5h1M115 589.5h1M117 589.5h1M120 589.5h1M129 589.5h1M112 590.5h1M114 590.5h1M119 590.5h1M125 590.5h1M61 591.5h2M68 591.5h1M88 591.5h2M107 591.5h1M110 591.5h1M114 591.5h3M123 591.5h1M87 592.5h1M107 592.5h1M111 592.5h1M113 592.5h1M69 593.5h1M85 593.5h1M87 593.5h1M89 593.5h1M105 593.5h1M112 593.5h1M114 593.5h1M126 593.5h1M63 594.5h2M69 594.5h1M84 594.5h1M88 594.5h2M91 594.5h1M93 594.5h1M104 594.5h1M107 594.5h1M113 594.5h1M69 595.5h1M85 595.5h1M91 595.5h1M93 595.5h1M97 595.5h1M102 595.5h2M114 595.5h1M119 595.5h2M87 596.5h4M95 596.5h3M99 596.5h1M106 596.5h1M110 596.5h1M67 597.5h2M87 597.5h1M89 597.5h1M99 597.5h2M104 597.5h1M108 597.5h1M111 597.5h1M63 598.5h2M71 598.5h2M90 598.5h1M95 598.5h1M107 598.5h1M114 598.5h1M67 599.5h2M72 599.5h1M86 599.5h1M91 599.5h1M98 599.5h1M101 599.5h1M106 599.5h1M108 599.5h1M62 600.5h1M64 600.5h1M73 600.5h1M78 600.5h1M82 600.5h1M90 600.5h1M96 600.5h1M100 600.5h1" stroke="#404040" stroke-width="1" fill="none" shape-rendering="crispEdges"/>
<path d="M106 547.5h1M110 549.5h1M117 549.5h1M101 550.5h1M108 550.5h1M112 550.5h2M93 551.5h2M104 551.5h1M107 551.5h1M64 552.5h1M66 552.5h1M69 552.5h1M94 552.5h1M108 552.5h1M118 552.5h1M86 553.5h2M92 553.5h1M100 553.5h2M111 553.5h1M116 553.5h1M120 553.5h1M80 554.5h1M94 554.5h3M99 554.5h1M101 554.5h1M103 554.5h1M120 554.5h1M69 555.5h1M71 555.5h1M84 555.5h1M91 555.5h1M98 555.5h1M101 555.5h1M103 555.5h2M107 555.5h1M116 555.5h1M119 555.5h1M127 555.5h1M89 556.5h1M98 556.5h1M102 556.5h3M106 556.5h3M111 556.5h1M124 556.5h1M77 557.5h1M91 557.5h1M96 557.5h1M101 557.5h3M105 557.5h4M115 557.5h1M119 557.5h2M128 557.5h1M68 558.5h1M71 558.5h2M89 558.5h1M98 558.5h2M102 558.5h1M105 558.5h1M110 558.5h1M114 558.5h1M70 559.5h1M77 559.5h1M87 559.5h1M89 559.5h1M93 559.5h1M99 559.5h1M105 559.5h1M108 559.5h1M112 559.5h2M101 560.5h1M105 560.5h1M108 560.5h1M110 560.5h1M114 560.5h1M127 560.5h1M62 561.5h1M69 561.5h1M77 561.5h1M84 561.5h1M95 561.5h2M98 561.5h1M104 561.5h1M113 561.5h1M117 561.5h2M122 561.5h1M125 561.5h1M67 562.5h1M69 562.5h1M71 562.5h1M78 562.5h1M83 562.5h1M88 562.5h1M92 562.5h2M106 562.5h1M108 562.5h1M112 562.5h2M124 562.5h1M70 563.5h1M78 563.5h1M83 563.5h1M90 563.5h1M93 563.5h1M97 563.5h1M103 563.5h1M108 563.5h2M121 563.5h1M130 563.5h1M73 564.5h1M81 564.5h1M84 564.5h2M89 564.5h2M107 564.5h1M109 564.5h2M112 564.5h2M121 564.5h1M125 564.5h1M73 565.5h1M78 565.5h1M83 565.5h1M86 565.5h1M93 565.5h1M100 565.5h1M110 565.5h1M120 565.5h1M124 565.5h1M70 566.5h1M73 566.5h1M76 566.5h1M85 566.5h3M94 566.5h1M96 566.5h1M101 566.5h1M107 566.5h1M109 566.5h1M115 566.5h1M117 566.5h1M131 566.5h1M67 567.5h1M77 567.5h1M81 567.5h1M86 567.5h1M92 567.5h1M99 567.5h1M101 567.5h1M111 567.5h2M117 567.5h1M123 567.5h1M62 568.5h2M69 568.5h1M73 568.5h2M76 568.5h2M80 568.5h2M89 568.5h1M91 568.5h1M93 568.5h1M111 568.5h1M118 568.5h2M122 568.5h1M124 568.5h1M129 568.5h1M132 568.5h1M63 569.5h1M69 569.5h1M71 569.5h1M79 569.5h1M81 569.5h2M86 569.5h1M93 569.5h1M98 569.5h1M101 569.5h1M103 569.5h1M110 569.5h1M112 569.5h1M116 569.5h1M118 569.5h1M121 569.5h1M124 569.5h1M72 570.5h1M74 570.5h1M76 570.5h1M83 570.5h2M89 570.5h1M106 570.5h1M108 570.5h1M111 570.5h1M113 570.5h1M115 570.5h2M118 570.5h1M133 570.5h1M67 571.5h1M70 571.5h1M72 571.5h1M74 571.5h1M76 571.5h1M78 571.5h1M83 571.5h1M85 571.5h1M97 571.5h1M106 571.5h1M111 571.5h2M114 571.5h1M117 571.5h1M121 571.5h1M67 572.5h1M70 572.5h2M74 572.5h1M83 572.5h1M89 572.5h1M99 572.5h1M101 572.5h2M124 572.5h1M132 572.5h1M134 572.5h1M138 572.5h1M65 573.5h1M79 573.5h1M88 573.5h1M101 573.5h2M109 573.5h1M112 573.5h2M115 573.5h1M118 573.5h1M124 573.5h2M127 573.5h1M69 574.5h1M71 574.5h1M75 574.5h1M86 574.5h1M91 574.5h2M104 574.5h1M111 574.5h1M113 574.5h1M116 574.5h1M120 574.5h2M123 574.5h2M127 574.5h1M135 574.5h3M142 574.5h1M64 575.5h1M66 575.5h1M70 575.5h1M72 575.5h3M81 575.5h1M83 575.5h1M89 575.5h3M106 575.5h1M109 575.5h1M112 575.5h1M114 575.5h2M121 575.5h1M125 575.5h4M135 575.5h1M137 575.5h1M65 576.5h1M71 576.5h1M82 576.5h2M108 576.5h1M117 576.5h1M122 576.5h1M124 576.5h1M128 576.5h1M135 576.5h2M63 577.5h1M81 577.5h1M83 577.5h4M115 577.5h1M129 577.5h1M134 577.5h2M138 577.5h1M142 577.5h1M67 578.5h1M84 578.5h1M111 578.5h1M119 578.5h1M124 578.5h1M133 578.5h1M64 579.5h2M68 579.5h1M70 579.5h1M88 579.5h1M110 579.5h1M130 579.5h1M133 579.5h1M115 580.5h1M134 580.5h1M69 581.5h1M112 581.5h1M117 581.5h1M130 581.5h1M133 581.5h1M140 581.5h1M65 582.5h1M69 582.5h1M112 582.5h1M122 582.5h1M142 582.5h1M66 583.5h2M99 583.5h1M112 583.5h2M117 583.5h3M121 583.5h1M125 583.5h1M127 583.5h1M129 583.5h1M131 583.5h1M138 583.5h1M112 584.5h1M115 584.5h1M122 584.5h1M126 584.5h1M134 584.5h1M65 585.5h2M117 585.5h1M120 585.5h1M135 585.5h1M138 585.5h1M116 586.5h2M122 586.5h1M129 586.5h2M132 586.5h4M67 587.5h1M110 587.5h2M114 587.5h2M118 587.5h1M134 587.5h1M110 588.5h1M115 588.5h1M117 588.5h1M121 588.5h1M136 588.5h1M138 588.5h1M112 589.5h3M125 589.5h2M132 589.5h1M64 590.5h2M109 590.5h1M122 590.5h1M127 590.5h1M134 590.5h1M69 591.5h1M86 591.5h2M109 591.5h1M113 591.5h1M117 591.5h2M124 591.5h1M67 592.5h1M84 592.5h3M88 592.5h1M90 592.5h1M106 592.5h1M120 592.5h1M127 592.5h1M86 593.5h1M91 593.5h1M95 593.5h1M104 593.5h1M108 593.5h1M110 593.5h1M113 593.5h1M125 593.5h1M61 594.5h1M68 594.5h1M85 594.5h1M101 594.5h1M103 594.5h1M105 594.5h1M108 594.5h2M62 595.5h1M92 595.5h1M96 595.5h1M115 595.5h1M123 595.5h1M66 596.5h1M70 596.5h1M84 596.5h3M109 596.5h1M112 596.5h1M71 597.5h1M84 597.5h1M86 597.5h1M88 597.5h1M91 597.5h1M94 597.5h3M102 597.5h1M106 597.5h1M110 597.5h1M117 597.5h1M68 598.5h1M84 598.5h1M93 598.5h1M104 598.5h2M70 599.5h1M77 599.5h2M82 599.5h4M100 599.5h1M103 599.5h3M107 599.5h1M118 599.5h1M63 600.5h1M67 600.5h1M69 600.5h1M74 600.5h1M80 600.5h1M89 600.5h1M92 600.5h2M95 600.5h1M97 600.5h1M103 600.5h1M105 600.5h1M108 600.5h1M113 600.5h1" stroke="#505050" stroke-width="1" fill="none" shape-rendering="crispEdges"/>
<path d="M119 544.5h1M118 547.5h1M97 548.5h1M136 549.5h1M88 550.5h1M117 550.5h1M66 551.5h1M108 551.5h1M68 552.5h1M100 552.5h1M83 553.5h1M107 553.5h1M109 553.5h1M128 553.5h1M90 554.5h1M92 554.5h1M124 554.5h1M73 555.5h1M81 555.5h1M90 555.5h1M110 555.5h1M113 555.5h1M125 555.5h1M68 556.5h1M81 556.5h1M100 557.5h1M104 557.5h1M114 557.5h1M65 558.5h1M115 558.5h1M92 559.5h1M96 559.5h1M107 559.5h1M120 559.5h1M70 560.5h1M90 560.5h2M96 560.5h2M115 560.5h1M74 561.5h1M101 561.5h1M106 561.5h1M115 561.5h1M63 562.5h1M87 562.5h1M94 562.5h1M96 562.5h1M105 562.5h1M110 562.5h1M122 562.5h1M72 563.5h1M82 563.5h1M111 563.5h2M122 563.5h1M88 564.5h1M96 564.5h1M102 564.5h3M122 564.5h1M106 565.5h1M109 565.5h1M80 566.5h1M97 566.5h1M99 566.5h1M112 566.5h1M116 566.5h1M59 567.5h1M84 567.5h1M88 567.5h1M100 567.5h1M126 567.5h1M135 567.5h1M66 568.5h1M78 568.5h1M88 568.5h1M100 568.5h1M102 568.5h1M104 568.5h1M91 569.5h1M102 569.5h1M114 569.5h1M71 570.5h1M77 570.5h1M79 570.5h1M82 570.5h1M86 570.5h1M122 570.5h1M80 571.5h1M87 571.5h2M115 571.5h1M122 571.5h1M81 572.5h1M86 572.5h1M90 572.5h1M108 572.5h1M112 572.5h1M119 572.5h1M123 572.5h1M125 572.5h1M93 573.5h1M96 573.5h2M99 573.5h2M114 573.5h1M121 573.5h1M144 573.5h1M68 574.5h1M78 574.5h2M87 574.5h1M93 574.5h1M95 574.5h1M106 574.5h1M112 574.5h1M119 574.5h1M128 574.5h1M105 575.5h1M107 575.5h1M141 575.5h1M81 576.5h1M88 576.5h1M90 576.5h2M107 576.5h1M134 576.5h1M71 577.5h1M87 577.5h1M89 577.5h1M130 577.5h1M68 578.5h1M71 578.5h1M85 578.5h1M115 578.5h2M132 578.5h1M139 578.5h1M123 579.5h1M132 579.5h1M111 580.5h1M114 580.5h1M135 580.5h1M111 581.5h1M134 581.5h1M111 582.5h1M116 582.5h1M131 582.5h1M69 583.5h1M100 583.5h1M111 583.5h1M120 583.5h1M98 584.5h1M111 584.5h1M129 584.5h1M131 584.5h1M133 584.5h1M99 585.5h2M111 585.5h1M118 585.5h1M127 585.5h1M132 585.5h1M61 586.5h1M66 586.5h1M111 586.5h1M123 586.5h1M127 586.5h2M88 587.5h1M109 587.5h1M123 587.5h1M132 587.5h1M136 587.5h1M66 588.5h1M68 588.5h2M86 588.5h1M69 589.5h1M87 589.5h1M69 590.5h1M86 590.5h1M107 590.5h2M121 590.5h1M67 591.5h1M84 591.5h2M90 591.5h1M61 592.5h1M63 592.5h1M69 592.5h2M92 592.5h1M94 592.5h1M104 592.5h2M110 592.5h1M84 593.5h1M88 593.5h1M92 593.5h1M94 593.5h1M101 593.5h1M109 593.5h1M116 593.5h1M118 593.5h1M65 594.5h1M70 594.5h1M95 594.5h1M97 594.5h1M100 594.5h1M102 594.5h1M112 594.5h1M61 595.5h1M67 595.5h1M84 595.5h1M88 595.5h1M94 595.5h2M98 595.5h4M92 596.5h1M104 596.5h1M117 596.5h1M66 597.5h1M93 597.5h1M121 597.5h1M65 598.5h1M85 598.5h1M89 598.5h1M102 598.5h1M73 599.5h1M75 599.5h1M79 599.5h1M81 599.5h1M87 599.5h1M95 599.5h1M99 599.5h1M110 599.5h1M70 600.5h1M75 600.5h3M81 600.5h1M98 600.5h1M104 600.5h1M107 600.5h1" stroke="#606060" stroke-width="1" fill="none" shape-rendering="crispEdges"/>
<path d="M68 542.5h1M120 545.5h1M95 546.5h1M128 547.5h1M60 548.5h1M64 548.5h1M72 548.5h1M133 550.5h1M74 551.5h1M77 551.5h1M129 551.5h1M79 554.5h1M143 563.5h1M56 566.5h1M60 566.5h1M136 566.5h1M60 567.5h1M98 573.5h1M104 573.5h1M52 574.5h1M97 574.5h1M103 574.5h1M144 574.5h1M59 575.5h2M75 575.5h1M77 575.5h1M93 575.5h1M103 575.5h2M89 576.5h1M53 577.5h1M82 577.5h1M88 577.5h1M90 577.5h1M107 577.5h1M109 577.5h1M82 578.5h1M87 578.5h3M146 578.5h1M84 579.5h1M111 579.5h1M70 580.5h1M86 580.5h2M109 580.5h2M86 581.5h1M89 581.5h1M109 581.5h1M98 583.5h1M145 583.5h1M151 583.5h1M69 584.5h1M85 585.5h1M98 585.5h1M86 586.5h1M100 586.5h1M69 587.5h1M90 588.5h1M108 588.5h2M84 589.5h3M108 589.5h2M60 590.5h1M87 590.5h2M90 590.5h1M91 591.5h1M105 591.5h2M137 591.5h1M93 592.5h1M133 592.5h1M70 593.5h1M93 593.5h1M96 593.5h2M99 593.5h1M102 593.5h2M82 594.5h2M92 594.5h1M96 594.5h1M98 594.5h2M130 594.5h1M70 595.5h2M83 595.5h1M71 596.5h1M73 596.5h1M83 596.5h1M72 597.5h1M85 597.5h1M73 598.5h1M79 598.5h1M82 598.5h1M87 598.5h1M74 599.5h1M80 599.5h1M60 600.5h1" stroke="#707070" stroke-width="1" fill="none" shape-rendering="crispEdges"/>
<path d="M104 541.5h1M93 542.5h1M99 543.5h1M66 544.5h1M127 544.5h1M134 544.5h1M117 545.5h1M103 546.5h1M74 548.5h1M60 551.5h1M132 553.5h1M61 555.5h1M132 556.5h1M138 563.5h1M137 566.5h1M140 566.5h1M160 566.5h1M96 574.5h1M98 574.5h3M105 574.5h1M76 575.5h1M78 575.5h3M92 575.5h1M94 575.5h1M99 575.5h2M74 576.5h1M76 576.5h1M79 576.5h2M93 576.5h1M96 576.5h1M105 576.5h2M72 577.5h1M78 577.5h1M108 577.5h1M83 578.5h1M86 578.5h1M90 578.5h1M109 578.5h1M56 579.5h1M71 579.5h1M83 579.5h1M85 579.5h2M109 579.5h1M83 580.5h3M89 580.5h1M84 581.5h1M54 582.5h1M57 582.5h1M83 582.5h1M100 582.5h1M110 582.5h1M59 583.5h1M97 583.5h1M76 584.5h1M85 584.5h1M89 584.5h1M101 584.5h1M108 584.5h2M69 585.5h1M89 585.5h1M97 585.5h1M101 585.5h1M109 585.5h2M73 586.5h1M85 586.5h1M87 586.5h1M95 586.5h1M99 586.5h1M109 586.5h2M85 587.5h1M87 588.5h2M76 589.5h1M81 589.5h1M88 589.5h2M85 590.5h1M91 590.5h1M93 590.5h1M106 590.5h1M92 591.5h1M71 592.5h1M82 592.5h1M91 592.5h1M103 592.5h1M83 593.5h1M98 593.5h1M71 594.5h2M94 594.5h1M73 595.5h1M128 595.5h1M82 596.5h1M124 596.5h1M81 597.5h3M74 598.5h3M78 598.5h1M81 598.5h1M83 598.5h1M122 600.5h1M133 600.5h1" stroke="#808080" stroke-width="1" fill="none" shape-rendering="crispEdges"/>
<path d="M66 532.5h1M85 540.5h1M99 540.5h1M123 542.5h1M110 546.5h1M77 547.5h1M93 547.5h1M75 549.5h1M87 551.5h1M60 553.5h1M82 553.5h1M78 554.5h1M134 556.5h1M130 557.5h1M136 557.5h1M61 558.5h1M137 567.5h1M144 567.5h1M139 569.5h1M141 570.5h1M142 571.5h1M101 574.5h2M95 575.5h3M101 575.5h2M148 575.5h1M75 576.5h1M78 576.5h1M99 576.5h2M102 576.5h1M104 576.5h1M73 577.5h1M77 577.5h1M80 577.5h1M91 577.5h1M96 577.5h1M104 577.5h2M59 578.5h1M72 578.5h1M74 578.5h1M79 578.5h2M97 578.5h1M104 578.5h1M108 578.5h1M59 579.5h1M72 579.5h2M79 579.5h1M81 579.5h2M87 579.5h1M89 579.5h1M91 579.5h2M101 579.5h1M145 579.5h1M71 580.5h1M88 580.5h1M70 581.5h1M81 581.5h1M83 581.5h1M85 581.5h1M88 581.5h1M106 581.5h1M110 581.5h1M58 582.5h1M70 582.5h1M84 582.5h1M88 582.5h1M109 582.5h1M54 583.5h1M85 583.5h4M109 583.5h1M57 584.5h1M59 584.5h1M70 584.5h1M81 584.5h2M86 584.5h3M95 584.5h1M110 584.5h1M73 585.5h1M75 585.5h1M88 585.5h1M146 585.5h1M69 586.5h2M84 586.5h1M144 586.5h1M83 587.5h1M86 587.5h2M89 587.5h1M108 587.5h1M52 588.5h1M83 588.5h2M91 588.5h1M97 588.5h1M106 588.5h2M60 589.5h1M74 589.5h1M82 589.5h1M104 589.5h2M71 590.5h1M83 590.5h1M89 590.5h1M95 590.5h2M70 591.5h1M82 591.5h2M93 591.5h2M102 591.5h1M104 591.5h1M73 592.5h1M83 592.5h1M95 592.5h1M97 592.5h1M100 592.5h1M81 593.5h1M136 593.5h1M74 594.5h1M75 595.5h1M81 595.5h2M72 596.5h1M76 596.5h1M59 597.5h1M77 598.5h1M80 598.5h1M55 599.5h1M120 600.5h1" stroke="#909090" stroke-width="1" fill="none" shape-rendering="crispEdges"/>
<path d="M87 542.5h1M117 542.5h1M137 542.5h1M111 544.5h1M125 544.5h1M97 546.5h1M109 546.5h1M121 546.5h1M67 548.5h1M57 558.5h1M133 560.5h1M133 564.5h1M144 564.5h1M142 567.5h1M145 573.5h1M77 576.5h1M92 576.5h1M97 576.5h2M101 576.5h1M103 576.5h1M57 577.5h1M74 577.5h3M79 577.5h1M92 577.5h3M98 577.5h1M100 577.5h1M103 577.5h1M106 577.5h1M75 578.5h2M78 578.5h1M91 578.5h1M93 578.5h2M107 578.5h1M74 579.5h1M78 579.5h1M80 579.5h1M90 579.5h1M103 579.5h2M106 579.5h1M108 579.5h1M54 580.5h1M78 580.5h1M90 580.5h2M102 580.5h1M107 580.5h2M87 581.5h1M90 581.5h1M97 581.5h1M101 581.5h1M104 581.5h1M108 581.5h1M52 582.5h1M71 582.5h1M75 582.5h1M86 582.5h2M89 582.5h1M92 582.5h1M94 582.5h2M99 582.5h1M103 582.5h2M107 582.5h1M70 583.5h3M74 583.5h2M81 583.5h4M89 583.5h2M95 583.5h1M101 583.5h1M110 583.5h1M71 584.5h1M84 584.5h1M91 584.5h2M96 584.5h2M105 584.5h1M70 585.5h2M76 585.5h1M84 585.5h1M86 585.5h1M90 585.5h1M94 585.5h1M107 585.5h1M72 586.5h1M76 586.5h1M89 586.5h1M97 586.5h1M103 586.5h1M106 586.5h3M70 587.5h1M72 587.5h1M74 587.5h1M84 587.5h1M92 587.5h1M95 587.5h1M101 587.5h1M103 587.5h1M71 588.5h2M76 588.5h2M79 588.5h2M94 588.5h1M102 588.5h2M70 589.5h2M73 589.5h1M90 589.5h3M94 589.5h1M102 589.5h1M107 589.5h1M70 590.5h1M74 590.5h1M81 590.5h2M84 590.5h1M92 590.5h1M94 590.5h1M104 590.5h2M71 591.5h2M79 591.5h1M95 591.5h1M97 591.5h1M101 591.5h1M81 592.5h1M96 592.5h1M102 592.5h1M71 593.5h3M76 593.5h1M82 593.5h1M100 593.5h1M73 594.5h1M75 594.5h2M78 594.5h1M80 594.5h1M127 594.5h1M72 595.5h1M77 595.5h4M57 597.5h1M73 597.5h6M76 599.5h1M121 600.5h1" stroke="#a0a0a0" stroke-width="1" fill="none" shape-rendering="crispEdges"/>
<path d="M94 576.5h1M97 577.5h1M102 577.5h1M73 578.5h1M77 578.5h1M95 578.5h1M99 578.5h2M105 578.5h2M76 579.5h2M93 579.5h2M99 579.5h2M105 579.5h1M107 579.5h1M74 580.5h2M80 580.5h1M82 580.5h1M93 580.5h1M99 580.5h1M106 580.5h1M71 581.5h2M76 581.5h1M91 581.5h3M95 581.5h2M98 581.5h1M103 581.5h1M105 581.5h1M107 581.5h1M74 582.5h1M76 582.5h1M80 582.5h2M85 582.5h1M91 582.5h1M96 582.5h2M108 582.5h1M73 583.5h1M76 583.5h2M80 583.5h1M91 583.5h2M103 583.5h2M107 583.5h2M73 584.5h1M75 584.5h1M77 584.5h1M80 584.5h1M83 584.5h1M93 584.5h1M102 584.5h2M107 584.5h1M72 585.5h1M74 585.5h1M82 585.5h2M87 585.5h1M103 585.5h1M105 585.5h1M71 586.5h1M75 586.5h1M79 586.5h5M88 586.5h1M90 586.5h1M94 586.5h1M96 586.5h1M98 586.5h1M101 586.5h1M75 587.5h1M77 587.5h5M96 587.5h1M99 587.5h2M102 587.5h1M105 587.5h2M73 588.5h1M75 588.5h1M82 588.5h1M85 588.5h1M89 588.5h1M92 588.5h1M101 588.5h1M104 588.5h2M83 589.5h1M93 589.5h1M100 589.5h1M106 589.5h1M72 590.5h1M76 590.5h1M79 590.5h2M98 590.5h1M100 590.5h1M103 590.5h1M80 591.5h2M99 591.5h2M103 591.5h1M72 592.5h1M75 592.5h2M80 592.5h1M98 592.5h2M101 592.5h1M74 593.5h1M79 593.5h1M77 594.5h1M79 594.5h1M74 595.5h1M76 595.5h1M74 596.5h2M80 596.5h1M79 597.5h2" stroke="#b0b0b0" stroke-width="1" fill="none" shape-rendering="crispEdges"/>
<path d="M98 575.5h1M95 576.5h1M95 577.5h1M81 578.5h1M92 578.5h1M96 578.5h1M103 578.5h1M96 579.5h1M76 580.5h2M79 580.5h1M81 580.5h1M92 580.5h1M96 580.5h3M100 580.5h2M103 580.5h1M105 580.5h1M79 581.5h1M82 581.5h1M94 581.5h1M102 581.5h1M77 582.5h2M82 582.5h1M90 582.5h1M93 582.5h1M98 582.5h1M101 582.5h2M106 582.5h1M78 583.5h1M93 583.5h1M96 583.5h1M102 583.5h1M106 583.5h1M72 584.5h1M79 584.5h1M90 584.5h1M104 584.5h1M106 584.5h1M80 585.5h2M91 585.5h2M96 585.5h1M102 585.5h1M106 585.5h1M74 586.5h1M77 586.5h2M91 586.5h3M102 586.5h1M76 587.5h1M82 587.5h1M90 587.5h1M94 587.5h1M104 587.5h1M107 587.5h1M70 588.5h1M81 588.5h1M93 588.5h1M95 588.5h2M98 588.5h2M72 589.5h1M75 589.5h1M77 589.5h1M95 589.5h1M98 589.5h1M75 590.5h1M77 590.5h1M97 590.5h1M99 590.5h1M101 590.5h2M73 591.5h3M77 591.5h1M96 591.5h1M98 591.5h1M74 592.5h1M77 592.5h1M79 592.5h1M77 593.5h2M81 594.5h1M77 596.5h3M81 596.5h1" stroke="#c0c0c0" stroke-width="1" fill="none" shape-rendering="crispEdges"/>
<path d="M99 577.5h1M101 577.5h1M98 578.5h1M101 578.5h2M75 579.5h1M97 579.5h1M72 580.5h2M95 580.5h1M73 581.5h2M77 581.5h1M80 581.5h1M99 581.5h2M73 582.5h1M79 583.5h1M94 583.5h1M105 583.5h1M74 584.5h1M94 584.5h1M77 585.5h3M93 585.5h1M95 585.5h1M104 585.5h1M104 586.5h2M71 587.5h1M73 587.5h1M91 587.5h1M97 587.5h2M74 588.5h1M78 588.5h1M100 588.5h1M78 589.5h3M96 589.5h1M101 589.5h1M103 589.5h1M73 590.5h1M78 590.5h1M78 591.5h1M78 592.5h1M80 593.5h1" stroke="#d0d0d0" stroke-width="1" fill="none" shape-rendering="crispEdges"/>
<path d="M95 579.5h1M98 579.5h1M102 579.5h1M104 580.5h1M75 581.5h1M78 581.5h1M72 582.5h1M79 582.5h1M105 582.5h1M78 584.5h1M108 585.5h1M93 587.5h1M97 589.5h1M99 589.5h1M76 591.5h1M75 593.5h1" stroke="#e0e0e0" stroke-width="1" fill="none" shape-rendering="crispEdges"/>
<path d="M94 580.5h1" stroke="#f0f0f0" stroke-width="1" fill="none" shape-rendering="crispEdges"/>
<path d="M260.11 400.66h0.9M253.87 374.47h0.9M260.61 366.13h0.9M248.6 384.18h0.9M248.24 386.48h0.9M256.68 380.53h0.9M250.79 372.01h0.9M253.62 383.96h0.9M258.72 387.75h0.9M254.65 371.56h0.9M263.15 380.38h0.9M255.08 398.51h0.9M247.92 383.76h0.9M256.91 386.87h0.9M249.36 377.35h0.9M263.16 378.61h0.9M253.68 379.21h0.9M241.86 392.44h0.9M250.11 382.82h0.9M249.81 368.26h0.9M252.88 387.48h0.9M253.56 388.82h0.9M254.93 388.35h0.9M250.02 368.72h0.9M246.76 391.78h0.9M246.96 379h0.9M254.35 394.22h0.9M256.42 392.78h0.9M256.54 383.3h0.9M258.23 379.02h0.9M251.84 379.79h0.9M252.04 375.56h0.9M253.78 387h0.9M249.78 368.07h0.9M254.56 380.59h0.9M251.82 392.5h0.9M255.17 376.52h0.9M252.83 379.06h0.9M252.7 382.12h0.9M259.14 377.68h0.9M252.55 380.76h0.9M250.4 377.91h0.9M247.38 377.69h0.9M254.88 377.76h0.9M255.1 391.41h0.9M248.48 373.55h0.9M256.49 387.84h0.9M244.34 380.48h0.9M246.83 373.79h0.9M251.01 370.38h0.9M254.04 384.23h0.9M248.17 369.34h0.9M260.97 381.31h0.9M261.56 404.7h0.9M248.85 399.54h0.9M248.93 409.32h0.9M254.15 403.17h0.9M250.79 388.13h0.9M260.65 404.67h0.9M254.28 395.72h0.9M250.94 408.06h0.9M257.78 384.57h0.9M262.04 398.59h0.9M249.8 389.16h0.9M248.21 409.66h0.9M258.44 412.21h0.9M255.25 402.27h0.9M261.4 401.8h0.9M257.96 410.77h0.9M249.75 393.23h0.9M249.43 401.48h0.9M251.23 428.9h0.9M254.43 395.33h0.9M249.9 406.91h0.9M264.6 402.73h0.9M257.39 399.94h0.9M252.84 383.27h0.9M254.12 403.38h0.9M254.24 394.36h0.9M254.45 408.17h0.9M250.86 400.16h0.9M254.64 403.49h0.9M254.3 410.03h0.9M254.95 419.65h0.9M260.16 392.56h0.9M252.47 399.47h0.9M255.55 414.85h0.9M249.95 393.55h0.9M254.96 421.16h0.9M249.24 421.67h0.9M255.25 411.78h0.9M259.51 413.13h0.9M245.91 396.26h0.9M262.05 407.59h0.9M246.18 397.26h0.9M253.33 382.55h0.9M252.71 399.41h0.9M248.6 400.43h0.9M250.7 380.63h0.9M252.37 412.51h0.9M248.61 404.84h0.9M249.5 419.29h0.9M263.87 422.83h0.9M251.26 423.77h0.9M254.56 420.04h0.9M251.43 419.81h0.9M248.41 419.18h0.9M261.65 421.52h0.9M259.9 424.4h0.9M253.17 420.03h0.9M245.95 418.71h0.9M248.51 427.82h0.9M258.14 417.76h0.9M269.47 380.76h0.9" stroke="#202020" stroke-width="0.9" fill="none"/>
<path d="M253.25 389.9h0.9M248.99 387.77h0.9M257.08 385.15h0.9M255.61 386.57h0.9M253.48 379.91h0.9M252.04 368.45h0.9M246.96 371.05h0.9M259.63 379.41h0.9M248.78 388.84h0.9M254.37 378.03h0.9M254.87 383.74h0.9M254.57 385.15h0.9M248.65 366.68h0.9M251.99 378.06h0.9M251.21 401.47h0.9M259.41 383.73h0.9M255.23 393.8h0.9M257.29 365.55h0.9M249.33 388.91h0.9M255.56 382.09h0.9M248.64 385.01h0.9M255.42 380.07h0.9M259.07 371.2h0.9M251.84 388.72h0.9M260.32 396.06h0.9M255.55 385.07h0.9M253.73 385.3h0.9M258.41 382.19h0.9M253.06 387.86h0.9M255.96 393.33h0.9M247.78 381.77h0.9M254.69 383.8h0.9M250.9 371.68h0.9M254.75 384.02h0.9M251.71 376.61h0.9M253.55 381.47h0.9M253.13 377.16h0.9M249 366.28h0.9M251.58 381.47h0.9M249.08 373.5h0.9M250.18 382.77h0.9M253.69 373.68h0.9M253.32 387.38h0.9M249.11 393.61h0.9M248.31 391.45h0.9M253.7 381.78h0.9M250.93 377.21h0.9M253.16 371.57h0.9M248.65 379.42h0.9M250.81 370.22h0.9M251.69 396.92h0.9M253.05 368.63h0.9M252.31 384.37h0.9M260.03 375.64h0.9M252.15 382.91h0.9M249.58 372.28h0.9M252.18 376.11h0.9M255.63 384.31h0.9M245.17 378.33h0.9M260.57 408.37h0.9M255.11 421.9h0.9M254.08 385.82h0.9M253.42 411.4h0.9M250.94 405.86h0.9M250.07 396.94h0.9M251.21 405.57h0.9M261.48 399.52h0.9M248.6 408.69h0.9M257.4 386.47h0.9M253.91 413.95h0.9M253.33 424.9h0.9M252.88 396.12h0.9M243.92 411.06h0.9M247.52 379.86h0.9M255.6 416.04h0.9M246.42 393.5h0.9M254.3 420.73h0.9M249.67 404.41h0.9M260.09 403.4h0.9M250.68 399.43h0.9M256.96 392.64h0.9M255.01 392.2h0.9M249.47 408.79h0.9M259.43 386.62h0.9M244.09 402.48h0.9M252.72 400.8h0.9M245.06 400.57h0.9M251.8 388.34h0.9M250.22 387.26h0.9M253.78 413.56h0.9M252.44 404.16h0.9M246.48 426.08h0.9M251.39 409.23h0.9M251.37 400.85h0.9M249.96 399.53h0.9M252.98 400.27h0.9M252.79 386.47h0.9M255.02 395.52h0.9M249.43 400.92h0.9M250.04 410.56h0.9M252.52 387.84h0.9M253.65 385.2h0.9M249.15 426.08h0.9M249.51 408h0.9M251.4 405.41h0.9M256.84 401h0.9M257.91 394.11h0.9M256.45 404.72h0.9M258.01 405.99h0.9M243.4 408.41h0.9M252.72 402.46h0.9M258.23 410.75h0.9M250.71 425.84h0.9M252.75 417.53h0.9M246.56 419.63h0.9M254.28 414.99h0.9M260.83 417.54h0.9M247.12 423.69h0.9M255.97 415.97h0.9M253.03 409.66h0.9M256.49 410.42h0.9M258.34 416.96h0.9" stroke="#303030" stroke-width="0.9" fill="none"/>
<path d="M250.16 374.44h0.9M246.35 386.17h0.9M250.04 382.38h0.9M255.51 381.42h0.9M251.28 378.29h0.9M261.57 366.19h0.9M256.25 385.22h0.9M250.6 383.16h0.9M256.16 376h0.9M256.18 385.1h0.9M252.3 377.56h0.9M251.47 383.32h0.9M257.96 378.89h0.9M252.13 379.89h0.9M255.43 376.65h0.9M255.81 383.44h0.9M251.73 375.81h0.9M245.17 386.97h0.9M248.64 391.1h0.9M247.82 367.21h0.9M260.92 378.96h0.9M253.65 384.62h0.9M253.15 389.68h0.9M256.4 396.39h0.9M256.32 367.92h0.9M254.45 384.15h0.9M242.79 388.6h0.9M256.92 376.48h0.9M250.6 378.96h0.9M244.6 399.81h0.9M245.39 371.52h0.9M244.81 394.43h0.9M254.29 368.44h0.9M251 387.75h0.9M251.64 369.35h0.9M249.61 378.89h0.9M249.43 365.7h0.9M249.71 387.18h0.9M248.17 377.73h0.9M257.49 384.34h0.9M258.77 384.99h0.9M252.85 385.93h0.9M251.21 374.18h0.9M250.66 393.05h0.9M252.96 388.5h0.9M249.4 378.05h0.9M248.35 380.1h0.9M257.12 375.92h0.9M252.53 391.69h0.9M257.32 387.28h0.9M245.58 394.83h0.9M251.65 381.89h0.9M252.03 382.06h0.9M257.3 382.41h0.9M254.94 388.95h0.9M249.88 383.75h0.9M247.7 381.8h0.9M251.08 383.21h0.9M251.5 371.24h0.9M252.65 373.17h0.9M259.88 380.21h0.9M249.96 376.52h0.9M257.5 379.89h0.9M258.48 383.85h0.9M251.98 383.34h0.9M258.2 403.16h0.9M248.76 412.02h0.9M270.25 427.49h0.9M253.1 407.65h0.9M260.45 407.57h0.9M260.33 394.47h0.9M250.68 401.7h0.9M253.78 412.2h0.9M251.73 418.17h0.9M250.28 421.96h0.9M262.28 383.58h0.9M253.21 397.63h0.9M254.02 420.71h0.9M251.47 403.65h0.9M252.62 396.63h0.9M254.97 406.54h0.9M249.02 404.84h0.9M248 408.6h0.9M259.91 395.57h0.9M254.68 418.96h0.9M257.64 405.3h0.9M260.22 395.22h0.9M248.15 419.31h0.9M249.14 394.58h0.9M252.85 414.28h0.9M250.78 393.22h0.9M253.86 408.78h0.9M260.15 393.96h0.9M253.61 410.68h0.9M256.62 427.15h0.9M252.03 406.55h0.9M259.61 393.56h0.9M252.85 395.72h0.9M258.1 400.09h0.9M254.62 402.45h0.9M251.64 403.25h0.9M253.55 410.88h0.9M255.77 391.6h0.9M245.05 428.61h0.9M253.59 393.99h0.9M249.78 398.3h0.9M248.75 400.08h0.9M259 407.38h0.9M247.91 408.62h0.9M261.98 412.67h0.9M251.62 391.48h0.9M250.58 405.62h0.9M253.37 391.68h0.9M247.96 391.56h0.9M258.78 413.1h0.9M251.28 423.83h0.9M252.58 422.13h0.9M251.87 418.53h0.9M255.77 420.9h0.9M260.97 430.99h0.9M266.71 407.72h0.9M264.65 354.53h0.9M275.62 371.68h0.9M256.63 404.7h0.9" stroke="#404040" stroke-width="0.9" fill="none"/>
<path d="M252.81 381.54h0.9M256.2 385.49h0.9M246.97 384.1h0.9M248.31 373.32h0.9M247.56 379.57h0.9M250.14 390.27h0.9M249.28 383.12h0.9M263.33 378.91h0.9M246.76 370.45h0.9M252.55 382.32h0.9M254.61 382.32h0.9M258.46 373.99h0.9M249.31 392.52h0.9M253.96 382.13h0.9M250.6 374.32h0.9M251.64 384.39h0.9M251.91 382.13h0.9M256.07 384.51h0.9M255.98 384.04h0.9M253.23 366.86h0.9M250.52 370.9h0.9M246.67 376.59h0.9M247.53 369.1h0.9M251.43 381.3h0.9M252.27 389.14h0.9M255.27 385.49h0.9M252.63 375.55h0.9M249.26 373.27h0.9M251.77 374.59h0.9M240.08 389.55h0.9M261.75 370.53h0.9M259.42 373.61h0.9M253.89 366.82h0.9M250.94 381.13h0.9M256.71 370.51h0.9M252.13 370.6h0.9M253.52 370.89h0.9M251.23 372.74h0.9M253.83 390.91h0.9M258.09 390.86h0.9M250.21 385.92h0.9M252.77 384.45h0.9M251.94 377.68h0.9M252.74 388.5h0.9M261.83 382.62h0.9M258.64 374.01h0.9M250.34 390.86h0.9M256.33 375.14h0.9M256.9 380.84h0.9M251.2 369.07h0.9M253.32 382.11h0.9M251.56 389.95h0.9M250.85 369.02h0.9M247.37 376.35h0.9M247.81 382.46h0.9M253.15 375.62h0.9M257.39 378.96h0.9M255.9 386.54h0.9M252.13 370.2h0.9M248.94 380.98h0.9M256.69 374.65h0.9M247.96 394.43h0.9M247.85 382.35h0.9M247.06 383.36h0.9M248.21 371.76h0.9M255.86 374.78h0.9M249.09 375.98h0.9M245.75 375.12h0.9M258.31 380.21h0.9M253.57 374.89h0.9M252.38 364.1h0.9M245.47 384.25h0.9M259.14 379.08h0.9M253.59 374.92h0.9M247.95 384.14h0.9M256.47 372.21h0.9M253.54 396.68h0.9M252.06 391.46h0.9M247.09 393.02h0.9M249.76 422.05h0.9M254.13 393.05h0.9M248.35 408.69h0.9M253.95 400.06h0.9M251.94 404.14h0.9M253.15 407.37h0.9M249.13 413.51h0.9M247.82 411.46h0.9M261.14 398.56h0.9M253.38 394.69h0.9M253 397.04h0.9M249.65 396.75h0.9M254.62 381.09h0.9M248.25 406.25h0.9M254.32 393.31h0.9M265.06 383.27h0.9M262.23 411.18h0.9M242.94 405.76h0.9M255.65 403.34h0.9M250.01 406.83h0.9M259.45 408.83h0.9M249.28 383.26h0.9M251.9 409.03h0.9M246.53 400.21h0.9M242.47 406.74h0.9M258.45 410.92h0.9M250.15 395.91h0.9M251.56 391.72h0.9M249.34 416.96h0.9M251.95 412.29h0.9M255.47 403.48h0.9M254.53 418.03h0.9M253.8 398.22h0.9M256.61 404.92h0.9M251.25 388.43h0.9M256.48 392.43h0.9M255.49 389.84h0.9M251.34 399.84h0.9M251.53 402.63h0.9M255.59 403.59h0.9M249.65 385.79h0.9M250.07 382.15h0.9M253.02 408.37h0.9M257.02 383.97h0.9M255.19 401.63h0.9M252.42 387.78h0.9M257.43 392.84h0.9M256.36 421.26h0.9M253.68 390.9h0.9M250.28 423.12h0.9M251.2 426.13h0.9M252.62 421.04h0.9M247.7 416.53h0.9M254.26 420.08h0.9M261.46 417.7h0.9M255.17 428.96h0.9M251.71 418.1h0.9M255.97 416.76h0.9M253.05 416.15h0.9M258.55 421.3h0.9M276.38 401.56h0.9" stroke="#505050" stroke-width="0.9" fill="none"/>
<path d="M253.08 383.97h0.9M254.93 383.68h0.9M260.79 368.82h0.9M255.83 369.18h0.9M252.49 377.23h0.9M250.32 382.42h0.9M249.27 385.27h0.9M255.22 393.2h0.9M254.93 387.09h0.9M260.06 379.38h0.9M260.23 371.87h0.9M257.34 374.78h0.9M247.2 394.39h0.9M254.9 380.95h0.9M255.19 373.46h0.9M252.13 385.54h0.9M250.65 374.01h0.9M250.82 395.9h0.9M256.85 383.72h0.9M251.16 382.17h0.9M258.85 380.97h0.9M252.9 379.8h0.9M254.99 376.54h0.9M256.68 386.24h0.9M262.14 378.64h0.9M253.16 385.46h0.9M252.23 388.33h0.9M254.38 373.97h0.9M249.52 386.28h0.9M246.83 367.41h0.9M246.38 381.36h0.9M247.8 389.25h0.9M245.32 371.22h0.9M252.36 373.91h0.9M253.21 383.64h0.9M253.84 375.1h0.9M246.98 385.16h0.9M252.95 383.51h0.9M257.23 388.76h0.9M253.42 386.11h0.9M257.18 395.35h0.9M260.46 408.82h0.9M258.28 418.75h0.9M257.15 404.94h0.9M254.58 402.37h0.9M253.92 399.7h0.9M249.2 389.23h0.9M246.51 405.62h0.9M251 405.98h0.9M248.88 400.22h0.9M259.51 393.97h0.9M252.71 389.19h0.9M251.8 406.19h0.9M254.01 383.17h0.9M254.2 401.15h0.9M256.26 401.85h0.9M250.97 382.62h0.9M254.28 404.02h0.9M252.77 398.18h0.9M252.22 401.01h0.9M254.83 406.3h0.9M246.56 413.99h0.9M253.74 397.78h0.9M246.79 422.25h0.9M260.58 396.74h0.9M250 401.23h0.9M259.38 398.84h0.9M251.14 431.53h0.9M252.48 419.99h0.9M251.92 416.47h0.9M262.83 413.88h0.9M254.34 413.43h0.9M260.67 428.83h0.9M245.49 424.36h0.9" stroke="#606060" stroke-width="0.9" fill="none"/>
<path d="M249.49 532.68h0.9M251.82 542.47h0.9M253.8 540.86h0.9M253.42 536.01h0.9M250.32 527.23h0.9M250.44 532.63h0.9M251.01 540.95h0.9M252.73 539.77h0.9M254.7 542.68h0.9M251.81 526.1h0.9M248.25 526.97h0.9M252.94 516.79h0.9M247.85 536.03h0.9M253.83 535.66h0.9M252.81 535.43h0.9M253.82 529.08h0.9M251.62 537.8h0.9M252.3 533.12h0.9M252.17 538.34h0.9M254.61 524.97h0.9M249.57 538.66h0.9M251.8 533.24h0.9M248.7 528.11h0.9M251.17 536.93h0.9M254.1 534.33h0.9M254.36 533.29h0.9M255.81 531.29h0.9M248.75 528.79h0.9M250.26 521.03h0.9M247.74 522.22h0.9M251.97 528.87h0.9M249.71 531.09h0.9M251.65 527.79h0.9M251.98 565.34h0.9M254.35 559.9h0.9M252.65 548.28h0.9M252.4 550.91h0.9M247.31 547.51h0.9M250.16 542.22h0.9M253.38 552.05h0.9M249.81 556.44h0.9M248.75 559.08h0.9M250.13 552.7h0.9M250.28 547.78h0.9M250.8 578h0.9M254.2 574.26h0.9M251.63 577.39h0.9M251.18 573.18h0.9M253.6 580.22h0.9M256.94 574.68h0.9M251.04 577.4h0.9M254.78 579.48h0.9M253 576.07h0.9M249.74 575.53h0.9M249.98 572.86h0.9M250.99 569.4h0.9M312.78 550.04h0.9M313.79 549.09h0.9M309.9 543.91h0.9M304.88 546.96h0.9M263.13 567.4h0.9" stroke="#404040" stroke-width="0.9" fill="none"/>
<path d="M254.89 524.67h0.9M251.32 525.68h0.9M253.7 540.64h0.9M250.46 538.59h0.9M251.59 525.84h0.9M252.07 537.91h0.9M253.11 527.52h0.9M252.38 528.19h0.9M252.13 527.13h0.9M247.69 526.81h0.9M254.17 528.94h0.9M247.64 530.29h0.9M252.4 531.6h0.9M252.03 527.21h0.9M252.04 529.1h0.9M251.57 531.51h0.9M251.41 535.67h0.9M249.28 531.35h0.9M250.78 528.08h0.9M251.38 546.58h0.9M252.64 537.47h0.9M251.4 530.1h0.9M255.07 534.29h0.9M251.32 537.61h0.9M252.85 527.97h0.9M250.77 538.87h0.9M251.23 532.81h0.9M249.72 540.85h0.9M252.18 527.13h0.9M251.86 533.61h0.9M252.29 522.9h0.9M254.05 565.89h0.9M249.48 568.77h0.9M250.38 552.11h0.9M253.37 554.97h0.9M252.68 563.15h0.9M253.95 564.39h0.9M248.04 561.07h0.9M252.07 557.56h0.9M253.6 569.37h0.9M250.84 553.2h0.9M253.01 572.96h0.9M256.42 564.98h0.9M252.55 550.4h0.9M249.35 560.09h0.9M252.23 562.63h0.9M250.12 578.08h0.9M253.38 561.09h0.9M251.35 577.6h0.9M253.8 574.13h0.9M251.13 573.04h0.9M251.78 578.92h0.9M251.85 573.36h0.9M254.34 576.24h0.9M251 575.44h0.9M254.68 578.21h0.9M255.38 577.22h0.9M250.04 576.11h0.9M251.73 575.95h0.9M253.8 579.99h0.9M249.11 577h0.9M250.16 579.98h0.9M253.05 572.72h0.9M252.59 581.04h0.9M249.75 577.17h0.9M254.58 572.83h0.9M250.18 576.47h0.9M251.05 579.48h0.9M253.06 576.6h0.9M255.34 572.65h0.9M250.7 577.84h0.9M250.3 572.08h0.9M252.47 576.67h0.9M312.04 532.78h0.9M301.08 546.55h0.9M305.92 542.11h0.9M318.72 547.45h0.9M314.81 549.07h0.9M309.49 535.12h0.9M310.74 541.42h0.9M311.09 542.87h0.9M306.42 545.35h0.9M303.87 541.63h0.9M309.18 541.72h0.9M314.24 538.98h0.9M278.2 595.08h0.9" stroke="#505050" stroke-width="0.9" fill="none"/>
<path d="M255.19 529.92h0.9M251.91 532.4h0.9M251.93 539.46h0.9M250.48 536.89h0.9M252.68 523.76h0.9M251.04 528.42h0.9M249.92 531.7h0.9M251.61 532.19h0.9M251.37 538.43h0.9M252.74 532.34h0.9M251.66 525.53h0.9M249.57 531.12h0.9M250.73 534.18h0.9M251.91 541.18h0.9M250.19 528.35h0.9M252.98 525.42h0.9M251.6 532.11h0.9M255.89 527.91h0.9M252.43 525.5h0.9M251.72 530.56h0.9M250.93 522.1h0.9M251.86 530.57h0.9M253.24 529.08h0.9M251.31 525.69h0.9M251.96 518.94h0.9M251.05 527.14h0.9M249.47 539.69h0.9M253.12 535.74h0.9M252.36 534.58h0.9M252.81 530.5h0.9M253.79 545.16h0.9M250.36 537.22h0.9M253.78 543.75h0.9M254.59 535.83h0.9M252.91 525.86h0.9M251.46 524.18h0.9M252.47 535.12h0.9M251.7 524.14h0.9M251.01 527.56h0.9M254.83 532.32h0.9M254.17 548.09h0.9M253.35 557h0.9M254.34 557.9h0.9M252.74 548.11h0.9M253.92 563.36h0.9M246.81 563.45h0.9M251.91 549.58h0.9M254.01 544h0.9M249.09 562.29h0.9M253.19 539.7h0.9M253.14 562.17h0.9M250.69 558.76h0.9M254.26 544.77h0.9M253.09 559.58h0.9M252.2 545.62h0.9M255.14 548.46h0.9M250.61 551.71h0.9M253.73 568.31h0.9M252.89 558.31h0.9M255.87 568.89h0.9M255.8 554.43h0.9M253.26 563.15h0.9M252.38 567.81h0.9M247.18 559.79h0.9M251.95 556.49h0.9M252.88 550.87h0.9M251.71 553.7h0.9M253.22 549.86h0.9M255.95 543.71h0.9M255.51 559.8h0.9M255.16 549.22h0.9M251.09 552.16h0.9M249.74 574.75h0.9M251.83 577.56h0.9M250.86 573.52h0.9M251.56 571.8h0.9M248.42 574.17h0.9M252.84 572.69h0.9M252.49 574.87h0.9M251.15 576.8h0.9M251.84 578.49h0.9M247.69 577.84h0.9M251.55 573.28h0.9M250.89 579.21h0.9M249.98 576.89h0.9M249.51 576.42h0.9M249.95 574.96h0.9M251.91 574.36h0.9M250.76 580.4h0.9M252.16 576.6h0.9M255.48 575.51h0.9M254.18 577.65h0.9M250.42 575.71h0.9M252.39 573.92h0.9M252.39 573.94h0.9M310.06 541.69h0.9M310.24 551.12h0.9M307.56 547.88h0.9M309.73 538.24h0.9M311.79 538.82h0.9M264.84 590.13h0.9M262.68 545.66h0.9" stroke="#606060" stroke-width="0.9" fill="none"/>
<path d="M256.82 531.72h0.9M252.83 532.06h0.9M248.28 521.74h0.9M251.89 521.25h0.9M249.65 517.78h0.9M254.15 535.76h0.9M248.72 527.74h0.9M255.2 526.81h0.9M252.45 524.2h0.9M248.57 531.99h0.9M253.53 537.12h0.9M251.8 526.57h0.9M251.67 525.76h0.9M252.34 515.73h0.9M252.44 532.53h0.9M254.39 522.31h0.9M251.9 538.84h0.9M251.21 541.84h0.9M248.74 531.53h0.9M249.99 524h0.9M247.53 529.83h0.9M251.95 530.49h0.9M253.89 524.65h0.9M254.2 542.12h0.9M250.17 539.21h0.9M254.62 534.78h0.9M254.98 522.56h0.9M250.63 530.64h0.9M251.77 522.43h0.9M254.15 547.87h0.9M250.74 535.35h0.9M249.89 540.83h0.9M252.8 525.13h0.9M252.81 525.48h0.9M251.46 539.19h0.9M248.63 527.99h0.9M255.99 525.23h0.9M254.76 530.51h0.9M251.84 518.52h0.9M251.8 532.05h0.9M253.81 521.96h0.9M256.1 557.48h0.9M255.4 562.98h0.9M253.37 555.34h0.9M255.8 558.18h0.9M248.34 551.38h0.9M251.1 570.19h0.9M246.81 550.25h0.9M251.81 534.4h0.9M254.44 564.09h0.9M252.7 562.29h0.9M250.01 557.04h0.9M251.26 537.65h0.9M251.96 558.55h0.9M252.56 565.34h0.9M254.43 570.31h0.9M249.72 548.63h0.9M251.89 563.72h0.9M250.81 558.35h0.9M250.97 548.65h0.9M251.2 551.96h0.9M252.32 573.69h0.9M250.92 572.92h0.9M251.62 577.13h0.9M252.45 576h0.9M248.15 577.02h0.9M250.68 575.71h0.9M250.33 575.35h0.9M248.85 574.9h0.9M249.53 568.73h0.9M252.65 574.39h0.9M246.43 577.25h0.9M253.49 576.15h0.9M251.29 578.32h0.9M251.27 576.39h0.9M254.9 575.86h0.9M253.32 581.36h0.9M250.04 577.51h0.9M251.52 578.16h0.9M313.38 548.44h0.9M310.88 538.6h0.9M314.26 544.05h0.9M305.36 543.95h0.9M315.36 545.24h0.9M314.7 547.31h0.9M309.46 544.56h0.9M311.58 533.23h0.9" stroke="#707070" stroke-width="0.9" fill="none"/>
<path d="M250.58 531.1h0.9M252.35 530.15h0.9M248.99 523.09h0.9M250.2 533.17h0.9M253.43 529.75h0.9M251.05 532.8h0.9M248.43 526.85h0.9M251.31 530.67h0.9M248.29 540.52h0.9M249.55 533.45h0.9M252.62 527.68h0.9M248.05 533.47h0.9M250.17 528.32h0.9M250.31 533.99h0.9M252.91 530.62h0.9M249.41 536.59h0.9M255.43 527.28h0.9M255.35 540.13h0.9M254.08 520.04h0.9M250.43 543.67h0.9M251.03 533.25h0.9M251.64 528.72h0.9M252.76 532.2h0.9M249.14 532.6h0.9M253.63 523.4h0.9M249.17 554.91h0.9M247.09 540.55h0.9M249.49 565.59h0.9M252.54 567.84h0.9M252.4 559.64h0.9M252.08 550.59h0.9M249.69 556.95h0.9M254.77 541.67h0.9M245.96 555.58h0.9M253.6 558.39h0.9M247.88 555.7h0.9M253.26 550.86h0.9M256.85 560.54h0.9M249.29 578.34h0.9M251.95 552.3h0.9M248.78 561.26h0.9M252.96 540.75h0.9M250.51 536.63h0.9M253.22 547.23h0.9M250.9 555.16h0.9M249.64 579.51h0.9M248.36 573.72h0.9M252.33 580.32h0.9M250.61 576.96h0.9M247.41 575.18h0.9M254.27 580.18h0.9M253.73 576.55h0.9M252.9 571.86h0.9M252.78 573.55h0.9M251 572.67h0.9M252.12 572.27h0.9M252.79 575.66h0.9M302.53 539.12h0.9M315.61 545.11h0.9M306.05 547.8h0.9M303.89 544.87h0.9M304.4 548.2h0.9M315.37 543.24h0.9M273.33 558.54h0.9" stroke="#808080" stroke-width="0.9" fill="none"/>
<path d="M476.4 530.86h0.9M442.92 538.54h0.9M480.51 543.94h0.9M464.81 535.92h0.9M475.37 537.24h0.9" stroke="#808080" stroke-width="0.9" fill="none"/>
<path d="M461.7 547.28h0.9M455.73 537.15h0.9M467.58 547.11h0.9" stroke="#909090" stroke-width="0.9" fill="none"/>
<path d="M473.1 546.47h0.9M471.49 548.55h0.9M470.77 536.49h0.9M466.86 558.65h0.9M466.98 535.2h0.9M445.45 532.03h0.9M459.13 529.84h0.9M476.96 543.33h0.9M456.44 543.8h0.9M472.17 541.04h0.9M457.04 541.21h0.9M464.88 538.03h0.9M463.75 536.69h0.9M474.76 546.54h0.9" stroke="#a0a0a0" stroke-width="0.9" fill="none"/>
<path d="M474.32 533.94h0.9M475.88 546.92h0.9M471.43 535.39h0.9M462.3 546.16h0.9M464.32 535.28h0.9M465.28 538.15h0.9M474.27 539.87h0.9M465.22 543.59h0.9M474.7 538.74h0.9M470 540.82h0.9M465.44 544.08h0.9M452.96 543.66h0.9M480.12 543.32h0.9" stroke="#b0b0b0" stroke-width="0.9" fill="none"/>
<path d="M462.07 543.47h0.9M450.66 545.11h0.9M455.2 540.56h0.9M454.04 540.09h0.9M461.75 545.74h0.9" stroke="#c0c0c0" stroke-width="0.9" fill="none"/>
<path d="M53.3 408.8V368.8H78.8" fill="none" stroke="#a0a0a0" stroke-width="1.1"/>
<path d="M78.8 368.8V408.8H53.3" fill="none" stroke="#3a3a3a" stroke-width="1"/>
<path d="M57.1 569.2V528.5H80.5" fill="none" stroke="#4a4a4a" stroke-width="1.1"/>
<path d="M80.5 528.5V569.2H57.1" fill="none" stroke="#3a3a3a" stroke-width="1"/>
<path d="M276.3 397.3V352.5H331" fill="none" stroke="#4a4a4a" stroke-width="1.1"/>
<path d="M331 352.5V397.3H276.3" fill="none" stroke="#3a3a3a" stroke-width="1"/>
<path d="M276.3 552V507.3H331" fill="none" stroke="#4a4a4a" stroke-width="1.1"/>
<path d="M331 507.3V552H276.3" fill="none" stroke="#3a3a3a" stroke-width="1"/>
</svg>
</body></html>
